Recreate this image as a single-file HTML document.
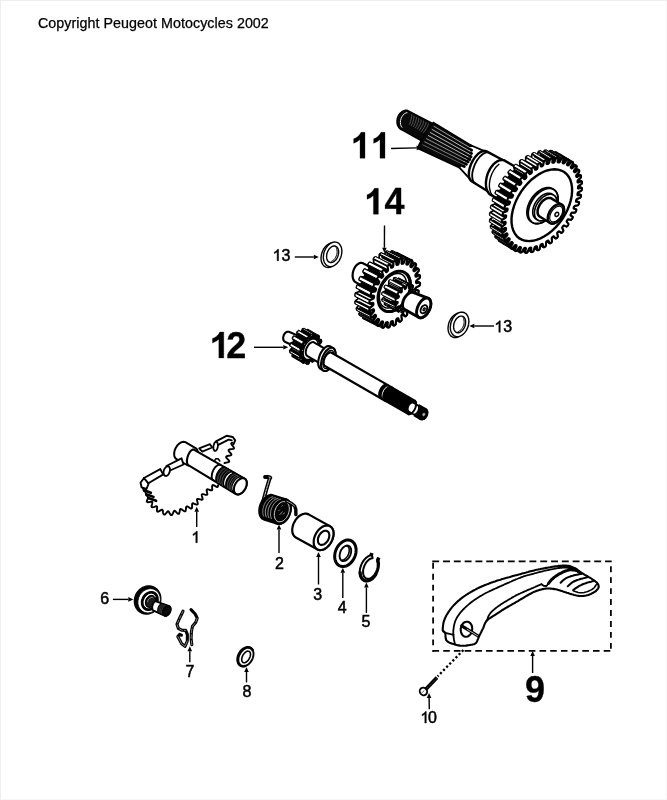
<!DOCTYPE html>
<html><head><meta charset="utf-8"><title>Parts diagram</title>
<style>
html,body{margin:0;padding:0;background:#fff;}
body{width:667px;height:800px;overflow:hidden;position:relative;font-family:"Liberation Sans",sans-serif;}
svg{position:absolute;left:0;top:0;display:block;filter:grayscale(1) blur(0.35px);}
svg text{font-family:"Liberation Sans",sans-serif;fill:#000;}
.frame{position:absolute;left:0;top:0;width:667px;height:800px;box-sizing:border-box;border-top:1px solid #eee;border-left:1px solid #eee;border-right:1px solid #f7f7f7;border-bottom:1px solid #f7f7f7;}
</style></head><body>
<svg width="667" height="800" viewBox="0 0 667 800">
<rect width="667" height="800" fill="#fff"/>
<path d="M402.4 130 L401.2 129.6 L400.2 128.9 L399.3 128 L398.5 126.9 L397.8 125.7 L397.4 124.3 L397.1 122.8 L397.1 121.3 L397.2 119.7 L397.5 118.2 L398 116.7 L398.7 115.3 L399.6 114 L400.6 112.9 L401.7 112 L402.8 111.2 L404.1 110.7 L405.3 110.4 L406.6 110.4 L407.8 110.6 L431.5 123 L432.4 123.9 L433.1 125 L433.6 126.2 L433.9 127.5 L434 128.9 L433.9 130.4 L433.5 131.9 L432.9 133.3 L432.2 134.8 L431.2 136.1 L430.1 137.3 L428.9 138.3 L427.6 139.1 L426.2 139.8 L424.8 140.2 L423.4 140.5 L422 140.4 L420.7 140.2 L419.6 139.7 L418.5 139Z" fill="#0a0a0a" stroke="#000" stroke-width="1.6" stroke-linejoin="round"/>
<path d="M402.2 127.6 L401.2 126.2 L400.6 124.5 L400.4 122.6 L400.5 120.6 L401 118.6 L401.9 116.7 L403 115.1 L404.4 113.8 L405.8 113 L407.4 112.6" fill="none" stroke="#e8e8e8" stroke-width="1" />
<path d="M411.4 114.3 L411.6 114.9 L411.7 115.7 L411.6 116.8 L411.4 118.2 L411 119.8 L410.6 121.4 L410 123.1 L409.3 124.7" fill="none" stroke="#9a9a9a" stroke-width="0.5" />
<path d="M413.8 115.6 L414 116.1 L414 117 L413.9 118.1 L413.6 119.5 L413.2 121 L412.7 122.6 L412 124.3 L411.3 125.9" fill="none" stroke="#9a9a9a" stroke-width="0.5" />
<path d="M416.2 116.9 L416.4 117.4 L416.4 118.3 L416.2 119.4 L415.9 120.8 L415.4 122.3 L414.8 123.9 L414.1 125.5 L413.3 127" fill="none" stroke="#9a9a9a" stroke-width="0.5" />
<path d="M418.7 118.2 L418.8 118.7 L418.8 119.6 L418.5 120.7 L418.1 122 L417.6 123.5 L416.9 125.1 L416.1 126.7 L415.3 128.2" fill="none" stroke="#9a9a9a" stroke-width="0.5" />
<path d="M421.1 119.5 L421.2 120 L421.1 120.9 L420.9 122 L420.4 123.3 L419.8 124.8 L419 126.3 L418.2 127.8 L417.2 129.3" fill="none" stroke="#9a9a9a" stroke-width="0.5" />
<path d="M423.5 120.7 L423.6 121.3 L423.5 122.2 L423.2 123.3 L422.7 124.6 L422 126 L421.1 127.5 L420.2 129 L419.2 130.5" fill="none" stroke="#9a9a9a" stroke-width="0.5" />
<path d="M425.9 122 L426 122.6 L425.9 123.5 L425.5 124.5 L424.9 125.8 L424.2 127.3 L423.3 128.7 L422.3 130.2 L421.2 131.7" fill="none" stroke="#9a9a9a" stroke-width="0.5" />
<path d="M428.4 123.3 L428.4 123.9 L428.2 124.7 L427.8 125.8 L427.2 127.1 L426.3 128.5 L425.4 130 L424.3 131.4 L423.2 132.8" fill="none" stroke="#9a9a9a" stroke-width="0.5" />
<path d="M418 148.6 L417.9 148.3 L418 147.7 L418.3 146.8 L418.7 145.7 L419.4 144.2 L420.2 142.6 L421.1 140.8 L422.2 138.9 L423.3 136.9 L424.5 134.8 L425.7 132.8 L427 130.8 L428.2 129 L429.3 127.3 L430.4 125.9 L431.3 124.6 L432.2 123.7 L432.8 123 L433.3 122.6 L433.6 122.6 L471.6 145.8 L472.1 146.2 L472.4 146.9 L472.5 147.8 L472.5 148.9 L472.4 150.2 L472.1 151.8 L471.6 153.4 L471 155.1 L470.3 156.9 L469.5 158.7 L468.6 160.4 L467.6 162 L466.6 163.6 L465.6 164.9 L464.6 166.1 L463.6 167 L462.7 167.7 L461.9 168.2 L461.2 168.3 L460.6 168.2Z" fill="#0a0a0a" stroke="#000" stroke-width="1.6" stroke-linejoin="round"/>
<path d="M459.4 167.6 L470.2 145 L485 151.4 L485.4 151.8 L485.5 152.5 L485.5 153.6 L485.4 155 L485 156.6 L484.4 158.5 L483.7 160.5 L482.9 162.7 L481.9 164.9 L480.9 167.2 L479.7 169.4 L478.6 171.6 L477.4 173.6 L476.2 175.4 L475.1 177 L474 178.3 L473.1 179.3 L472.2 179.9 L471.5 180.2 L471 180.2Z" fill="#fff" stroke="#000" stroke-width="1.9" stroke-linejoin="round"/>
<path d="M468 148.1 L471.6 150.3" fill="none" stroke="#000" stroke-width="2.9" stroke-linecap="round"/>
<path d="M466.6 150.8 L471.5 153.6" fill="none" stroke="#000" stroke-width="2.9" stroke-linecap="round"/>
<path d="M465.3 153.6 L471 156.7" fill="none" stroke="#000" stroke-width="2.9" stroke-linecap="round"/>
<path d="M463.9 156.3 L469.8 159.4" fill="none" stroke="#000" stroke-width="2.9" stroke-linecap="round"/>
<path d="M462.6 159 L468.1 161.8" fill="none" stroke="#000" stroke-width="2.9" stroke-linecap="round"/>
<path d="M461.2 161.7 L466.4 164.2" fill="none" stroke="#000" stroke-width="2.9" stroke-linecap="round"/>
<path d="M459.9 164.4 L464.3 166.5" fill="none" stroke="#000" stroke-width="2.9" stroke-linecap="round"/>
<path d="M433.6 126.1 L470.5 148" fill="none" stroke="#fff" stroke-width="0.6" />
<path d="M431.7 129.2 L470.4 151.4" fill="none" stroke="#fff" stroke-width="0.7" />
<path d="M429.9 132.3 L469.8 154.5" fill="none" stroke="#fff" stroke-width="0.7" />
<path d="M428 135.4 L468.5 157.2" fill="none" stroke="#fff" stroke-width="0.7" />
<path d="M426.2 138.5 L466.8 159.6" fill="none" stroke="#eee" stroke-width="0.6" />
<path d="M424.3 141.6 L465.1 162.1" fill="none" stroke="#ddd" stroke-width="0.6" />
<path d="M422.5 144.7 L463 164.4" fill="none" stroke="#bbb" stroke-width="0.5" />
<path d="M472.4 181.8 L471.3 181 L470.3 179.9 L469.6 178.5 L469.1 176.7 L468.9 174.7 L468.9 172.5 L469.2 170.2 L469.8 167.8 L470.6 165.3 L471.6 162.9 L472.8 160.6 L474.2 158.4 L475.7 156.4 L477.3 154.7 L478.9 153.2 L480.6 152.1 L482.2 151.4 L483.8 151 L485.3 151 L486.6 151.4 L503.2 160.2 L504.4 160.9 L505.5 162.1 L506.3 163.5 L506.9 165.3 L507.2 167.4 L507.3 169.7 L507 172.1 L506.6 174.7 L505.9 177.3 L504.9 179.9 L503.8 182.4 L502.4 184.7 L501 186.9 L499.4 188.7 L497.7 190.3 L496 191.6 L494.4 192.4 L492.7 192.9 L491.2 192.9 L489.8 192.6Z" fill="#fff" stroke="#000" stroke-width="2.4" stroke-linejoin="round"/>
<path d="M476.7 183.9 L475.5 183.5 L474.4 182.8 L473.5 181.7 L472.8 180.2 L472.4 178.5 L472.2 176.5 L472.2 174.3 L472.5 172 L473.1 169.5 L473.9 167.1 L474.8 164.6 L476 162.3 L477.3 160.1 L478.8 158 L480.4 156.2 L482 154.8 L483.6 153.6 L485.2 152.8 L486.7 152.3 L488.1 152.2" fill="none" stroke="#000" stroke-width="1.8" />
<path d="M492 195.6 L490.4 194.8 L489 193.6 L487.9 192 L487 190.1 L486.3 187.9 L486 185.4 L485.9 182.7 L486.2 180 L486.7 177.1 L487.5 174.3 L488.6 171.6 L489.9 169.1 L491.5 166.7 L493.1 164.7 L494.9 163 L496.8 161.6 L498.7 160.7 L500.6 160.1 L502.5 160 L504.2 160.4 L520 169.6 L521.6 170.4 L523 171.6 L524.2 173.2 L525.2 175.1 L525.9 177.4 L526.2 179.9 L526.3 182.6 L526.1 185.4 L525.6 188.3 L524.8 191.2 L523.7 193.9 L522.4 196.5 L520.9 198.9 L519.2 201 L517.4 202.8 L515.5 204.2 L513.5 205.2 L511.6 205.7 L509.8 205.8 L508 205.5Z" fill="#fff" stroke="#000" stroke-width="2.4" stroke-linejoin="round"/>
<path d="M495.9 197 L494.6 196.6 L493.4 196 L492.4 195 L491.4 193.9 L490.7 192.5 L490.1 190.8 L489.7 189 L489.4 187.1 L489.4 185 L489.5 182.9 L489.8 180.6 L490.3 178.4 L491 176.2 L491.8 174 L492.8 172 L493.9 170 L495.1 168.2 L496.5 166.6 L497.9 165.2 L499.3 164" fill="none" stroke="#000" stroke-width="1.4" />
<path d="M504.1 237.9 L504.5 238.2 L504.6 238.8 L502.8 242.7 L503 243.4 L503.5 243.6 L504 243.8 L504.7 243.6 L507.2 240 L507.9 239.7 L508.4 239.8 L508.8 239.9 L509.1 240.5 L507.7 244.5 L508 245.1 L508.6 245.2 L509.1 245.2 L509.9 244.8 L512 241 L512.7 240.6 L513.2 240.6 L513.7 240.7 L514 241.2 L513.2 245.1 L513.6 245.5 L514.2 245.5 L514.8 245.5 L515.5 245 L517.2 241 L517.9 240.5 L518.4 240.4 L519 240.3 L519.4 240.7 L519.1 244.5 L519.6 244.8 L520.2 244.7 L520.8 244.5 L521.5 243.9 L522.7 240 L523.4 239.3 L523.9 239.2 L524.5 239 L525 239.2 L525.2 242.7 L525.8 243 L526.4 242.7 L527 242.5 L527.7 241.7 L528.4 237.9 L529 237.2 L529.6 236.9 L530.2 236.6 L530.7 236.7 L531.4 239.9 L532.1 240 L532.7 239.6 L533.4 239.3 L533.9 238.5 L534.2 234.8 L534.7 234 L535.2 233.7 L535.8 233.3 L536.4 233.3 L537.7 236 L538.3 236 L539 235.5 L539.6 235.1 L540.1 234.2 L539.8 230.8 L540.2 230 L540.8 229.5 L541.3 229.1 L542 229 L543.7 231.2 L544.4 231 L545 230.5 L545.6 230 L546 229.1 L545.2 226 L545.5 225.2 L546 224.6 L546.5 224.1 L547.2 223.9 L549.3 225.6 L550.1 225.3 L550.6 224.7 L551.2 224.1 L551.5 223.2 L550.2 220.5 L550.4 219.7 L550.9 219.1 L551.3 218.5 L552 218.1 L554.5 219.3 L555.3 218.9 L555.8 218.2 L556.3 217.5 L556.5 216.6 L554.7 214.5 L554.8 213.6 L555.2 213 L555.6 212.4 L556.3 211.9 L559.1 212.5 L559.9 211.9 L560.3 211.2 L560.7 210.5 L560.8 209.6 L558.6 208 L558.6 207.2 L558.9 206.6 L559.3 205.9 L559.9 205.3 L563 205.3 L563.7 204.6 L564 203.9 L564.4 203.1 L564.3 202.3 L561.8 201.3 L561.7 200.6 L561.9 199.9 L562.2 199.2 L562.8 198.6 L566.1 197.9 L566.7 197.2 L566.9 196.4 L567.2 195.7 L567 194.9 L564.2 194.5 L564 193.9 L564.2 193.2 L564.3 192.5 L564.9 191.8 L568.2 190.5 L568.8 189.7 L568.9 189 L569.1 188.2 L568.8 187.6 L565.7 187.8 L565.4 187.3 L565.5 186.6 L565.6 186 L566.1 185.2 L569.4 183.3 L569.9 182.5 L570 181.8 L570 181.1 L569.6 180.5 L566.4 181.4 L566 180.9 L566 180.3 L566 179.7 L566.4 178.9 L569.7 176.5 L570 175.6 L570 175 L570 174.3 L569.5 173.9 L566.2 175.3 L565.7 175 L565.6 174.4 L565.5 173.9 L565.8 173 L568.9 170.2 L569.2 169.3 L569.1 168.7 L568.9 168.1 L568.4 167.8 L565 169.8 L564.5 169.6 L564.3 169.1 L564.1 168.6 L564.3 167.8 L567.2 164.6 L567.4 163.7 L567.2 163.2 L566.9 162.7 L566.3 162.5 L563 165 L562.4 164.9 L562.2 164.5 L561.9 164.1 L562 163.3 L564.6 159.8 L564.6 158.9 L564.3 158.5 L564 158.1 L563.3 158.1 L560.2 161 L559.6 161.1 L559.3 160.7 L558.9 160.4 L558.9 159.7 L561.1 155.9 L561.1 155.1 L560.6 154.8 L560.2 154.5 L559.5 154.6 L556.7 157.9 L556 158.1 L555.6 157.9 L555.2 157.7 L555.1 157 L556.9 153.1 L556.7 152.4 L556.2 152.2 L555.7 152 L555 152.2 L552.5 155.8 L551.8 156.2 L551.3 156 L550.9 155.9 L550.6 155.3 L552 151.3 L551.7 150.8 L551.1 150.7 L550.6 150.6 L549.8 151 L547.7 154.8 L547 155.2 L546.5 155.2 L546 155.2 L545.7 154.7 L546.5 150.8 L546.1 150.3 L545.5 150.3 L544.9 150.3 L544.2 150.8 L542.5 154.8 L541.8 155.3 L541.3 155.4 L540.7 155.5 L540.3 155.1 L540.6 151.3 L540.1 151 L539.5 151.1 L538.9 151.3 L538.2 151.9 L537 155.9 L536.3 156.5 L535.8 156.6 L535.2 156.8 L534.7 156.6 L534.5 153.1 L533.9 152.8 L533.3 153.1 L532.7 153.4 L532 154.1 L531.3 157.9 L530.7 158.7 L530.1 158.9 L529.5 159.2 L529 159.1 L528.3 155.9 L527.6 155.8 L527 156.2 L526.3 156.5 L525.8 157.3 L525.5 161 L525 161.8 L524.5 162.2 L523.9 162.5 L523.3 162.5 L522 159.8 L521.4 159.8 L520.7 160.3 L520.1 160.7 L519.6 161.6 L519.9 165 L519.5 165.8 L518.9 166.3 L518.4 166.7 L517.7 166.8 L516 164.6 L515.3 164.8 L514.7 165.3 L514.1 165.9 L513.7 166.7 L514.5 169.8 L514.2 170.6 L513.7 171.2 L513.2 171.7 L512.5 171.9 L510.4 170.2 L509.6 170.5 L509.1 171.1 L508.5 171.8 L508.2 172.6 L509.5 175.3 L509.3 176.1 L508.8 176.7 L508.4 177.3 L507.7 177.7 L505.2 176.5 L504.4 177 L503.9 177.6 L503.4 178.3 L503.2 179.2 L505 181.4 L504.9 182.2 L504.5 182.8 L504.1 183.4 L503.4 183.9 L500.6 183.3 L499.8 183.9 L499.4 184.6 L499 185.3 L498.9 186.2 L501.1 187.8 L501.1 188.6 L500.8 189.2 L500.4 189.9 L499.8 190.5 L496.7 190.5 L496 191.2 L495.7 191.9 L495.3 192.7 L495.4 193.5 L497.9 194.5 L498 195.2 L497.8 195.9 L497.5 196.6 L496.9 197.2 L493.6 197.9 L493 198.7 L492.8 199.4 L492.5 200.2 L492.7 200.9 L495.5 201.3 L495.7 201.9 L495.5 202.6 L495.4 203.3 L494.8 204 L491.5 205.3 L490.9 206.1 L490.8 206.8 L490.6 207.6 L490.9 208.2 L494 208 L494.3 208.5 L494.2 209.2 L494.1 209.8 L493.6 210.6 L490.3 212.5 L489.8 213.3 L489.7 214 L489.7 214.7 L490.1 215.3 L493.3 214.5 L493.7 214.9 L493.7 215.5 L493.7 216.1 L493.3 216.9 L490 219.3 L489.7 220.2 L489.7 220.9 L489.7 221.5 L490.2 221.9 L493.5 220.5 L494 220.8 L494.1 221.4 L494.2 222 L493.9 222.8 L490.8 225.6 L490.5 226.5 L490.6 227.1 L490.8 227.7 L491.3 228 L494.7 226 L495.2 226.2 L495.4 226.7 L495.6 227.2 L495.4 228 L492.5 231.2 L492.3 232.1 L492.5 232.6 L492.8 233.1 L493.4 233.3 L496.7 230.8 L497.3 230.9 L497.5 231.3 L497.8 231.7 L497.7 232.5 L495.1 236.1 L495.1 236.9 L495.4 237.3 L495.7 237.7 L496.4 237.7 L499.5 234.8 L500.1 234.7 L500.4 235.1 L500.8 235.4 L500.8 236.1 L498.6 239.9 L498.6 240.7 L499.1 241 L499.5 241.3 L500.2 241.2 L503 237.9 L503.7 237.7ZM516.1 245.2 L516.5 245.4 L504.5 238.2 L504.1 237.9ZM516.5 245.4 L516.6 246.1 L504.6 238.8 L504.5 238.2ZM516.6 246.1 L514.8 250 L502.8 242.7 L504.6 238.8ZM514.8 250 L515 250.7 L503 243.4 L502.8 242.7ZM515 250.7 L515.4 250.9 L503.5 243.6 L503 243.4ZM515.4 250.9 L515.9 251.1 L504 243.8 L503.5 243.6ZM515.9 251.1 L516.7 250.9 L504.7 243.6 L504 243.8ZM516.7 250.9 L519.2 247.3 L507.2 240 L504.7 243.6ZM519.2 247.3 L519.9 246.9 L507.9 239.7 L507.2 240ZM519.9 246.9 L520.3 247.1 L508.4 239.8 L507.9 239.7ZM520.3 247.1 L520.8 247.2 L508.8 239.9 L508.4 239.8ZM520.8 247.2 L521 247.8 L509.1 240.5 L508.8 239.9ZM521 247.8 L519.7 251.8 L507.7 244.5 L509.1 240.5ZM519.7 251.8 L520 252.4 L508 245.1 L507.7 244.5ZM520 252.4 L520.5 252.5 L508.6 245.2 L508 245.1ZM520.5 252.5 L521.1 252.5 L509.1 245.2 L508.6 245.2ZM521.1 252.5 L521.8 252.1 L509.9 244.8 L509.1 245.2ZM521.8 252.1 L524 248.3 L512 241 L509.9 244.8ZM524 248.3 L524.7 247.9 L512.7 240.6 L512 241ZM524.7 247.9 L525.2 247.9 L513.2 240.6 L512.7 240.6ZM525.2 247.9 L525.7 248 L513.7 240.7 L513.2 240.6ZM525.7 248 L526 248.4 L514 241.2 L513.7 240.7ZM526 248.4 L525.1 252.3 L513.2 245.1 L514 241.2ZM525.1 252.3 L525.5 252.8 L513.6 245.5 L513.2 245.1ZM525.5 252.8 L526.1 252.8 L514.2 245.5 L513.6 245.5ZM526.1 252.8 L526.7 252.8 L514.8 245.5 L514.2 245.5ZM526.7 252.8 L527.4 252.3 L515.5 245 L514.8 245.5ZM527.4 252.3 L529.2 248.3 L517.2 241 L515.5 245ZM529.2 248.3 L529.8 247.8 L517.9 240.5 L517.2 241ZM529.8 247.8 L530.4 247.7 L518.4 240.4 L517.9 240.5ZM530.4 247.7 L530.9 247.6 L519 240.3 L518.4 240.4ZM530.9 247.6 L531.3 248 L519.4 240.7 L519 240.3ZM531.3 248 L531 251.8 L519.1 244.5 L519.4 240.7ZM531 251.8 L531.5 252.1 L519.6 244.8 L519.1 244.5ZM531.5 252.1 L532.1 252 L520.2 244.7 L519.6 244.8ZM532.1 252 L532.7 251.8 L520.8 244.5 L520.2 244.7ZM532.7 251.8 L533.4 251.2 L521.5 243.9 L520.8 244.5ZM533.4 251.2 L534.7 247.3 L522.7 240 L521.5 243.9ZM534.7 247.3 L535.3 246.6 L523.4 239.3 L522.7 240ZM535.3 246.6 L535.9 246.5 L523.9 239.2 L523.4 239.3ZM535.9 246.5 L536.4 246.3 L524.5 239 L523.9 239.2ZM536.4 246.3 L537 246.5 L525 239.2 L524.5 239ZM537 246.5 L537.1 250 L525.2 242.7 L525 239.2ZM537.1 250 L537.7 250.3 L525.8 243 L525.2 242.7ZM537.7 250.3 L538.4 250 L526.4 242.7 L525.8 243ZM538.4 250 L539 249.8 L527 242.5 L526.4 242.7ZM539 249.8 L539.6 249 L527.7 241.7 L527 242.5ZM539.6 249 L540.4 245.2 L528.4 237.9 L527.7 241.7ZM540.4 245.2 L541 244.5 L529 237.2 L528.4 237.9ZM541 244.5 L541.5 244.2 L529.6 236.9 L529 237.2ZM541.5 244.2 L542.1 243.9 L530.2 236.6 L529.6 236.9ZM542.1 243.9 L542.7 244 L530.7 236.7 L530.2 236.6ZM542.7 244 L543.4 247.2 L531.4 239.9 L530.7 236.7ZM543.4 247.2 L544 247.3 L532.1 240 L531.4 239.9ZM544 247.3 L544.7 246.9 L532.7 239.6 L532.1 240ZM544.7 246.9 L545.3 246.6 L533.4 239.3 L532.7 239.6ZM545.3 246.6 L545.9 245.8 L533.9 238.5 L533.4 239.3ZM545.9 245.8 L546.1 242.1 L534.2 234.8 L533.9 238.5ZM546.1 242.1 L546.6 241.3 L534.7 234 L534.2 234.8ZM546.6 241.3 L547.2 240.9 L535.2 233.7 L534.7 234ZM547.2 240.9 L547.8 240.6 L535.8 233.3 L535.2 233.7ZM547.8 240.6 L548.4 240.6 L536.4 233.3 L535.8 233.3ZM548.4 240.6 L549.6 243.3 L537.7 236 L536.4 233.3ZM549.6 243.3 L550.3 243.3 L538.3 236 L537.7 236ZM550.3 243.3 L550.9 242.8 L539 235.5 L538.3 236ZM550.9 242.8 L551.5 242.4 L539.6 235.1 L539 235.5ZM551.5 242.4 L552 241.5 L540.1 234.2 L539.6 235.1ZM552 241.5 L551.7 238.1 L539.8 230.8 L540.1 234.2ZM551.7 238.1 L552.2 237.3 L540.2 230 L539.8 230.8ZM552.2 237.3 L552.7 236.8 L540.8 229.5 L540.2 230ZM552.7 236.8 L553.3 236.4 L541.3 229.1 L540.8 229.5ZM553.3 236.4 L553.9 236.3 L542 229 L541.3 229.1ZM553.9 236.3 L555.6 238.5 L543.7 231.2 L542 229ZM555.6 238.5 L556.4 238.3 L544.4 231 L543.7 231.2ZM556.4 238.3 L556.9 237.8 L545 230.5 L544.4 231ZM556.9 237.8 L557.5 237.2 L545.6 230 L545 230.5ZM557.5 237.2 L557.9 236.4 L546 229.1 L545.6 230ZM557.9 236.4 L557.1 233.3 L545.2 226 L546 229.1ZM557.1 233.3 L557.5 232.5 L545.5 225.2 L545.2 226ZM557.5 232.5 L558 231.9 L546 224.6 L545.5 225.2ZM558 231.9 L558.5 231.4 L546.5 224.1 L546 224.6ZM558.5 231.4 L559.2 231.2 L547.2 223.9 L546.5 224.1ZM559.2 231.2 L561.3 232.9 L549.3 225.6 L547.2 223.9ZM561.3 232.9 L562 232.6 L550.1 225.3 L549.3 225.6ZM562 232.6 L562.6 232 L550.6 224.7 L550.1 225.3ZM562.6 232 L563.1 231.3 L551.2 224.1 L550.6 224.7ZM563.1 231.3 L563.4 230.5 L551.5 223.2 L551.2 224.1ZM563.4 230.5 L562.1 227.8 L550.2 220.5 L551.5 223.2ZM562.1 227.8 L562.4 227 L550.4 219.7 L550.2 220.5ZM562.4 227 L562.8 226.4 L550.9 219.1 L550.4 219.7ZM562.8 226.4 L563.3 225.8 L551.3 218.5 L550.9 219.1ZM563.3 225.8 L564 225.4 L552 218.1 L551.3 218.5ZM564 225.4 L566.5 226.6 L554.5 219.3 L552 218.1ZM566.5 226.6 L567.2 226.1 L555.3 218.9 L554.5 219.3ZM567.2 226.1 L567.7 225.5 L555.8 218.2 L555.3 218.9ZM567.7 225.5 L568.2 224.8 L556.3 217.5 L555.8 218.2ZM568.2 224.8 L568.4 223.9 L556.5 216.6 L556.3 217.5ZM568.4 223.9 L566.6 221.7 L554.7 214.5 L556.5 216.6ZM566.6 221.7 L566.8 220.9 L554.8 213.6 L554.7 214.5ZM566.8 220.9 L567.2 220.3 L555.2 213 L554.8 213.6ZM567.2 220.3 L567.6 219.7 L555.6 212.4 L555.2 213ZM567.6 219.7 L568.3 219.2 L556.3 211.9 L555.6 212.4ZM568.3 219.2 L571.1 219.8 L559.1 212.5 L556.3 211.9ZM571.1 219.8 L571.8 219.2 L559.9 211.9 L559.1 212.5ZM571.8 219.2 L572.2 218.5 L560.3 211.2 L559.9 211.9ZM572.2 218.5 L572.6 217.8 L560.7 210.5 L560.3 211.2ZM572.6 217.8 L572.7 216.9 L560.8 209.6 L560.7 210.5ZM572.7 216.9 L570.5 215.3 L558.6 208 L560.8 209.6ZM570.5 215.3 L570.6 214.5 L558.6 207.2 L558.6 208ZM570.6 214.5 L570.9 213.9 L558.9 206.6 L558.6 207.2ZM570.9 213.9 L571.2 213.2 L559.3 205.9 L558.9 206.6ZM571.2 213.2 L571.9 212.6 L559.9 205.3 L559.3 205.9ZM571.9 212.6 L575 212.6 L563 205.3 L559.9 205.3ZM575 212.6 L575.6 211.9 L563.7 204.6 L563 205.3ZM575.6 211.9 L576 211.2 L564 203.9 L563.7 204.6ZM576 211.2 L576.3 210.4 L564.4 203.1 L564 203.9ZM576.3 210.4 L576.3 209.6 L564.3 202.3 L564.4 203.1ZM576.3 209.6 L573.7 208.6 L561.8 201.3 L564.3 202.3ZM573.7 208.6 L573.6 207.9 L561.7 200.6 L561.8 201.3ZM573.6 207.9 L573.9 207.2 L561.9 199.9 L561.7 200.6ZM573.9 207.2 L574.2 206.5 L562.2 199.2 L561.9 199.9ZM574.2 206.5 L574.8 205.9 L562.8 198.6 L562.2 199.2ZM574.8 205.9 L578 205.2 L566.1 197.9 L562.8 198.6ZM578 205.2 L578.6 204.4 L566.7 197.2 L566.1 197.9ZM578.6 204.4 L578.9 203.7 L566.9 196.4 L566.7 197.2ZM578.9 203.7 L579.1 203 L567.2 195.7 L566.9 196.4ZM579.1 203 L579 202.2 L567 194.9 L567.2 195.7ZM579 202.2 L576.1 201.8 L564.2 194.5 L567 194.9ZM576.1 201.8 L575.9 201.2 L564 193.9 L564.2 194.5ZM575.9 201.2 L576.1 200.5 L564.2 193.2 L564 193.9ZM576.1 200.5 L576.3 199.8 L564.3 192.5 L564.2 193.2ZM576.3 199.8 L576.8 199.1 L564.9 191.8 L564.3 192.5ZM576.8 199.1 L580.2 197.8 L568.2 190.5 L564.9 191.8ZM580.2 197.8 L580.7 197 L568.8 189.7 L568.2 190.5ZM580.7 197 L580.9 196.3 L568.9 189 L568.8 189.7ZM580.9 196.3 L581 195.5 L569.1 188.2 L568.9 189ZM581 195.5 L580.8 194.9 L568.8 187.6 L569.1 188.2ZM580.8 194.9 L577.7 195.1 L565.7 187.8 L568.8 187.6ZM577.7 195.1 L577.4 194.6 L565.4 187.3 L565.7 187.8ZM577.4 194.6 L577.5 193.9 L565.5 186.6 L565.4 187.3ZM577.5 193.9 L577.6 193.3 L565.6 186 L565.5 186.6ZM577.6 193.3 L578 192.5 L566.1 185.2 L565.6 186ZM578 192.5 L581.4 190.6 L569.4 183.3 L566.1 185.2ZM581.4 190.6 L581.8 189.8 L569.9 182.5 L569.4 183.3ZM581.8 189.8 L581.9 189.1 L570 181.8 L569.9 182.5ZM581.9 189.1 L582 188.4 L570 181.1 L570 181.8ZM582 188.4 L581.6 187.8 L569.6 180.5 L570 181.1ZM581.6 187.8 L578.3 188.6 L566.4 181.4 L569.6 180.5ZM578.3 188.6 L577.9 188.2 L566 180.9 L566.4 181.4ZM577.9 188.2 L578 187.6 L566 180.3 L566 180.9ZM578 187.6 L578 187 L566 179.7 L566 180.3ZM578 187 L578.3 186.2 L566.4 178.9 L566 179.7ZM578.3 186.2 L581.6 183.8 L569.7 176.5 L566.4 178.9ZM581.6 183.8 L582 182.9 L570 175.6 L569.7 176.5ZM582 182.9 L582 182.3 L570 175 L570 175.6ZM582 182.3 L581.9 181.6 L570 174.3 L570 175ZM581.9 181.6 L581.4 181.2 L569.5 173.9 L570 174.3ZM581.4 181.2 L578.1 182.6 L566.2 175.3 L569.5 173.9ZM578.1 182.6 L577.6 182.3 L565.7 175 L566.2 175.3ZM577.6 182.3 L577.5 181.7 L565.6 174.4 L565.7 175ZM577.5 181.7 L577.5 181.2 L565.5 173.9 L565.6 174.4ZM577.5 181.2 L577.8 180.3 L565.8 173 L565.5 173.9ZM577.8 180.3 L580.9 177.5 L568.9 170.2 L565.8 173ZM580.9 177.5 L581.1 176.6 L569.2 169.3 L568.9 170.2ZM581.1 176.6 L581 176 L569.1 168.7 L569.2 169.3ZM581 176 L580.9 175.4 L568.9 168.1 L569.1 168.7ZM580.9 175.4 L580.3 175.1 L568.4 167.8 L568.9 168.1ZM580.3 175.1 L577 177.1 L565 169.8 L568.4 167.8ZM577 177.1 L576.4 176.9 L564.5 169.6 L565 169.8ZM576.4 176.9 L576.3 176.4 L564.3 169.1 L564.5 169.6ZM576.3 176.4 L576.1 175.9 L564.1 168.6 L564.3 169.1ZM576.1 175.9 L576.3 175.1 L564.3 167.8 L564.1 168.6ZM576.3 175.1 L579.2 171.9 L567.2 164.6 L564.3 167.8ZM579.2 171.9 L579.3 171 L567.4 163.7 L567.2 164.6ZM579.3 171 L579.1 170.5 L567.2 163.2 L567.4 163.7ZM579.1 170.5 L578.9 170 L566.9 162.7 L567.2 163.2ZM578.9 170 L578.2 169.8 L566.3 162.5 L566.9 162.7ZM578.2 169.8 L575 172.3 L563 165 L566.3 162.5ZM575 172.3 L574.4 172.2 L562.4 164.9 L563 165ZM574.4 172.2 L574.1 171.8 L562.2 164.5 L562.4 164.9ZM574.1 171.8 L573.9 171.4 L561.9 164.1 L562.2 164.5ZM573.9 171.4 L574 170.6 L562 163.3 L561.9 164.1ZM574 170.6 L576.6 167.1 L564.6 159.8 L562 163.3ZM576.6 167.1 L576.6 166.2 L564.6 158.9 L564.6 159.8ZM576.6 166.2 L576.3 165.8 L564.3 158.5 L564.6 158.9ZM576.3 165.8 L575.9 165.4 L564 158.1 L564.3 158.5ZM575.9 165.4 L575.3 165.4 L563.3 158.1 L564 158.1ZM575.3 165.4 L572.2 168.3 L560.2 161 L563.3 158.1ZM572.2 168.3 L571.5 168.4 L559.6 161.1 L560.2 161ZM571.5 168.4 L571.2 168 L559.3 160.7 L559.6 161.1ZM571.2 168 L570.9 167.7 L558.9 160.4 L559.3 160.7ZM570.9 167.7 L570.8 167 L558.9 159.7 L558.9 160.4ZM570.8 167 L573.1 163.2 L561.1 155.9 L558.9 159.7ZM573.1 163.2 L573 162.4 L561.1 155.1 L561.1 155.9ZM573 162.4 L572.6 162.1 L560.6 154.8 L561.1 155.1ZM572.6 162.1 L572.2 161.8 L560.2 154.5 L560.6 154.8ZM572.2 161.8 L571.5 161.9 L559.5 154.6 L560.2 154.5ZM571.5 161.9 L568.6 165.2 L556.7 157.9 L559.5 154.6ZM568.6 165.2 L567.9 165.4 L556 158.1 L556.7 157.9ZM567.9 165.4 L567.5 165.2 L555.6 157.9 L556 158.1ZM567.5 165.2 L567.1 165 L555.2 157.7 L555.6 157.9ZM567.1 165 L567 164.3 L555.1 157 L555.2 157.7ZM567 164.3 L568.8 160.4 L556.9 153.1 L555.1 157ZM568.8 160.4 L568.6 159.7 L556.7 152.4 L556.9 153.1ZM568.6 159.7 L568.2 159.5 L556.2 152.2 L556.7 152.4ZM568.2 159.5 L567.7 159.3 L555.7 152 L556.2 152.2ZM567.7 159.3 L566.9 159.5 L555 152.2 L555.7 152ZM566.9 159.5 L564.4 163.1 L552.5 155.8 L555 152.2ZM564.4 163.1 L563.7 163.5 L551.8 156.2 L552.5 155.8ZM563.7 163.5 L563.3 163.3 L551.3 156 L551.8 156.2ZM563.3 163.3 L562.8 163.2 L550.9 155.9 L551.3 156ZM562.8 163.2 L562.6 162.6 L550.6 155.3 L550.9 155.9ZM562.6 162.6 L563.9 158.6 L552 151.3 L550.6 155.3ZM563.9 158.6 L563.6 158 L551.7 150.8 L552 151.3ZM563.6 158 L563.1 157.9 L551.1 150.7 L551.7 150.8ZM563.1 157.9 L562.5 157.9 L550.6 150.6 L551.1 150.7ZM562.5 157.9 L561.8 158.3 L549.8 151 L550.6 150.6ZM561.8 158.3 L559.6 162.1 L547.7 154.8 L549.8 151ZM559.6 162.1 L558.9 162.5 L547 155.2 L547.7 154.8ZM558.9 162.5 L558.4 162.5 L546.5 155.2 L547 155.2ZM558.4 162.5 L557.9 162.4 L546 155.2 L546.5 155.2ZM557.9 162.4 L557.6 162 L545.7 154.7 L546 155.2ZM557.6 162 L558.5 158.1 L546.5 150.8 L545.7 154.7ZM558.5 158.1 L558.1 157.6 L546.1 150.3 L546.5 150.8ZM558.1 157.6 L557.5 157.6 L545.5 150.3 L546.1 150.3ZM557.5 157.6 L556.9 157.6 L544.9 150.3 L545.5 150.3ZM556.9 157.6 L556.2 158.1 L544.2 150.8 L544.9 150.3ZM556.2 158.1 L554.4 162.1 L542.5 154.8 L544.2 150.8ZM554.4 162.1 L553.8 162.6 L541.8 155.3 L542.5 154.8ZM553.8 162.6 L553.2 162.7 L541.3 155.4 L541.8 155.3ZM553.2 162.7 L552.7 162.8 L540.7 155.5 L541.3 155.4ZM552.7 162.8 L552.3 162.4 L540.3 155.1 L540.7 155.5ZM552.3 162.4 L552.6 158.6 L540.6 151.3 L540.3 155.1ZM552.6 158.6 L552.1 158.3 L540.1 151 L540.6 151.3ZM552.1 158.3 L551.5 158.4 L539.5 151.1 L540.1 151ZM551.5 158.4 L550.9 158.6 L538.9 151.3 L539.5 151.1ZM550.9 158.6 L550.2 159.2 L538.2 151.9 L538.9 151.3ZM550.2 159.2 L548.9 163.1 L537 155.9 L538.2 151.9ZM548.9 163.1 L548.3 163.8 L536.3 156.5 L537 155.9ZM548.3 163.8 L547.7 163.9 L535.8 156.6 L536.3 156.5ZM547.7 163.9 L547.2 164.1 L535.2 156.8 L535.8 156.6ZM547.2 164.1 L546.6 163.9 L534.7 156.6 L535.2 156.8ZM546.6 163.9 L546.5 160.4 L534.5 153.1 L534.7 156.6ZM546.5 160.4 L545.9 160.1 L533.9 152.8 L534.5 153.1ZM545.9 160.1 L545.2 160.4 L533.3 153.1 L533.9 152.8ZM545.2 160.4 L544.6 160.6 L532.7 153.4 L533.3 153.1ZM544.6 160.6 L544 161.4 L532 154.1 L532.7 153.4ZM544 161.4 L543.2 165.2 L531.3 157.9 L532 154.1ZM543.2 165.2 L542.6 165.9 L530.7 158.7 L531.3 157.9ZM542.6 165.9 L542.1 166.2 L530.1 158.9 L530.7 158.7ZM542.1 166.2 L541.5 166.5 L529.5 159.2 L530.1 158.9ZM541.5 166.5 L540.9 166.4 L529 159.1 L529.5 159.2ZM540.9 166.4 L540.2 163.2 L528.3 155.9 L529 159.1ZM540.2 163.2 L539.6 163.1 L527.6 155.8 L528.3 155.9ZM539.6 163.1 L538.9 163.5 L527 156.2 L527.6 155.8ZM538.9 163.5 L538.3 163.8 L526.3 156.5 L527 156.2ZM538.3 163.8 L537.7 164.6 L525.8 157.3 L526.3 156.5ZM537.7 164.6 L537.5 168.3 L525.5 161 L525.8 157.3ZM537.5 168.3 L537 169.1 L525 161.8 L525.5 161ZM537 169.1 L536.4 169.5 L524.5 162.2 L525 161.8ZM536.4 169.5 L535.8 169.8 L523.9 162.5 L524.5 162.2ZM535.8 169.8 L535.2 169.8 L523.3 162.5 L523.9 162.5ZM535.2 169.8 L534 167.1 L522 159.8 L523.3 162.5ZM534 167.1 L533.3 167.1 L521.4 159.8 L522 159.8ZM533.3 167.1 L532.7 167.6 L520.7 160.3 L521.4 159.8ZM532.7 167.6 L532.1 168 L520.1 160.7 L520.7 160.3ZM532.1 168 L531.6 168.9 L519.6 161.6 L520.1 160.7ZM531.6 168.9 L531.9 172.3 L519.9 165 L519.6 161.6ZM531.9 172.3 L531.4 173.1 L519.5 165.8 L519.9 165ZM531.4 173.1 L530.9 173.6 L518.9 166.3 L519.5 165.8ZM530.9 173.6 L530.3 174 L518.4 166.7 L518.9 166.3ZM530.3 174 L529.7 174.1 L517.7 166.8 L518.4 166.7ZM529.7 174.1 L528 171.9 L516 164.6 L517.7 166.8ZM528 171.9 L527.2 172.1 L515.3 164.8 L516 164.6ZM527.2 172.1 L526.7 172.6 L514.7 165.3 L515.3 164.8ZM526.7 172.6 L526.1 173.2 L514.1 165.9 L514.7 165.3ZM526.1 173.2 L525.7 174 L513.7 166.7 L514.1 165.9ZM525.7 174 L526.5 177.1 L514.5 169.8 L513.7 166.7ZM526.5 177.1 L526.1 177.9 L514.2 170.6 L514.5 169.8ZM526.1 177.9 L525.6 178.5 L513.7 171.2 L514.2 170.6ZM525.6 178.5 L525.1 179 L513.2 171.7 L513.7 171.2ZM525.1 179 L524.4 179.2 L512.5 171.9 L513.2 171.7ZM524.4 179.2 L522.3 177.5 L510.4 170.2 L512.5 171.9ZM522.3 177.5 L521.6 177.8 L509.6 170.5 L510.4 170.2ZM521.6 177.8 L521 178.4 L509.1 171.1 L509.6 170.5ZM521 178.4 L520.5 179.1 L508.5 171.8 L509.1 171.1ZM520.5 179.1 L520.2 179.9 L508.2 172.6 L508.5 171.8ZM520.2 179.9 L521.5 182.6 L509.5 175.3 L508.2 172.6ZM521.5 182.6 L521.2 183.4 L509.3 176.1 L509.5 175.3ZM521.2 183.4 L520.8 184 L508.8 176.7 L509.3 176.1ZM520.8 184 L520.3 184.6 L508.4 177.3 L508.8 176.7ZM520.3 184.6 L519.6 185 L507.7 177.7 L508.4 177.3ZM519.6 185 L517.1 183.8 L505.2 176.5 L507.7 177.7ZM517.1 183.8 L516.4 184.3 L504.4 177 L505.2 176.5ZM516.4 184.3 L515.9 184.9 L503.9 177.6 L504.4 177ZM515.9 184.9 L515.4 185.6 L503.4 178.3 L503.9 177.6ZM515.4 185.6 L515.2 186.5 L503.2 179.2 L503.4 178.3ZM515.2 186.5 L517 188.7 L505 181.4 L503.2 179.2ZM517 188.7 L516.8 189.5 L504.9 182.2 L505 181.4ZM516.8 189.5 L516.4 190.1 L504.5 182.8 L504.9 182.2ZM516.4 190.1 L516 190.7 L504.1 183.4 L504.5 182.8ZM516 190.7 L515.3 191.2 L503.4 183.9 L504.1 183.4ZM515.3 191.2 L512.5 190.6 L500.6 183.3 L503.4 183.9ZM512.5 190.6 L511.8 191.2 L499.8 183.9 L500.6 183.3ZM511.8 191.2 L511.4 191.9 L499.4 184.6 L499.8 183.9ZM511.4 191.9 L511 192.6 L499 185.3 L499.4 184.6ZM511 192.6 L510.9 193.5 L498.9 186.2 L499 185.3ZM510.9 193.5 L513.1 195.1 L501.1 187.8 L498.9 186.2ZM513.1 195.1 L513 195.9 L501.1 188.6 L501.1 187.8ZM513 195.9 L512.7 196.5 L500.8 189.2 L501.1 188.6ZM512.7 196.5 L512.4 197.2 L500.4 189.9 L500.8 189.2ZM512.4 197.2 L511.7 197.8 L499.8 190.5 L500.4 189.9ZM511.7 197.8 L508.6 197.8 L496.7 190.5 L499.8 190.5ZM508.6 197.8 L508 198.5 L496 191.2 L496.7 190.5ZM508 198.5 L507.6 199.2 L495.7 191.9 L496 191.2ZM507.6 199.2 L507.3 200 L495.3 192.7 L495.7 191.9ZM507.3 200 L507.3 200.8 L495.4 193.5 L495.3 192.7ZM507.3 200.8 L509.9 201.8 L497.9 194.5 L495.4 193.5ZM509.9 201.8 L510 202.5 L498 195.2 L497.9 194.5ZM510 202.5 L509.7 203.2 L497.8 195.9 L498 195.2ZM509.7 203.2 L509.4 203.9 L497.5 196.6 L497.8 195.9ZM509.4 203.9 L508.8 204.5 L496.9 197.2 L497.5 196.6ZM508.8 204.5 L505.6 205.2 L493.6 197.9 L496.9 197.2ZM505.6 205.2 L505 206 L493 198.7 L493.6 197.9ZM505 206 L504.7 206.7 L492.8 199.4 L493 198.7ZM504.7 206.7 L504.5 207.4 L492.5 200.2 L492.8 199.4ZM504.5 207.4 L504.6 208.2 L492.7 200.9 L492.5 200.2ZM504.6 208.2 L507.5 208.6 L495.5 201.3 L492.7 200.9ZM507.5 208.6 L507.7 209.2 L495.7 201.9 L495.5 201.3ZM507.7 209.2 L507.5 209.9 L495.5 202.6 L495.7 201.9ZM507.5 209.9 L507.3 210.6 L495.4 203.3 L495.5 202.6ZM507.3 210.6 L506.8 211.3 L494.8 204 L495.4 203.3ZM506.8 211.3 L503.4 212.6 L491.5 205.3 L494.8 204ZM503.4 212.6 L502.9 213.4 L490.9 206.1 L491.5 205.3ZM502.9 213.4 L502.7 214.1 L490.8 206.8 L490.9 206.1ZM502.7 214.1 L502.6 214.9 L490.6 207.6 L490.8 206.8ZM502.6 214.9 L502.8 215.5 L490.9 208.2 L490.6 207.6ZM502.8 215.5 L505.9 215.3 L494 208 L490.9 208.2ZM505.9 215.3 L506.2 215.8 L494.3 208.5 L494 208ZM506.2 215.8 L506.1 216.5 L494.2 209.2 L494.3 208.5ZM506.1 216.5 L506 217.1 L494.1 209.8 L494.2 209.2ZM506 217.1 L505.6 217.9 L493.6 210.6 L494.1 209.8ZM505.6 217.9 L502.2 219.8 L490.3 212.5 L493.6 210.6ZM502.2 219.8 L501.8 220.6 L489.8 213.3 L490.3 212.5ZM501.8 220.6 L501.7 221.3 L489.7 214 L489.8 213.3ZM501.7 221.3 L501.6 222 L489.7 214.7 L489.7 214ZM501.6 222 L502 222.6 L490.1 215.3 L489.7 214.7ZM502 222.6 L505.3 221.8 L493.3 214.5 L490.1 215.3ZM505.3 221.8 L505.7 222.2 L493.7 214.9 L493.3 214.5ZM505.7 222.2 L505.6 222.8 L493.7 215.5 L493.7 214.9ZM505.6 222.8 L505.6 223.4 L493.7 216.1 L493.7 215.5ZM505.6 223.4 L505.3 224.2 L493.3 216.9 L493.7 216.1ZM505.3 224.2 L502 226.6 L490 219.3 L493.3 216.9ZM502 226.6 L501.6 227.5 L489.7 220.2 L490 219.3ZM501.6 227.5 L501.6 228.1 L489.7 220.9 L489.7 220.2ZM501.6 228.1 L501.7 228.8 L489.7 221.5 L489.7 220.9ZM501.7 228.8 L502.2 229.2 L490.2 221.9 L489.7 221.5ZM502.2 229.2 L505.5 227.8 L493.5 220.5 L490.2 221.9ZM505.5 227.8 L506 228.1 L494 220.8 L493.5 220.5ZM506 228.1 L506.1 228.7 L494.1 221.4 L494 220.8ZM506.1 228.7 L506.1 229.2 L494.2 222 L494.1 221.4ZM506.1 229.2 L505.8 230.1 L493.9 222.8 L494.2 222ZM505.8 230.1 L502.7 232.9 L490.8 225.6 L493.9 222.8ZM502.7 232.9 L502.5 233.8 L490.5 226.5 L490.8 225.6ZM502.5 233.8 L502.6 234.4 L490.6 227.1 L490.5 226.5ZM502.6 234.4 L502.7 235 L490.8 227.7 L490.6 227.1ZM502.7 235 L503.3 235.3 L491.3 228 L490.8 227.7ZM503.3 235.3 L506.6 233.3 L494.7 226 L491.3 228ZM506.6 233.3 L507.2 233.5 L495.2 226.2 L494.7 226ZM507.2 233.5 L507.3 234 L495.4 226.7 L495.2 226.2ZM507.3 234 L507.5 234.5 L495.6 227.2 L495.4 226.7ZM507.5 234.5 L507.3 235.3 L495.4 228 L495.6 227.2ZM507.3 235.3 L504.4 238.5 L492.5 231.2 L495.4 228ZM504.4 238.5 L504.3 239.4 L492.3 232.1 L492.5 231.2ZM504.3 239.4 L504.5 239.9 L492.5 232.6 L492.3 232.1ZM504.5 239.9 L504.7 240.4 L492.8 233.1 L492.5 232.6ZM504.7 240.4 L505.4 240.6 L493.4 233.3 L492.8 233.1ZM505.4 240.6 L508.6 238.1 L496.7 230.8 L493.4 233.3ZM508.6 238.1 L509.2 238.2 L497.3 230.9 L496.7 230.8ZM509.2 238.2 L509.5 238.6 L497.5 231.3 L497.3 230.9ZM509.5 238.6 L509.7 239 L497.8 231.7 L497.5 231.3ZM509.7 239 L509.6 239.8 L497.7 232.5 L497.8 231.7ZM509.6 239.8 L507 243.3 L495.1 236.1 L497.7 232.5ZM507 243.3 L507 244.2 L495.1 236.9 L495.1 236.1ZM507 244.2 L507.3 244.6 L495.4 237.3 L495.1 236.9ZM507.3 244.6 L507.7 245 L495.7 237.7 L495.4 237.3ZM507.7 245 L508.3 245 L496.4 237.7 L495.7 237.7ZM508.3 245 L511.4 242.1 L499.5 234.8 L496.4 237.7ZM511.4 242.1 L512.1 242 L500.1 234.7 L499.5 234.8ZM512.1 242 L512.4 242.4 L500.4 235.1 L500.1 234.7ZM512.4 242.4 L512.7 242.7 L500.8 235.4 L500.4 235.1ZM512.7 242.7 L512.8 243.4 L500.8 236.1 L500.8 235.4ZM512.8 243.4 L510.5 247.2 L498.6 239.9 L500.8 236.1ZM510.5 247.2 L510.6 248 L498.6 240.7 L498.6 239.9ZM510.6 248 L511 248.3 L499.1 241 L498.6 240.7ZM511 248.3 L511.4 248.6 L499.5 241.3 L499.1 241ZM511.4 248.6 L512.1 248.5 L500.2 241.2 L499.5 241.3ZM512.1 248.5 L515 245.2 L503 237.9 L500.2 241.2ZM515 245.2 L515.7 245 L503.7 237.7 L503 237.9ZM515.7 245 L516.1 245.2 L504.1 237.9 L503.7 237.7Z" fill="#000" stroke="#000" stroke-width="1.7" stroke-linejoin="round"/>
<path d="M514.6 250.5 L516.3 251.3 L504.4 244 L502.6 243.2ZM576.9 166.6 L575.6 165 L563.7 157.7 L564.9 159.3ZM573.3 162.7 L571.8 161.5 L559.9 154.2 L561.4 155.4ZM569 159.9 L567.3 159.1 L555.3 151.8 L557.1 152.6ZM564.1 158.1 L562.1 157.8 L550.1 150.5 L552.1 150.9ZM558.6 157.6 L556.4 157.7 L544.4 150.4 L546.6 150.3ZM552.6 158.2 L550.3 158.7 L538.4 151.4 L540.7 150.9ZM546.4 159.9 L544.1 160.9 L532.1 153.6 L534.5 152.6ZM540.1 162.8 L537.8 164.2 L525.8 156.9 L528.2 155.5ZM533.8 166.7 L531.5 168.4 L519.6 161.2 L521.9 159.4ZM527.8 171.6 L525.6 173.6 L513.6 166.3 L515.8 164.3ZM522 177.3 L520 179.6 L508.1 172.3 L510.1 170ZM516.8 183.7 L515 186.2 L503 178.9 L504.8 176.4ZM512.2 190.6 L510.6 193.3 L498.7 186 L500.2 183.3ZM508.3 197.8 L507 200.6 L495.1 193.3 L496.3 190.6ZM505.2 205.3 L504.3 208.1 L492.3 200.8 L493.2 198ZM503 212.7 L502.5 215.5 L490.5 208.2 L491.1 205.5ZM501.8 220 L501.6 222.6 L489.7 215.4 L489.9 212.7ZM501.6 226.9 L501.7 229.4 L489.8 222.1 L489.6 219.6ZM502.3 233.3 L502.9 235.5 L490.9 228.2 L490.4 226ZM504.1 238.9 L505 240.9 L493 233.6 L492.1 231.7ZM506.7 243.8 L508 245.4 L496 238.1 L494.8 236.5ZM510.3 247.7 L511.8 248.9 L499.8 241.6 L498.3 240.4Z" fill="#fff" stroke="#000" stroke-width="0.9" stroke-linejoin="round"/>
<path d="M516.1 245.2 L516.5 245.4 L516.6 246.1 L514.8 250 L515 250.7 L515.4 250.9 L515.9 251.1 L516.7 250.9 L519.2 247.3 L519.9 246.9 L520.3 247.1 L520.8 247.2 L521 247.8 L519.7 251.8 L520 252.4 L520.5 252.5 L521.1 252.5 L521.8 252.1 L524 248.3 L524.7 247.9 L525.2 247.9 L525.7 248 L526 248.4 L525.1 252.3 L525.5 252.8 L526.1 252.8 L526.7 252.8 L527.4 252.3 L529.2 248.3 L529.8 247.8 L530.4 247.7 L530.9 247.6 L531.3 248 L531 251.8 L531.5 252.1 L532.1 252 L532.7 251.8 L533.4 251.2 L534.7 247.3 L535.3 246.6 L535.9 246.5 L536.4 246.3 L537 246.5 L537.1 250 L537.7 250.3 L538.4 250 L539 249.8 L539.6 249 L540.4 245.2 L541 244.5 L541.5 244.2 L542.1 243.9 L542.7 244 L543.4 247.2 L544 247.3 L544.7 246.9 L545.3 246.6 L545.9 245.8 L546.1 242.1 L546.6 241.3 L547.2 240.9 L547.8 240.6 L548.4 240.6 L549.6 243.3 L550.3 243.3 L550.9 242.8 L551.5 242.4 L552 241.5 L551.7 238.1 L552.2 237.3 L552.7 236.8 L553.3 236.4 L553.9 236.3 L555.6 238.5 L556.4 238.3 L556.9 237.8 L557.5 237.2 L557.9 236.4 L557.1 233.3 L557.5 232.5 L558 231.9 L558.5 231.4 L559.2 231.2 L561.3 232.9 L562 232.6 L562.6 232 L563.1 231.3 L563.4 230.5 L562.1 227.8 L562.4 227 L562.8 226.4 L563.3 225.8 L564 225.4 L566.5 226.6 L567.2 226.1 L567.7 225.5 L568.2 224.8 L568.4 223.9 L566.6 221.7 L566.8 220.9 L567.2 220.3 L567.6 219.7 L568.3 219.2 L571.1 219.8 L571.8 219.2 L572.2 218.5 L572.6 217.8 L572.7 216.9 L570.5 215.3 L570.6 214.5 L570.9 213.9 L571.2 213.2 L571.9 212.6 L575 212.6 L575.6 211.9 L576 211.2 L576.3 210.4 L576.3 209.6 L573.7 208.6 L573.6 207.9 L573.9 207.2 L574.2 206.5 L574.8 205.9 L578 205.2 L578.6 204.4 L578.9 203.7 L579.1 203 L579 202.2 L576.1 201.8 L575.9 201.2 L576.1 200.5 L576.3 199.8 L576.8 199.1 L580.2 197.8 L580.7 197 L580.9 196.3 L581 195.5 L580.8 194.9 L577.7 195.1 L577.4 194.6 L577.5 193.9 L577.6 193.3 L578 192.5 L581.4 190.6 L581.8 189.8 L581.9 189.1 L582 188.4 L581.6 187.8 L578.3 188.6 L577.9 188.2 L578 187.6 L578 187 L578.3 186.2 L581.6 183.8 L582 182.9 L582 182.3 L581.9 181.6 L581.4 181.2 L578.1 182.6 L577.6 182.3 L577.5 181.7 L577.5 181.2 L577.8 180.3 L580.9 177.5 L581.1 176.6 L581 176 L580.9 175.4 L580.3 175.1 L577 177.1 L576.4 176.9 L576.3 176.4 L576.1 175.9 L576.3 175.1 L579.2 171.9 L579.3 171 L579.1 170.5 L578.9 170 L578.2 169.8 L575 172.3 L574.4 172.2 L574.1 171.8 L573.9 171.4 L574 170.6 L576.6 167.1 L576.6 166.2 L576.3 165.8 L575.9 165.4 L575.3 165.4 L572.2 168.3 L571.5 168.4 L571.2 168 L570.9 167.7 L570.8 167 L573.1 163.2 L573 162.4 L572.6 162.1 L572.2 161.8 L571.5 161.9 L568.6 165.2 L567.9 165.4 L567.5 165.2 L567.1 165 L567 164.3 L568.8 160.4 L568.6 159.7 L568.2 159.5 L567.7 159.3 L566.9 159.5 L564.4 163.1 L563.7 163.5 L563.3 163.3 L562.8 163.2 L562.6 162.6 L563.9 158.6 L563.6 158 L563.1 157.9 L562.5 157.9 L561.8 158.3 L559.6 162.1 L558.9 162.5 L558.4 162.5 L557.9 162.4 L557.6 162 L558.5 158.1 L558.1 157.6 L557.5 157.6 L556.9 157.6 L556.2 158.1 L554.4 162.1 L553.8 162.6 L553.2 162.7 L552.7 162.8 L552.3 162.4 L552.6 158.6 L552.1 158.3 L551.5 158.4 L550.9 158.6 L550.2 159.2 L548.9 163.1 L548.3 163.8 L547.7 163.9 L547.2 164.1 L546.6 163.9 L546.5 160.4 L545.9 160.1 L545.2 160.4 L544.6 160.6 L544 161.4 L543.2 165.2 L542.6 165.9 L542.1 166.2 L541.5 166.5 L540.9 166.4 L540.2 163.2 L539.6 163.1 L538.9 163.5 L538.3 163.8 L537.7 164.6 L537.5 168.3 L537 169.1 L536.4 169.5 L535.8 169.8 L535.2 169.8 L534 167.1 L533.3 167.1 L532.7 167.6 L532.1 168 L531.6 168.9 L531.9 172.3 L531.4 173.1 L530.9 173.6 L530.3 174 L529.7 174.1 L528 171.9 L527.2 172.1 L526.7 172.6 L526.1 173.2 L525.7 174 L526.5 177.1 L526.1 177.9 L525.6 178.5 L525.1 179 L524.4 179.2 L522.3 177.5 L521.6 177.8 L521 178.4 L520.5 179.1 L520.2 179.9 L521.5 182.6 L521.2 183.4 L520.8 184 L520.3 184.6 L519.6 185 L517.1 183.8 L516.4 184.3 L515.9 184.9 L515.4 185.6 L515.2 186.5 L517 188.7 L516.8 189.5 L516.4 190.1 L516 190.7 L515.3 191.2 L512.5 190.6 L511.8 191.2 L511.4 191.9 L511 192.6 L510.9 193.5 L513.1 195.1 L513 195.9 L512.7 196.5 L512.4 197.2 L511.7 197.8 L508.6 197.8 L508 198.5 L507.6 199.2 L507.3 200 L507.3 200.8 L509.9 201.8 L510 202.5 L509.7 203.2 L509.4 203.9 L508.8 204.5 L505.6 205.2 L505 206 L504.7 206.7 L504.5 207.4 L504.6 208.2 L507.5 208.6 L507.7 209.2 L507.5 209.9 L507.3 210.6 L506.8 211.3 L503.4 212.6 L502.9 213.4 L502.7 214.1 L502.6 214.9 L502.8 215.5 L505.9 215.3 L506.2 215.8 L506.1 216.5 L506 217.1 L505.6 217.9 L502.2 219.8 L501.8 220.6 L501.7 221.3 L501.6 222 L502 222.6 L505.3 221.8 L505.7 222.2 L505.6 222.8 L505.6 223.4 L505.3 224.2 L502 226.6 L501.6 227.5 L501.6 228.1 L501.7 228.8 L502.2 229.2 L505.5 227.8 L506 228.1 L506.1 228.7 L506.1 229.2 L505.8 230.1 L502.7 232.9 L502.5 233.8 L502.6 234.4 L502.7 235 L503.3 235.3 L506.6 233.3 L507.2 233.5 L507.3 234 L507.5 234.5 L507.3 235.3 L504.4 238.5 L504.3 239.4 L504.5 239.9 L504.7 240.4 L505.4 240.6 L508.6 238.1 L509.2 238.2 L509.5 238.6 L509.7 239 L509.6 239.8 L507 243.3 L507 244.2 L507.3 244.6 L507.7 245 L508.3 245 L511.4 242.1 L512.1 242 L512.4 242.4 L512.7 242.7 L512.8 243.4 L510.5 247.2 L510.6 248 L511 248.3 L511.4 248.6 L512.1 248.5 L515 245.2 L515.7 245Z" fill="#fff" stroke="#000" stroke-width="2.1" stroke-linejoin="round"/>
<path d="M519.4 238.4 L522.3 239.9 L525.5 240.8 L529 241.1 L532.7 240.8 L536.5 239.9 L540.5 238.4 L544.4 236.3 L548.3 233.7 L552.2 230.7 L555.8 227.1 L559.2 223.2 L562.3 219 L565 214.6 L567.4 210 L569.3 205.3 L570.7 200.6 L571.7 196 L572.1 191.5 L572 187.3 L571.4 183.4 L570.3 179.8 L568.7 176.7 L566.6 174.1 L564.2 172 L561.3 170.5 L558.1 169.6 L554.6 169.3 L550.9 169.6 L547.1 170.5 L543.1 172 L539.2 174.1 L535.3 176.7 L531.4 179.7 L527.8 183.3 L524.4 187.2 L521.3 191.4 L518.6 195.8 L516.2 200.4 L514.3 205.1 L512.9 209.8 L511.9 214.4 L511.5 218.9 L511.6 223.1 L512.2 227 L513.3 230.6 L514.9 233.7 L517 236.3 L519.4 238.4Z" fill="none" stroke="#000" stroke-width="2.4" />
<path d="M530.8 221.4 L529.4 220.2 L528.3 218.6 L527.5 216.6 L527 214.4 L526.9 211.9 L527.2 209.3 L527.8 206.5 L528.8 203.8 L530.1 201 L531.7 198.4 L533.6 195.9 L535.6 193.7 L537.8 191.8 L540.1 190.2 L542.4 188.9 L544.7 188.1 L547 187.6 L549.1 187.6 L551 188.1 L552.8 189 L554 189.7 L555.5 191 L556.6 192.6 L557.4 194.6 L557.9 196.8 L558 199.3 L557.7 201.9 L557 204.7 L556 207.4 L554.7 210.2 L553.2 212.8 L551.3 215.2 L549.3 217.5 L547.1 219.4 L544.8 221 L542.5 222.3 L540.1 223.1 L537.9 223.5 L535.8 223.5 L533.8 223.1 L532.1 222.2Z" fill="#fff" stroke="#000" stroke-width="1.8" stroke-linejoin="round"/>
<path d="M532.1 222.2 L533.8 223.1 L535.8 223.5 L537.9 223.5 L540.1 223.1 L542.5 222.3 L544.8 221 L547.1 219.4 L549.3 217.5 L551.3 215.2 L553.2 212.8 L554.7 210.2 L556 207.4 L557 204.7 L557.7 201.9 L558 199.3 L557.9 196.8 L557.4 194.6 L556.6 192.6 L555.5 191 L554 189.7 L552.3 188.9 L550.4 188.4 L548.3 188.4 L546 188.8 L543.7 189.7 L541.4 190.9 L539.1 192.5 L536.9 194.5 L534.8 196.7 L533 199.2 L531.4 201.8 L530.1 204.5 L529.1 207.3 L528.5 210 L528.2 212.7 L528.3 215.1 L528.7 217.4 L529.5 219.3 L530.7 221 L532.1 222.2Z" fill="#fff" stroke="#000" stroke-width="1.8" />
<path d="M535.7 218.8 L534.6 217.8 L533.7 216.6 L533.1 215.1 L532.8 213.4 L532.7 211.6 L532.9 209.6 L533.4 207.5 L534.1 205.4 L535.1 203.4 L536.3 201.4 L537.7 199.5 L539.3 197.8 L540.9 196.4 L542.6 195.1 L544.4 194.2 L546.2 193.6 L547.9 193.2 L549.5 193.2 L550.9 193.6 L552.2 194.2 L553.9 195.3 L555 196.2 L555.9 197.5 L556.5 198.9 L556.8 200.6 L556.9 202.5 L556.7 204.5 L556.2 206.5 L555.4 208.6 L554.4 210.7 L553.2 212.7 L551.9 214.5 L550.3 216.2 L548.7 217.7 L546.9 218.9 L545.2 219.8 L543.4 220.5 L541.7 220.8 L540.1 220.8 L538.7 220.5 L537.4 219.8Z" fill="#fff" stroke="#000" stroke-width="1.6" stroke-linejoin="round"/>
<path d="M537.4 219.8 L538.7 220.5 L540.1 220.8 L541.7 220.8 L543.4 220.5 L545.2 219.8 L546.9 218.9 L548.7 217.7 L550.3 216.2 L551.9 214.5 L553.2 212.7 L554.4 210.7 L555.4 208.6 L556.2 206.5 L556.7 204.5 L556.9 202.5 L556.8 200.6 L556.5 198.9 L555.9 197.5 L555 196.2 L553.9 195.3 L552.6 194.6 L551.2 194.3 L549.6 194.3 L547.9 194.6 L546.1 195.2 L544.4 196.2 L542.6 197.4 L541 198.9 L539.4 200.6 L538 202.4 L536.8 204.4 L535.8 206.5 L535.1 208.5 L534.6 210.6 L534.4 212.6 L534.5 214.5 L534.8 216.1 L535.4 217.6 L536.3 218.9 L537.4 219.8Z" fill="#fff" stroke="#000" stroke-width="1.6" />
<path d="M539.6 216.5 L538.8 215.8 L538.2 214.9 L537.8 213.9 L537.6 212.7 L537.6 211.3 L537.7 209.9 L538.1 208.4 L538.7 206.9 L539.4 205.4 L540.3 203.9 L541.3 202.6 L542.4 201.3 L543.6 200.3 L544.8 199.4 L546.1 198.7 L547.4 198.2 L548.6 197.9 L549.7 197.9 L550.8 198.1 L551.7 198.6 L561.9 204.8 L562.7 205.5 L563.3 206.4 L563.7 207.5 L563.9 208.7 L564 210 L563.8 211.5 L563.4 213 L562.9 214.5 L562.1 216 L561.3 217.4 L560.2 218.8 L559.1 220 L557.9 221.1 L556.7 222 L555.4 222.7 L554.2 223.2 L552.9 223.4 L551.8 223.4 L550.8 223.2 L549.8 222.8Z" fill="#fff" stroke="#000" stroke-width="2.5" stroke-linejoin="round"/>
<path d="M549.8 222.8 L550.8 223.2 L551.8 223.4 L552.9 223.4 L554.2 223.2 L555.4 222.7 L556.7 222 L557.9 221.1 L559.1 220 L560.2 218.8 L561.3 217.4 L562.1 216 L562.9 214.5 L563.4 213 L563.8 211.5 L564 210 L563.9 208.7 L563.7 207.5 L563.3 206.4 L562.7 205.5 L561.9 204.8 L561 204.4 L560 204.2 L558.8 204.2 L557.6 204.4 L556.4 204.9 L555.1 205.6 L553.8 206.5 L552.6 207.6 L551.5 208.8 L550.5 210.2 L549.6 211.6 L548.9 213.1 L548.4 214.6 L548 216.1 L547.8 217.6 L547.8 218.9 L548.1 220.1 L548.5 221.2 L549.1 222.1 L549.8 222.8Z" fill="#fff" stroke="#000" stroke-width="2.5" />
<path d="M551.3 221.3 L551.9 221.6 L552.6 221.8 L553.3 221.8 L554.1 221.8 L554.9 221.5 L555.7 221.2 L556.6 220.7 L557.4 220.1 L558.3 219.4 L559 218.7 L559.8 217.8 L560.5 216.9 L561.1 215.9 L561.6 214.9 L562 213.9 L562.3 212.8 L562.6 211.8 L562.7 210.9 L562.7 210 L562.6 209.1 L562.4 208.4 L562.1 207.7 L561.7 207.1 L561.1 206.7 L560.6 206.4 L559.9 206.2 L559.2 206.2 L558.4 206.3 L557.6 206.5 L556.7 206.8 L555.9 207.3 L555 207.9 L554.2 208.6 L553.4 209.4 L552.7 210.2 L552 211.2 L551.4 212.1 L550.9 213.1 L550.4 214.2 L550.1 215.2 L549.9 216.2 L549.8 217.1 L549.7 218.1 L549.8 218.9 L550.1 219.7 L550.4 220.3 L550.8 220.9 L551.3 221.3Z" fill="none" stroke="#000" stroke-width="1.2" />
<path d="M555.6 216.2 L555.8 216.3 L556 216.4 L556.2 216.4 L556.5 216.4 L556.7 216.4 L556.9 216.3 L557.2 216.2 L557.4 216.1 L557.7 215.9 L557.9 215.8 L558.1 215.6 L558.2 215.3 L558.4 215.1 L558.5 214.8 L558.6 214.6 L558.7 214.3 L558.7 214 L558.7 213.8 L558.7 213.5 L558.6 213.3 L558.5 213 L558.4 212.9 L558.2 212.7 L558.1 212.5 L557.9 212.4 L557.6 212.4 L557.4 212.3 L557.2 212.3 L556.9 212.3 L556.7 212.4 L556.5 212.5 L556.2 212.6 L556 212.8 L555.8 213 L555.6 213.2 L555.4 213.4 L555.3 213.7 L555.1 213.9 L555 214.2 L555 214.5 L555 214.7 L555 215 L555 215.2 L555.1 215.5 L555.1 215.7 L555.3 215.9 L555.4 216.1 L555.6 216.2Z" fill="none" stroke="#000" stroke-width="1.5" />
<path d="M356.4 282.6 L355.5 282.2 L354.7 281.5 L354 280.7 L353.4 279.6 L353 278.4 L352.7 277.1 L352.6 275.6 L352.7 274.1 L352.9 272.5 L353.3 270.9 L353.9 269.4 L354.5 268 L355.3 266.7 L356.2 265.5 L357.2 264.6 L358.3 263.8 L359.3 263.2 L360.4 262.9 L361.4 262.8 L362.4 263 L376 270 L376.9 270.4 L377.8 271.1 L378.5 271.9 L379.1 273 L379.5 274.2 L379.8 275.6 L379.9 277.1 L379.8 278.7 L379.6 280.3 L379.2 281.9 L378.7 283.4 L378 284.9 L377.2 286.2 L376.3 287.4 L375.3 288.4 L374.2 289.2 L373.1 289.8 L372.1 290.1 L371 290.2 L370 290Z" fill="#fff" stroke="#000" stroke-width="2.2" stroke-linejoin="round"/>
<path d="M368.2 314.2 L368.7 314.4 L368.9 315 L367.6 319.6 L368 320.3 L368.5 320.4 L369.1 320.5 L369.8 320 L371.7 315.5 L372.3 314.9 L372.8 314.9 L373.3 314.9 L373.6 315.4 L373.2 319.9 L373.6 320.3 L374.2 320.2 L374.8 320.1 L375.5 319.4 L376.7 314.8 L377.3 314.1 L377.8 313.9 L378.3 313.7 L378.8 314 L379.1 318.1 L379.7 318.3 L380.3 318 L381 317.7 L381.6 316.9 L381.9 312.4 L382.4 311.6 L382.9 311.3 L383.4 310.9 L384 311 L385.2 314.5 L385.8 314.5 L386.4 314 L387 313.5 L387.5 312.5 L387.1 308.5 L387.4 307.6 L387.9 307.2 L388.4 306.7 L389 306.6 L390.9 309.1 L391.6 308.9 L392.2 308.3 L392.7 307.6 L393.1 306.6 L391.8 303.3 L392.1 302.4 L392.5 301.8 L392.9 301.2 L393.6 300.9 L396.1 302.5 L396.8 302 L397.3 301.3 L397.7 300.5 L397.9 299.5 L395.9 297 L396 296.2 L396.4 295.5 L396.7 294.8 L397.3 294.3 L400.3 294.8 L401 294.2 L401.4 293.4 L401.7 292.5 L401.7 291.6 L399.2 290.1 L399.1 289.3 L399.3 288.6 L399.5 287.9 L400.1 287.3 L403.4 286.7 L404 285.8 L404.2 285 L404.4 284.2 L404.3 283.4 L401.3 283 L401 282.3 L401.2 281.6 L401.3 280.9 L401.8 280.1 L405.1 278.4 L405.6 277.5 L405.7 276.7 L405.8 275.9 L405.4 275.2 L402.2 276 L401.8 275.5 L401.8 274.8 L401.8 274.2 L402.2 273.3 L405.5 270.6 L405.8 269.6 L405.8 268.9 L405.7 268.2 L405.2 267.7 L401.8 269.5 L401.3 269.2 L401.2 268.7 L401.1 268.1 L401.3 267.2 L404.3 263.7 L404.5 262.7 L404.3 262.1 L404.1 261.5 L403.5 261.3 L400.2 264 L399.6 264 L399.4 263.5 L399.1 263 L399.2 262.2 L401.8 258.1 L401.8 257.1 L401.5 256.7 L401.1 256.2 L400.4 256.3 L397.5 259.8 L396.8 259.9 L396.5 259.6 L396.1 259.3 L396.1 258.5 L398 254 L397.9 253.2 L397.4 252.9 L397 252.7 L396.2 252.9 L393.7 257.1 L393.1 257.4 L392.6 257.3 L392.2 257.1 L392 256.4 L393.2 251.8 L392.9 251.2 L392.4 251.1 L391.8 251 L391.1 251.5 L389.2 256 L388.6 256.6 L388.1 256.6 L387.6 256.6 L387.3 256.1 L387.7 251.6 L387.2 251.2 L386.6 251.3 L386 251.4 L385.4 252.1 L384.2 256.7 L383.6 257.4 L383.1 257.6 L382.6 257.8 L382.1 257.4 L381.8 253.4 L381.2 253.1 L380.5 253.4 L379.9 253.8 L379.3 254.6 L379 259 L378.5 259.9 L378 260.2 L377.4 260.5 L376.9 260.4 L375.7 257 L375 257 L374.4 257.5 L373.9 258 L373.4 259 L373.8 263 L373.4 263.8 L373 264.3 L372.5 264.8 L371.8 264.9 L370 262.3 L369.2 262.6 L368.7 263.2 L368.2 263.9 L367.8 264.9 L369 268.2 L368.8 269.1 L368.4 269.7 L368 270.3 L367.3 270.6 L364.8 269 L364.1 269.5 L363.6 270.2 L363.2 271 L363 272 L364.9 274.4 L364.9 275.3 L364.5 276 L364.2 276.6 L363.5 277.2 L360.6 276.6 L359.9 277.3 L359.5 278.1 L359.2 278.9 L359.2 279.9 L361.7 281.4 L361.8 282.1 L361.6 282.8 L361.3 283.5 L360.8 284.2 L357.5 284.8 L356.9 285.6 L356.7 286.5 L356.4 287.3 L356.6 288.1 L359.6 288.5 L359.9 289.2 L359.7 289.9 L359.6 290.6 L359.1 291.4 L355.7 293 L355.2 294 L355.2 294.8 L355.1 295.6 L355.4 296.2 L358.7 295.5 L359.1 296 L359.1 296.7 L359.1 297.3 L358.7 298.2 L355.4 300.8 L355.1 301.8 L355.1 302.6 L355.2 303.3 L355.7 303.7 L359.1 302 L359.6 302.2 L359.7 302.8 L359.8 303.4 L359.6 304.3 L356.6 307.8 L356.4 308.7 L356.6 309.4 L356.8 310 L357.4 310.2 L360.7 307.4 L361.3 307.5 L361.5 308 L361.7 308.4 L361.6 309.3 L359.1 313.4 L359.1 314.3 L359.4 314.8 L359.8 315.3 L360.5 315.2 L363.4 311.7 L364.1 311.5 L364.4 311.9 L364.7 312.2 L364.8 313 L362.9 317.4 L363 318.3 L363.5 318.5 L363.9 318.8 L364.7 318.5 L367.2 314.4 L367.8 314ZM382.5 321.5 L382.9 321.6 L368.7 314.4 L368.2 314.2ZM382.9 321.6 L383.1 322.3 L368.9 315 L368.7 314.4ZM383.1 322.3 L381.9 326.9 L367.6 319.6 L368.9 315ZM381.9 326.9 L382.2 327.6 L368 320.3 L367.6 319.6ZM382.2 327.6 L382.8 327.6 L368.5 320.4 L368 320.3ZM382.8 327.6 L383.3 327.7 L369.1 320.5 L368.5 320.4ZM383.3 327.7 L384 327.2 L369.8 320 L369.1 320.5ZM384 327.2 L385.9 322.7 L371.7 315.5 L369.8 320ZM385.9 322.7 L386.6 322.2 L372.3 314.9 L371.7 315.5ZM386.6 322.2 L387 322.2 L372.8 314.9 L372.3 314.9ZM387 322.2 L387.5 322.1 L373.3 314.9 L372.8 314.9ZM387.5 322.1 L387.9 322.7 L373.6 315.4 L373.3 314.9ZM387.9 322.7 L387.4 327.1 L373.2 319.9 L373.6 315.4ZM387.4 327.1 L387.9 327.6 L373.6 320.3 L373.2 319.9ZM387.9 327.6 L388.5 327.5 L374.2 320.2 L373.6 320.3ZM388.5 327.5 L389.1 327.3 L374.8 320.1 L374.2 320.2ZM389.1 327.3 L389.8 326.6 L375.5 319.4 L374.8 320.1ZM389.8 326.6 L390.9 322 L376.7 314.8 L375.5 319.4ZM390.9 322 L391.5 321.3 L377.3 314.1 L376.7 314.8ZM391.5 321.3 L392 321.2 L377.8 313.9 L377.3 314.1ZM392 321.2 L392.6 321 L378.3 313.7 L377.8 313.9ZM392.6 321 L393 321.3 L378.8 314 L378.3 313.7ZM393 321.3 L393.4 325.4 L379.1 318.1 L378.8 314ZM393.4 325.4 L394 325.6 L379.7 318.3 L379.1 318.1ZM394 325.6 L394.6 325.3 L380.3 318 L379.7 318.3ZM394.6 325.3 L395.2 325 L381 317.7 L380.3 318ZM395.2 325 L395.8 324.1 L381.6 316.9 L381 317.7ZM395.8 324.1 L396.2 319.7 L381.9 312.4 L381.6 316.9ZM396.2 319.7 L396.7 318.9 L382.4 311.6 L381.9 312.4ZM396.7 318.9 L397.2 318.5 L382.9 311.3 L382.4 311.6ZM397.2 318.5 L397.7 318.2 L383.4 310.9 L382.9 311.3ZM397.7 318.2 L398.3 318.3 L384 311 L383.4 310.9ZM398.3 318.3 L399.4 321.7 L385.2 314.5 L384 311ZM399.4 321.7 L400.1 321.7 L385.8 314.5 L385.2 314.5ZM400.1 321.7 L400.7 321.2 L386.4 314 L385.8 314.5ZM400.7 321.2 L401.3 320.7 L387 313.5 L386.4 314ZM401.3 320.7 L401.8 319.8 L387.5 312.5 L387 313.5ZM401.8 319.8 L401.3 315.8 L387.1 308.5 L387.5 312.5ZM401.3 315.8 L401.7 314.9 L387.4 307.6 L387.1 308.5ZM401.7 314.9 L402.2 314.4 L387.9 307.2 L387.4 307.6ZM402.2 314.4 L402.7 313.9 L388.4 306.7 L387.9 307.2ZM402.7 313.9 L403.3 313.8 L389 306.6 L388.4 306.7ZM403.3 313.8 L405.2 316.4 L390.9 309.1 L389 306.6ZM405.2 316.4 L405.9 316.2 L391.6 308.9 L390.9 309.1ZM405.9 316.2 L406.4 315.5 L392.2 308.3 L391.6 308.9ZM406.4 315.5 L407 314.9 L392.7 307.6 L392.2 308.3ZM407 314.9 L407.3 313.9 L393.1 306.6 L392.7 307.6ZM407.3 313.9 L406.1 310.5 L391.8 303.3 L393.1 306.6ZM406.1 310.5 L406.3 309.6 L392.1 302.4 L391.8 303.3ZM406.3 309.6 L406.8 309.1 L392.5 301.8 L392.1 302.4ZM406.8 309.1 L407.2 308.5 L392.9 301.2 L392.5 301.8ZM407.2 308.5 L407.8 308.1 L393.6 300.9 L392.9 301.2ZM407.8 308.1 L410.3 309.7 L396.1 302.5 L393.6 300.9ZM410.3 309.7 L411.1 309.3 L396.8 302 L396.1 302.5ZM411.1 309.3 L411.5 308.5 L397.3 301.3 L396.8 302ZM411.5 308.5 L412 307.8 L397.7 300.5 L397.3 301.3ZM412 307.8 L412.1 306.8 L397.9 299.5 L397.7 300.5ZM412.1 306.8 L410.2 304.3 L395.9 297 L397.9 299.5ZM410.2 304.3 L410.3 303.4 L396 296.2 L395.9 297ZM410.3 303.4 L410.6 302.8 L396.4 295.5 L396 296.2ZM410.6 302.8 L411 302.1 L396.7 294.8 L396.4 295.5ZM411 302.1 L411.6 301.6 L397.3 294.3 L396.7 294.8ZM411.6 301.6 L414.6 302.1 L400.3 294.8 L397.3 294.3ZM414.6 302.1 L415.3 301.4 L401 294.2 L400.3 294.8ZM415.3 301.4 L415.6 300.6 L401.4 293.4 L401 294.2ZM415.6 300.6 L416 299.8 L401.7 292.5 L401.4 293.4ZM416 299.8 L415.9 298.9 L401.7 291.6 L401.7 292.5ZM415.9 298.9 L413.4 297.4 L399.2 290.1 L401.7 291.6ZM413.4 297.4 L413.3 296.6 L399.1 289.3 L399.2 290.1ZM413.3 296.6 L413.6 295.9 L399.3 288.6 L399.1 289.3ZM413.6 295.9 L413.8 295.2 L399.5 287.9 L399.3 288.6ZM413.8 295.2 L414.4 294.5 L400.1 287.3 L399.5 287.9ZM414.4 294.5 L417.6 293.9 L403.4 286.7 L400.1 287.3ZM417.6 293.9 L418.3 293.1 L404 285.8 L403.4 286.7ZM418.3 293.1 L418.5 292.3 L404.2 285 L404 285.8ZM418.5 292.3 L418.7 291.4 L404.4 284.2 L404.2 285ZM418.7 291.4 L418.5 290.6 L404.3 283.4 L404.4 284.2ZM418.5 290.6 L415.5 290.2 L401.3 283 L404.3 283.4ZM415.5 290.2 L415.3 289.6 L401 282.3 L401.3 283ZM415.3 289.6 L415.4 288.9 L401.2 281.6 L401 282.3ZM415.4 288.9 L415.5 288.2 L401.3 280.9 L401.2 281.6ZM415.5 288.2 L416 287.4 L401.8 280.1 L401.3 280.9ZM416 287.4 L419.4 285.7 L405.1 278.4 L401.8 280.1ZM419.4 285.7 L419.9 284.8 L405.6 277.5 L405.1 278.4ZM419.9 284.8 L420 284 L405.7 276.7 L405.6 277.5ZM420 284 L420.1 283.1 L405.8 275.9 L405.7 276.7ZM420.1 283.1 L419.7 282.5 L405.4 275.2 L405.8 275.9ZM419.7 282.5 L416.4 283.2 L402.2 276 L405.4 275.2ZM416.4 283.2 L416 282.7 L401.8 275.5 L402.2 276ZM416 282.7 L416 282.1 L401.8 274.8 L401.8 275.5ZM416 282.1 L416 281.4 L401.8 274.2 L401.8 274.8ZM416 281.4 L416.4 280.6 L402.2 273.3 L401.8 274.2ZM416.4 280.6 L419.7 277.9 L405.5 270.6 L402.2 273.3ZM419.7 277.9 L420.1 276.9 L405.8 269.6 L405.5 270.6ZM420.1 276.9 L420 276.2 L405.8 268.9 L405.8 269.6ZM420 276.2 L419.9 275.4 L405.7 268.2 L405.8 268.9ZM419.9 275.4 L419.4 275 L405.2 267.7 L405.7 268.2ZM419.4 275 L416.1 276.8 L401.8 269.5 L405.2 267.7ZM416.1 276.8 L415.6 276.5 L401.3 269.2 L401.8 269.5ZM415.6 276.5 L415.5 275.9 L401.2 268.7 L401.3 269.2ZM415.5 275.9 L415.3 275.4 L401.1 268.1 L401.2 268.7ZM415.3 275.4 L415.6 274.5 L401.3 267.2 L401.1 268.1ZM415.6 274.5 L418.6 271 L404.3 263.7 L401.3 267.2ZM418.6 271 L418.8 270 L404.5 262.7 L404.3 263.7ZM418.8 270 L418.6 269.4 L404.3 262.1 L404.5 262.7ZM418.6 269.4 L418.3 268.8 L404.1 261.5 L404.3 262.1ZM418.3 268.8 L417.7 268.5 L403.5 261.3 L404.1 261.5ZM417.7 268.5 L414.5 271.3 L400.2 264 L403.5 261.3ZM414.5 271.3 L413.9 271.2 L399.6 264 L400.2 264ZM413.9 271.2 L413.6 270.8 L399.4 263.5 L399.6 264ZM413.6 270.8 L413.4 270.3 L399.1 263 L399.4 263.5ZM413.4 270.3 L413.5 269.4 L399.2 262.2 L399.1 263ZM413.5 269.4 L416.1 265.3 L401.8 258.1 L399.2 262.2ZM416.1 265.3 L416.1 264.4 L401.8 257.1 L401.8 258.1ZM416.1 264.4 L415.7 263.9 L401.5 256.7 L401.8 257.1ZM415.7 263.9 L415.4 263.5 L401.1 256.2 L401.5 256.7ZM415.4 263.5 L414.7 263.5 L400.4 256.3 L401.1 256.2ZM414.7 263.5 L411.7 267.1 L397.5 259.8 L400.4 256.3ZM411.7 267.1 L411.1 267.2 L396.8 259.9 L397.5 259.8ZM411.1 267.2 L410.7 266.9 L396.5 259.6 L396.8 259.9ZM410.7 266.9 L410.4 266.6 L396.1 259.3 L396.5 259.6ZM410.4 266.6 L410.3 265.8 L396.1 258.5 L396.1 259.3ZM410.3 265.8 L412.3 261.3 L398 254 L396.1 258.5ZM412.3 261.3 L412.1 260.5 L397.9 253.2 L398 254ZM412.1 260.5 L411.7 260.2 L397.4 252.9 L397.9 253.2ZM411.7 260.2 L411.2 259.9 L397 252.7 L397.4 252.9ZM411.2 259.9 L410.5 260.2 L396.2 252.9 L397 252.7ZM410.5 260.2 L408 264.3 L393.7 257.1 L396.2 252.9ZM408 264.3 L407.3 264.7 L393.1 257.4 L393.7 257.1ZM407.3 264.7 L406.9 264.5 L392.6 257.3 L393.1 257.4ZM406.9 264.5 L406.5 264.4 L392.2 257.1 L392.6 257.3ZM406.5 264.4 L406.3 263.7 L392 256.4 L392.2 257.1ZM406.3 263.7 L407.5 259.1 L393.2 251.8 L392 256.4ZM407.5 259.1 L407.2 258.4 L392.9 251.2 L393.2 251.8ZM407.2 258.4 L406.6 258.4 L392.4 251.1 L392.9 251.2ZM406.6 258.4 L406.1 258.3 L391.8 251 L392.4 251.1ZM406.1 258.3 L405.4 258.8 L391.1 251.5 L391.8 251ZM405.4 258.8 L403.5 263.3 L389.2 256 L391.1 251.5ZM403.5 263.3 L402.8 263.8 L388.6 256.6 L389.2 256ZM402.8 263.8 L402.4 263.8 L388.1 256.6 L388.6 256.6ZM402.4 263.8 L401.9 263.9 L387.6 256.6 L388.1 256.6ZM401.9 263.9 L401.5 263.3 L387.3 256.1 L387.6 256.6ZM401.5 263.3 L402 258.9 L387.7 251.6 L387.3 256.1ZM402 258.9 L401.5 258.4 L387.2 251.2 L387.7 251.6ZM401.5 258.4 L400.9 258.5 L386.6 251.3 L387.2 251.2ZM400.9 258.5 L400.3 258.7 L386 251.4 L386.6 251.3ZM400.3 258.7 L399.6 259.4 L385.4 252.1 L386 251.4ZM399.6 259.4 L398.5 264 L384.2 256.7 L385.4 252.1ZM398.5 264 L397.9 264.7 L383.6 257.4 L384.2 256.7ZM397.9 264.7 L397.4 264.8 L383.1 257.6 L383.6 257.4ZM397.4 264.8 L396.8 265 L382.6 257.8 L383.1 257.6ZM396.8 265 L396.4 264.7 L382.1 257.4 L382.6 257.8ZM396.4 264.7 L396 260.6 L381.8 253.4 L382.1 257.4ZM396 260.6 L395.4 260.4 L381.2 253.1 L381.8 253.4ZM395.4 260.4 L394.8 260.7 L380.5 253.4 L381.2 253.1ZM394.8 260.7 L394.2 261 L379.9 253.8 L380.5 253.4ZM394.2 261 L393.6 261.9 L379.3 254.6 L379.9 253.8ZM393.6 261.9 L393.2 266.3 L379 259 L379.3 254.6ZM393.2 266.3 L392.7 267.1 L378.5 259.9 L379 259ZM392.7 267.1 L392.2 267.5 L378 260.2 L378.5 259.9ZM392.2 267.5 L391.7 267.8 L377.4 260.5 L378 260.2ZM391.7 267.8 L391.1 267.7 L376.9 260.4 L377.4 260.5ZM391.1 267.7 L390 264.3 L375.7 257 L376.9 260.4ZM390 264.3 L389.3 264.3 L375 257 L375.7 257ZM389.3 264.3 L388.7 264.8 L374.4 257.5 L375 257ZM388.7 264.8 L388.1 265.3 L373.9 258 L374.4 257.5ZM388.1 265.3 L387.6 266.2 L373.4 259 L373.9 258ZM387.6 266.2 L388.1 270.2 L373.8 263 L373.4 259ZM388.1 270.2 L387.7 271.1 L373.4 263.8 L373.8 263ZM387.7 271.1 L387.2 271.6 L373 264.3 L373.4 263.8ZM387.2 271.6 L386.7 272.1 L372.5 264.8 L373 264.3ZM386.7 272.1 L386.1 272.2 L371.8 264.9 L372.5 264.8ZM386.1 272.2 L384.2 269.6 L370 262.3 L371.8 264.9ZM384.2 269.6 L383.5 269.8 L369.2 262.6 L370 262.3ZM383.5 269.8 L383 270.5 L368.7 263.2 L369.2 262.6ZM383 270.5 L382.4 271.1 L368.2 263.9 L368.7 263.2ZM382.4 271.1 L382.1 272.1 L367.8 264.9 L368.2 263.9ZM382.1 272.1 L383.3 275.5 L369 268.2 L367.8 264.9ZM383.3 275.5 L383.1 276.4 L368.8 269.1 L369 268.2ZM383.1 276.4 L382.6 276.9 L368.4 269.7 L368.8 269.1ZM382.6 276.9 L382.2 277.5 L368 270.3 L368.4 269.7ZM382.2 277.5 L381.6 277.9 L367.3 270.6 L368 270.3ZM381.6 277.9 L379.1 276.3 L364.8 269 L367.3 270.6ZM379.1 276.3 L378.3 276.7 L364.1 269.5 L364.8 269ZM378.3 276.7 L377.9 277.5 L363.6 270.2 L364.1 269.5ZM377.9 277.5 L377.4 278.2 L363.2 271 L363.6 270.2ZM377.4 278.2 L377.3 279.2 L363 272 L363.2 271ZM377.3 279.2 L379.2 281.7 L364.9 274.4 L363 272ZM379.2 281.7 L379.1 282.6 L364.9 275.3 L364.9 274.4ZM379.1 282.6 L378.8 283.2 L364.5 276 L364.9 275.3ZM378.8 283.2 L378.4 283.9 L364.2 276.6 L364.5 276ZM378.4 283.9 L377.8 284.4 L363.5 277.2 L364.2 276.6ZM377.8 284.4 L374.8 283.9 L360.6 276.6 L363.5 277.2ZM374.8 283.9 L374.1 284.6 L359.9 277.3 L360.6 276.6ZM374.1 284.6 L373.8 285.4 L359.5 278.1 L359.9 277.3ZM373.8 285.4 L373.4 286.2 L359.2 278.9 L359.5 278.1ZM373.4 286.2 L373.5 287.1 L359.2 279.9 L359.2 278.9ZM373.5 287.1 L376 288.6 L361.7 281.4 L359.2 279.9ZM376 288.6 L376.1 289.4 L361.8 282.1 L361.7 281.4ZM376.1 289.4 L375.8 290.1 L361.6 282.8 L361.8 282.1ZM375.8 290.1 L375.6 290.8 L361.3 283.5 L361.6 282.8ZM375.6 290.8 L375 291.5 L360.8 284.2 L361.3 283.5ZM375 291.5 L371.8 292.1 L357.5 284.8 L360.8 284.2ZM371.8 292.1 L371.1 292.9 L356.9 285.6 L357.5 284.8ZM371.1 292.9 L370.9 293.7 L356.7 286.5 L356.9 285.6ZM370.9 293.7 L370.7 294.6 L356.4 287.3 L356.7 286.5ZM370.7 294.6 L370.9 295.4 L356.6 288.1 L356.4 287.3ZM370.9 295.4 L373.9 295.8 L359.6 288.5 L356.6 288.1ZM373.9 295.8 L374.1 296.4 L359.9 289.2 L359.6 288.5ZM374.1 296.4 L374 297.1 L359.7 289.9 L359.9 289.2ZM374 297.1 L373.9 297.8 L359.6 290.6 L359.7 289.9ZM373.9 297.8 L373.4 298.6 L359.1 291.4 L359.6 290.6ZM373.4 298.6 L370 300.3 L355.7 293 L359.1 291.4ZM370 300.3 L369.5 301.2 L355.2 294 L355.7 293ZM369.5 301.2 L369.4 302 L355.2 294.8 L355.2 294ZM369.4 302 L369.3 302.9 L355.1 295.6 L355.2 294.8ZM369.3 302.9 L369.7 303.5 L355.4 296.2 L355.1 295.6ZM369.7 303.5 L373 302.8 L358.7 295.5 L355.4 296.2ZM373 302.8 L373.4 303.3 L359.1 296 L358.7 295.5ZM373.4 303.3 L373.4 303.9 L359.1 296.7 L359.1 296ZM373.4 303.9 L373.4 304.6 L359.1 297.3 L359.1 296.7ZM373.4 304.6 L373 305.4 L358.7 298.2 L359.1 297.3ZM373 305.4 L369.7 308.1 L355.4 300.8 L358.7 298.2ZM369.7 308.1 L369.3 309.1 L355.1 301.8 L355.4 300.8ZM369.3 309.1 L369.4 309.8 L355.1 302.6 L355.1 301.8ZM369.4 309.8 L369.5 310.6 L355.2 303.3 L355.1 302.6ZM369.5 310.6 L370 311 L355.7 303.7 L355.2 303.3ZM370 311 L373.3 309.2 L359.1 302 L355.7 303.7ZM373.3 309.2 L373.8 309.5 L359.6 302.2 L359.1 302ZM373.8 309.5 L373.9 310.1 L359.7 302.8 L359.6 302.2ZM373.9 310.1 L374.1 310.6 L359.8 303.4 L359.7 302.8ZM374.1 310.6 L373.8 311.5 L359.6 304.3 L359.8 303.4ZM373.8 311.5 L370.8 315 L356.6 307.8 L359.6 304.3ZM370.8 315 L370.6 316 L356.4 308.7 L356.6 307.8ZM370.6 316 L370.8 316.6 L356.6 309.4 L356.4 308.7ZM370.8 316.6 L371.1 317.2 L356.8 310 L356.6 309.4ZM371.1 317.2 L371.7 317.5 L357.4 310.2 L356.8 310ZM371.7 317.5 L374.9 314.7 L360.7 307.4 L357.4 310.2ZM374.9 314.7 L375.5 314.8 L361.3 307.5 L360.7 307.4ZM375.5 314.8 L375.8 315.2 L361.5 308 L361.3 307.5ZM375.8 315.2 L376 315.7 L361.7 308.4 L361.5 308ZM376 315.7 L375.9 316.6 L361.6 309.3 L361.7 308.4ZM375.9 316.6 L373.3 320.7 L359.1 313.4 L361.6 309.3ZM373.3 320.7 L373.3 321.6 L359.1 314.3 L359.1 313.4ZM373.3 321.6 L373.7 322.1 L359.4 314.8 L359.1 314.3ZM373.7 322.1 L374 322.5 L359.8 315.3 L359.4 314.8ZM374 322.5 L374.7 322.5 L360.5 315.2 L359.8 315.3ZM374.7 322.5 L377.7 318.9 L363.4 311.7 L360.5 315.2ZM377.7 318.9 L378.3 318.8 L364.1 311.5 L363.4 311.7ZM378.3 318.8 L378.7 319.1 L364.4 311.9 L364.1 311.5ZM378.7 319.1 L379 319.4 L364.7 312.2 L364.4 311.9ZM379 319.4 L379.1 320.2 L364.8 313 L364.7 312.2ZM379.1 320.2 L377.1 324.7 L362.9 317.4 L364.8 313ZM377.1 324.7 L377.3 325.5 L363 318.3 L362.9 317.4ZM377.3 325.5 L377.7 325.8 L363.5 318.5 L363 318.3ZM377.7 325.8 L378.2 326.1 L363.9 318.8 L363.5 318.5ZM378.2 326.1 L378.9 325.8 L364.7 318.5 L363.9 318.8ZM378.9 325.8 L381.4 321.7 L367.2 314.4 L364.7 318.5ZM381.4 321.7 L382.1 321.3 L367.8 314 L367.2 314.4ZM382.1 321.3 L382.5 321.5 L368.2 314.2 L367.8 314Z" fill="#000" stroke="#000" stroke-width="1.7" stroke-linejoin="round"/>
<path d="M381.8 327.5 L383.8 327.8 L369.5 320.5 L367.5 320.2ZM416.4 264.8 L415.1 263.1 L400.8 255.8 L402.1 257.6ZM412.5 260.7 L410.8 259.7 L396.5 252.4 L398.3 253.5ZM407.6 258.5 L405.6 258.2 L391.3 251 L393.4 251.3ZM402 258.3 L399.8 258.8 L385.5 251.5 L387.8 251.1ZM396 260.2 L393.7 261.3 L379.4 254.1 L381.7 252.9ZM389.8 263.9 L387.6 265.7 L373.3 258.5 L375.6 256.6ZM384 269.3 L381.9 271.7 L367.7 264.4 L369.7 262ZM378.8 276.1 L377 278.9 L362.8 271.6 L364.5 268.8ZM374.5 283.9 L373.2 286.9 L358.9 279.7 L360.2 276.6ZM371.3 292.2 L370.5 295.3 L356.3 288 L357.1 284.9ZM369.6 300.5 L369.3 303.6 L355 296.3 L355.3 293.3ZM369.3 308.4 L369.6 311.2 L355.3 303.9 L355 301.2ZM370.5 315.5 L371.3 317.8 L357 310.5 L356.2 308.2ZM373 321.2 L374.3 322.9 L360.1 315.6 L358.8 313.9ZM376.9 325.3 L378.6 326.3 L364.3 319 L362.6 318Z" fill="#fff" stroke="#000" stroke-width="1" stroke-linejoin="round"/>
<path d="M382.5 321.5 L382.9 321.6 L383.1 322.3 L381.9 326.9 L382.2 327.6 L382.8 327.6 L383.3 327.7 L384 327.2 L385.9 322.7 L386.6 322.2 L387 322.2 L387.5 322.1 L387.9 322.7 L387.4 327.1 L387.9 327.6 L388.5 327.5 L389.1 327.3 L389.8 326.6 L390.9 322 L391.5 321.3 L392 321.2 L392.6 321 L393 321.3 L393.4 325.4 L394 325.6 L394.6 325.3 L395.2 325 L395.8 324.1 L396.2 319.7 L396.7 318.9 L397.2 318.5 L397.7 318.2 L398.3 318.3 L399.4 321.7 L400.1 321.7 L400.7 321.2 L401.3 320.7 L401.8 319.8 L401.3 315.8 L401.7 314.9 L402.2 314.4 L402.7 313.9 L403.3 313.8 L405.2 316.4 L405.9 316.2 L406.4 315.5 L407 314.9 L407.3 313.9 L406.1 310.5 L406.3 309.6 L406.8 309.1 L407.2 308.5 L407.8 308.1 L410.3 309.7 L411.1 309.3 L411.5 308.5 L412 307.8 L412.1 306.8 L410.2 304.3 L410.3 303.4 L410.6 302.8 L411 302.1 L411.6 301.6 L414.6 302.1 L415.3 301.4 L415.6 300.6 L416 299.8 L415.9 298.9 L413.4 297.4 L413.3 296.6 L413.6 295.9 L413.8 295.2 L414.4 294.5 L417.6 293.9 L418.3 293.1 L418.5 292.3 L418.7 291.4 L418.5 290.6 L415.5 290.2 L415.3 289.6 L415.4 288.9 L415.5 288.2 L416 287.4 L419.4 285.7 L419.9 284.8 L420 284 L420.1 283.1 L419.7 282.5 L416.4 283.2 L416 282.7 L416 282.1 L416 281.4 L416.4 280.6 L419.7 277.9 L420.1 276.9 L420 276.2 L419.9 275.4 L419.4 275 L416.1 276.8 L415.6 276.5 L415.5 275.9 L415.3 275.4 L415.6 274.5 L418.6 271 L418.8 270 L418.6 269.4 L418.3 268.8 L417.7 268.5 L414.5 271.3 L413.9 271.2 L413.6 270.8 L413.4 270.3 L413.5 269.4 L416.1 265.3 L416.1 264.4 L415.7 263.9 L415.4 263.5 L414.7 263.5 L411.7 267.1 L411.1 267.2 L410.7 266.9 L410.4 266.6 L410.3 265.8 L412.3 261.3 L412.1 260.5 L411.7 260.2 L411.2 259.9 L410.5 260.2 L408 264.3 L407.3 264.7 L406.9 264.5 L406.5 264.4 L406.3 263.7 L407.5 259.1 L407.2 258.4 L406.6 258.4 L406.1 258.3 L405.4 258.8 L403.5 263.3 L402.8 263.8 L402.4 263.8 L401.9 263.9 L401.5 263.3 L402 258.9 L401.5 258.4 L400.9 258.5 L400.3 258.7 L399.6 259.4 L398.5 264 L397.9 264.7 L397.4 264.8 L396.8 265 L396.4 264.7 L396 260.6 L395.4 260.4 L394.8 260.7 L394.2 261 L393.6 261.9 L393.2 266.3 L392.7 267.1 L392.2 267.5 L391.7 267.8 L391.1 267.7 L390 264.3 L389.3 264.3 L388.7 264.8 L388.1 265.3 L387.6 266.2 L388.1 270.2 L387.7 271.1 L387.2 271.6 L386.7 272.1 L386.1 272.2 L384.2 269.6 L383.5 269.8 L383 270.5 L382.4 271.1 L382.1 272.1 L383.3 275.5 L383.1 276.4 L382.6 276.9 L382.2 277.5 L381.6 277.9 L379.1 276.3 L378.3 276.7 L377.9 277.5 L377.4 278.2 L377.3 279.2 L379.2 281.7 L379.1 282.6 L378.8 283.2 L378.4 283.9 L377.8 284.4 L374.8 283.9 L374.1 284.6 L373.8 285.4 L373.4 286.2 L373.5 287.1 L376 288.6 L376.1 289.4 L375.8 290.1 L375.6 290.8 L375 291.5 L371.8 292.1 L371.1 292.9 L370.9 293.7 L370.7 294.6 L370.9 295.4 L373.9 295.8 L374.1 296.4 L374 297.1 L373.9 297.8 L373.4 298.6 L370 300.3 L369.5 301.2 L369.4 302 L369.3 302.9 L369.7 303.5 L373 302.8 L373.4 303.3 L373.4 303.9 L373.4 304.6 L373 305.4 L369.7 308.1 L369.3 309.1 L369.4 309.8 L369.5 310.6 L370 311 L373.3 309.2 L373.8 309.5 L373.9 310.1 L374.1 310.6 L373.8 311.5 L370.8 315 L370.6 316 L370.8 316.6 L371.1 317.2 L371.7 317.5 L374.9 314.7 L375.5 314.8 L375.8 315.2 L376 315.7 L375.9 316.6 L373.3 320.7 L373.3 321.6 L373.7 322.1 L374 322.5 L374.7 322.5 L377.7 318.9 L378.3 318.8 L378.7 319.1 L379 319.4 L379.1 320.2 L377.1 324.7 L377.3 325.5 L377.7 325.8 L378.2 326.1 L378.9 325.8 L381.4 321.7 L382.1 321.3Z" fill="#fff" stroke="#000" stroke-width="2.1" stroke-linejoin="round"/>
<path d="M384.1 310.5 L385.8 311.2 L387.7 311.6 L389.6 311.6 L391.7 311.3 L393.8 310.6 L395.9 309.6 L398 308.3 L400 306.7 L401.9 304.9 L403.7 302.8 L405.4 300.5 L406.8 298.1 L408 295.5 L409 292.9 L409.7 290.3 L410.2 287.7 L410.4 285.1 L410.3 282.6 L409.9 280.3 L409.3 278.2 L408.4 276.3 L407.3 274.7 L405.9 273.4 L404.3 272.3 L402.6 271.6 L400.7 271.2 L398.8 271.2 L396.7 271.5 L394.6 272.2 L392.5 273.2 L390.4 274.5 L388.4 276.1 L386.5 277.9 L384.7 280 L383 282.3 L381.6 284.7 L380.4 287.3 L379.4 289.9 L378.7 292.5 L378.2 295.1 L378 297.7 L378.1 300.2 L378.5 302.5 L379.1 304.6 L380 306.5 L381.1 308.1 L382.5 309.4 L384.1 310.5Z" fill="#fff" stroke="#000" stroke-width="3" />
<path d="M384.3 307.2 L385.7 307.8 L387.3 308.1 L389 308.1 L390.7 307.8 L392.5 307.2 L394.3 306.4 L396 305.2 L397.7 303.9 L399.4 302.2 L400.9 300.4 L402.3 298.5 L403.5 296.4 L404.6 294.2 L405.4 291.9 L406.1 289.7 L406.5 287.4 L406.7 285.2 L406.6 283.1 L406.3 281.2 L405.8 279.4 L405.1 277.8 L404.2 276.4 L403 275.2 L401.7 274.4 L400.3 273.8 L398.7 273.5 L397 273.5 L395.3 273.8 L393.5 274.4 L391.7 275.2 L390 276.4 L388.3 277.7 L386.6 279.4 L385.1 281.2 L383.7 283.1 L382.5 285.2 L381.4 287.4 L380.6 289.7 L379.9 291.9 L379.5 294.2 L379.3 296.4 L379.4 298.5 L379.7 300.4 L380.2 302.2 L380.9 303.8 L381.8 305.2 L383 306.4 L384.3 307.2Z" fill="#fff" stroke="#000" stroke-width="1.5" />
<path d="M388.3 301.9 L388.7 302 L388.6 303.9 L388.7 305.7 L389.4 305.6 L390 305.5 L390.9 303.5 L391.6 301.4 L392 301.2 L392.5 300.9 L393.2 302.2 L394.1 303.4 L394.7 302.9 L395.4 302.3 L395.5 300.3 L395.4 298.5 L395.8 298 L396.3 297.4 L397.5 297.8 L398.9 297.9 L399.4 297.1 L399.8 296.2 L399.1 294.8 L398.3 293.7 L398.6 293 L398.8 292.3 L400.3 291.7 L401.8 290.7 L402 289.8 L402.2 288.9 L400.9 288.5 L399.6 288.3 L399.6 287.7 L399.6 287.1 L400.9 285.5 L402.2 283.8 L402 283.1 L401.8 282.4 L400.3 283 L398.8 283.9 L398.6 283.4 L398.3 283 L399.1 281.1 L399.8 279 L399.3 278.6 L398.8 278.3 L397.5 279.8 L396.2 281.5 L395.8 281.4 L395.4 281.3 L395.4 279.4 L395.3 277.5 L394.7 277.6 L394 277.8 L393.2 279.8 L392.5 281.8 L392 282.1 L391.5 282.3 L390.8 281 L390 279.9 L389.3 280.4 L388.7 281 L388.6 283 L388.7 284.8 L388.2 285.3 L387.8 285.9 L386.6 285.5 L385.2 285.4 L384.7 286.2 L384.2 287.1 L384.9 288.4 L385.7 289.6 L385.5 290.3 L385.2 290.9 L383.7 291.6 L382.2 292.5 L382 293.4 L381.9 294.4 L383.1 294.8 L384.5 294.9 L384.5 295.6 L384.5 296.2 L383.2 297.7 L381.9 299.5 L382.1 300.2 L382.3 300.9 L383.8 300.3 L385.2 299.4 L385.5 299.8 L385.7 300.2 L384.9 302.2 L384.3 304.3 L384.7 304.7 L385.2 305 L386.6 303.4 L387.8 301.8ZM401.6 308.7 L402.1 308.8 L388.7 302 L388.3 301.9ZM402.1 308.8 L402 310.7 L388.6 303.9 L388.7 302ZM402 310.7 L402.1 312.5 L388.7 305.7 L388.6 303.9ZM402.1 312.5 L402.7 312.4 L389.4 305.6 L388.7 305.7ZM402.7 312.4 L403.4 312.3 L390 305.5 L389.4 305.6ZM403.4 312.3 L404.2 310.3 L390.9 303.5 L390 305.5ZM404.2 310.3 L404.9 308.3 L391.6 301.4 L390.9 303.5ZM404.9 308.3 L405.4 308 L392 301.2 L391.6 301.4ZM405.4 308 L405.9 307.7 L392.5 300.9 L392 301.2ZM405.9 307.7 L406.6 309.1 L393.2 302.2 L392.5 300.9ZM406.6 309.1 L407.4 310.2 L394.1 303.4 L393.2 302.2ZM407.4 310.2 L408.1 309.7 L394.7 302.9 L394.1 303.4ZM408.1 309.7 L408.7 309.1 L395.4 302.3 L394.7 302.9ZM408.7 309.1 L408.8 307.1 L395.5 300.3 L395.4 302.3ZM408.8 307.1 L408.8 305.3 L395.4 298.5 L395.5 300.3ZM408.8 305.3 L409.2 304.8 L395.8 298 L395.4 298.5ZM409.2 304.8 L409.6 304.2 L396.3 297.4 L395.8 298ZM409.6 304.2 L410.9 304.6 L397.5 297.8 L396.3 297.4ZM410.9 304.6 L412.2 304.7 L398.9 297.9 L397.5 297.8ZM412.2 304.7 L412.7 303.9 L399.4 297.1 L398.9 297.9ZM412.7 303.9 L413.2 303 L399.8 296.2 L399.4 297.1ZM413.2 303 L412.5 301.6 L399.1 294.8 L399.8 296.2ZM412.5 301.6 L411.7 300.5 L398.3 293.7 L399.1 294.8ZM411.7 300.5 L412 299.8 L398.6 293 L398.3 293.7ZM412 299.8 L412.2 299.1 L398.8 292.3 L398.6 293ZM412.2 299.1 L413.7 298.5 L400.3 291.7 L398.8 292.3ZM413.7 298.5 L415.2 297.6 L401.8 290.7 L400.3 291.7ZM415.2 297.6 L415.4 296.6 L402 289.8 L401.8 290.7ZM415.4 296.6 L415.5 295.7 L402.2 288.9 L402 289.8ZM415.5 295.7 L414.3 295.3 L400.9 288.5 L402.2 288.9ZM414.3 295.3 L413 295.1 L399.6 288.3 L400.9 288.5ZM413 295.1 L413 294.5 L399.6 287.7 L399.6 288.3ZM413 294.5 L413 293.9 L399.6 287.1 L399.6 287.7ZM413 293.9 L414.3 292.4 L400.9 285.5 L399.6 287.1ZM414.3 292.4 L415.5 290.6 L402.2 283.8 L400.9 285.5ZM415.5 290.6 L415.4 289.9 L402 283.1 L402.2 283.8ZM415.4 289.9 L415.2 289.2 L401.8 282.4 L402 283.1ZM415.2 289.2 L413.7 289.8 L400.3 283 L401.8 282.4ZM413.7 289.8 L412.2 290.7 L398.8 283.9 L400.3 283ZM412.2 290.7 L411.9 290.2 L398.6 283.4 L398.8 283.9ZM411.9 290.2 L411.7 289.9 L398.3 283 L398.6 283.4ZM411.7 289.9 L412.5 287.9 L399.1 281.1 L398.3 283ZM412.5 287.9 L413.1 285.8 L399.8 279 L399.1 281.1ZM413.1 285.8 L412.7 285.4 L399.3 278.6 L399.8 279ZM412.7 285.4 L412.2 285.1 L398.8 278.3 L399.3 278.6ZM412.2 285.1 L410.8 286.6 L397.5 279.8 L398.8 278.3ZM410.8 286.6 L409.6 288.3 L396.2 281.5 L397.5 279.8ZM409.6 288.3 L409.2 288.2 L395.8 281.4 L396.2 281.5ZM409.2 288.2 L408.7 288.1 L395.4 281.3 L395.8 281.4ZM408.7 288.1 L408.8 286.2 L395.4 279.4 L395.4 281.3ZM408.8 286.2 L408.7 284.4 L395.3 277.5 L395.4 279.4ZM408.7 284.4 L408 284.4 L394.7 277.6 L395.3 277.5ZM408 284.4 L407.4 284.6 L394 277.8 L394.7 277.6ZM407.4 284.6 L406.5 286.6 L393.2 279.8 L394 277.8ZM406.5 286.6 L405.9 288.6 L392.5 281.8 L393.2 279.8ZM405.9 288.6 L405.4 288.9 L392 282.1 L392.5 281.8ZM405.4 288.9 L404.9 289.2 L391.5 282.3 L392 282.1ZM404.9 289.2 L404.2 287.8 L390.8 281 L391.5 282.3ZM404.2 287.8 L403.4 286.7 L390 279.9 L390.8 281ZM403.4 286.7 L402.7 287.2 L389.3 280.4 L390 279.9ZM402.7 287.2 L402 287.8 L388.7 281 L389.3 280.4ZM402 287.8 L401.9 289.8 L388.6 283 L388.7 281ZM401.9 289.8 L402 291.6 L388.7 284.8 L388.6 283ZM402 291.6 L401.6 292.1 L388.2 285.3 L388.7 284.8ZM401.6 292.1 L401.2 292.7 L387.8 285.9 L388.2 285.3ZM401.2 292.7 L399.9 292.3 L386.6 285.5 L387.8 285.9ZM399.9 292.3 L398.6 292.2 L385.2 285.4 L386.6 285.5ZM398.6 292.2 L398.1 293 L384.7 286.2 L385.2 285.4ZM398.1 293 L397.6 293.9 L384.2 287.1 L384.7 286.2ZM397.6 293.9 L398.3 295.3 L384.9 288.4 L384.2 287.1ZM398.3 295.3 L399.1 296.4 L385.7 289.6 L384.9 288.4ZM399.1 296.4 L398.8 297.1 L385.5 290.3 L385.7 289.6ZM398.8 297.1 L398.6 297.7 L385.2 290.9 L385.5 290.3ZM398.6 297.7 L397.1 298.4 L383.7 291.6 L385.2 290.9ZM397.1 298.4 L395.6 299.3 L382.2 292.5 L383.7 291.6ZM395.6 299.3 L395.4 300.3 L382 293.4 L382.2 292.5ZM395.4 300.3 L395.3 301.2 L381.9 294.4 L382 293.4ZM395.3 301.2 L396.5 301.6 L383.1 294.8 L381.9 294.4ZM396.5 301.6 L397.8 301.8 L384.5 294.9 L383.1 294.8ZM397.8 301.8 L397.8 302.4 L384.5 295.6 L384.5 294.9ZM397.8 302.4 L397.8 303 L384.5 296.2 L384.5 295.6ZM397.8 303 L396.5 304.5 L383.2 297.7 L384.5 296.2ZM396.5 304.5 L395.3 306.3 L381.9 299.5 L383.2 297.7ZM395.3 306.3 L395.4 307 L382.1 300.2 L381.9 299.5ZM395.4 307 L395.6 307.7 L382.3 300.9 L382.1 300.2ZM395.6 307.7 L397.1 307.1 L383.8 300.3 L382.3 300.9ZM397.1 307.1 L398.6 306.2 L385.2 299.4 L383.8 300.3ZM398.6 306.2 L398.8 306.6 L385.5 299.8 L385.2 299.4ZM398.8 306.6 L399.1 307 L385.7 300.2 L385.5 299.8ZM399.1 307 L398.3 309 L384.9 302.2 L385.7 300.2ZM398.3 309 L397.6 311.1 L384.3 304.3 L384.9 302.2ZM397.6 311.1 L398.1 311.5 L384.7 304.7 L384.3 304.3ZM398.1 311.5 L398.6 311.8 L385.2 305 L384.7 304.7ZM398.6 311.8 L400 310.3 L386.6 303.4 L385.2 305ZM400 310.3 L401.2 308.6 L387.8 301.8 L386.6 303.4ZM401.2 308.6 L401.6 308.7 L388.3 301.9 L387.8 301.8Z" fill="#000" stroke="#000" stroke-width="1.4" stroke-linejoin="round"/>
<path d="M401.8 312.6 L403.7 312.2 L390.4 305.4 L388.4 305.7ZM415.6 291 L415.1 288.8 L401.7 282 L402.2 284.2ZM413.4 286 L411.9 284.9 L398.6 278.1 L400 279.2ZM409 284.3 L407.1 284.7 L393.7 277.9 L395.6 277.5ZM403.7 286.4 L401.7 288.1 L388.4 281.3 L390.3 279.6ZM398.8 291.8 L397.4 294.3 L384 287.5 L385.5 285ZM395.7 298.9 L395.2 301.6 L381.8 294.8 L382.3 292.1ZM395.2 305.9 L395.7 308.1 L382.4 301.3 L381.8 299.1ZM397.4 310.9 L398.9 311.9 L385.5 305.1 L384.1 304.1Z" fill="#fff" stroke="#000" stroke-width="0.9" stroke-linejoin="round"/>
<path d="M401.6 308.7 L402.1 308.8 L402 310.7 L402.1 312.5 L402.7 312.4 L403.4 312.3 L404.2 310.3 L404.9 308.3 L405.4 308 L405.9 307.7 L406.6 309.1 L407.4 310.2 L408.1 309.7 L408.7 309.1 L408.8 307.1 L408.8 305.3 L409.2 304.8 L409.6 304.2 L410.9 304.6 L412.2 304.7 L412.7 303.9 L413.2 303 L412.5 301.6 L411.7 300.5 L412 299.8 L412.2 299.1 L413.7 298.5 L415.2 297.6 L415.4 296.6 L415.5 295.7 L414.3 295.3 L413 295.1 L413 294.5 L413 293.9 L414.3 292.4 L415.5 290.6 L415.4 289.9 L415.2 289.2 L413.7 289.8 L412.2 290.7 L411.9 290.2 L411.7 289.9 L412.5 287.9 L413.1 285.8 L412.7 285.4 L412.2 285.1 L410.8 286.6 L409.6 288.3 L409.2 288.2 L408.7 288.1 L408.8 286.2 L408.7 284.4 L408 284.4 L407.4 284.6 L406.5 286.6 L405.9 288.6 L405.4 288.9 L404.9 289.2 L404.2 287.8 L403.4 286.7 L402.7 287.2 L402 287.8 L401.9 289.8 L402 291.6 L401.6 292.1 L401.2 292.7 L399.9 292.3 L398.6 292.2 L398.1 293 L397.6 293.9 L398.3 295.3 L399.1 296.4 L398.8 297.1 L398.6 297.7 L397.1 298.4 L395.6 299.3 L395.4 300.3 L395.3 301.2 L396.5 301.6 L397.8 301.8 L397.8 302.4 L397.8 303 L396.5 304.5 L395.3 306.3 L395.4 307 L395.6 307.7 L397.1 307.1 L398.6 306.2 L398.8 306.6 L399.1 307 L398.3 309 L397.6 311.1 L398.1 311.5 L398.6 311.8 L400 310.3 L401.2 308.6Z" fill="#fff" stroke="#000" stroke-width="1.8" stroke-linejoin="round"/>
<path d="M389 311.6 L390.7 311.5 L392.4 311.1 L394.2 310.5 L395.9 309.6 L397.7 308.6 L399.4 307.3 L401 305.8 L402.6 304.2 L404 302.4 L405.4 300.5 L406.6 298.5 L407.6 296.4 L408.5 294.2 L409.3 292 L409.8 289.8 L410.2 287.7 L410.3 285.5 L410.3 283.4 L410.1 281.5 L409.7 279.6 L409.1 277.9 L408.4 276.3 L407.5 275 L406.4 273.8" fill="none" stroke="#000" stroke-width="3" />
<path d="M404.4 309.2 L403.7 308.7 L403.2 308 L402.8 307.1 L402.6 306.1 L402.5 304.9 L402.6 303.7 L402.8 302.3 L403.2 301 L403.7 299.6 L404.4 298.3 L405.2 297 L406.1 295.9 L407 294.8 L408 293.9 L409.1 293.2 L410.1 292.7 L411.1 292.3 L412 292.2 L412.9 292.3 L413.7 292.6 L428.4 298.4 L429.2 298.9 L429.8 299.7 L430.3 300.6 L430.6 301.8 L430.8 303 L430.8 304.4 L430.6 305.9 L430.2 307.5 L429.7 309 L429 310.5 L428.2 312 L427.3 313.3 L426.3 314.6 L425.2 315.6 L424.1 316.5 L423 317.1 L421.9 317.6 L420.9 317.7 L419.9 317.7 L419 317.4Z" fill="#fff" stroke="#000" stroke-width="2.9" stroke-linejoin="round"/>
<path d="M419 317.4 L419.9 317.7 L420.9 317.7 L421.9 317.6 L423 317.1 L424.1 316.5 L425.2 315.6 L426.3 314.6 L427.3 313.3 L428.2 312 L429 310.5 L429.7 309 L430.2 307.5 L430.6 305.9 L430.8 304.4 L430.8 303 L430.6 301.8 L430.3 300.6 L429.8 299.7 L429.2 298.9 L428.4 298.4 L427.5 298.1 L426.5 298.1 L425.5 298.2 L424.4 298.7 L423.3 299.3 L422.2 300.2 L421.1 301.2 L420.1 302.5 L419.2 303.8 L418.4 305.3 L417.7 306.8 L417.2 308.3 L416.8 309.9 L416.6 311.4 L416.6 312.8 L416.8 314 L417.1 315.2 L417.6 316.1 L418.2 316.9 L419 317.4Z" fill="#fff" stroke="#000" stroke-width="2.9" />
<path d="M421.7 313 L422 313.2 L422.4 313.3 L422.8 313.3 L423.3 313.2 L423.7 313.1 L424.1 312.9 L424.6 312.7 L425 312.4 L425.4 312 L425.8 311.6 L426.1 311.1 L426.4 310.6 L426.7 310.1 L426.9 309.6 L427.1 309.1 L427.2 308.6 L427.2 308 L427.2 307.5 L427.2 307.1 L427.1 306.6 L426.9 306.2 L426.7 305.9 L426.4 305.6 L426.1 305.4 L425.8 305.2 L425.4 305.1 L425 305.1 L424.5 305.2 L424.1 305.3 L423.7 305.5 L423.2 305.7 L422.8 306 L422.4 306.4 L422 306.8 L421.7 307.3 L421.4 307.8 L421.1 308.3 L420.9 308.8 L420.7 309.3 L420.6 309.8 L420.6 310.4 L420.6 310.9 L420.6 311.3 L420.7 311.8 L420.9 312.2 L421.1 312.5 L421.4 312.8 L421.7 313Z" fill="none" stroke="#000" stroke-width="1.8" />
<path d="M423.3 310.7 L423.4 310.7 L423.5 310.8 L423.7 310.8 L423.8 310.7 L423.9 310.7 L424.1 310.6 L424.2 310.5 L424.4 310.4 L424.5 310.2 L424.6 310.1 L424.8 309.9 L424.9 309.8 L425 309.6 L425.1 309.4 L425.1 309.2 L425.2 309 L425.2 308.8 L425.2 308.6 L425.2 308.5 L425.2 308.3 L425.1 308.2 L425.1 308.1 L425 308 L424.9 307.9 L424.8 307.9 L424.7 307.8 L424.5 307.8 L424.4 307.9 L424.3 307.9 L424.1 308 L424 308.1 L423.8 308.2 L423.7 308.4 L423.6 308.5 L423.4 308.7 L423.3 308.9 L423.2 309 L423.1 309.2 L423.1 309.4 L423 309.6 L423 309.8 L423 310 L423 310.1 L423 310.3 L423.1 310.4 L423.1 310.5 L423.2 310.6 L423.3 310.7Z" fill="#555" stroke="#000" stroke-width="1.1" />
<path d="M326 267.1 L327.1 267.4 L328.2 267.5 L329.4 267.4 L330.6 267 L331.8 266.5 L333 265.7 L334.1 264.8 L335.2 263.7 L336.2 262.5 L337.1 261.2 L337.8 259.7 L338.5 258.2 L339 256.6 L339.3 255 L339.5 253.4 L339.6 251.8 L339.4 250.3 L339.2 248.9 L338.7 247.5 L338.1 246.4 L337.4 245.3 L336.6 244.4 L335.7 243.8 L334.6 243.3 L333.5 243 L332.4 242.9 L331.2 243 L330 243.4 L328.8 243.9 L327.6 244.7 L326.5 245.6 L325.4 246.7 L324.4 247.9 L323.5 249.2 L322.8 250.7 L322.1 252.2 L321.6 253.8 L321.3 255.4 L321.1 257 L321 258.6 L321.2 260.1 L321.4 261.5 L321.9 262.9 L322.5 264 L323.2 265.1 L324 266 L324.9 266.6 L326 267.1Z" fill="#fff" stroke="#000" stroke-width="1.4" />
<path d="M328.3 266.2 L329.4 266.5 L330.5 266.6 L331.7 266.5 L332.9 266.1 L334.1 265.6 L335.3 264.8 L336.4 263.9 L337.5 262.8 L338.5 261.6 L339.4 260.3 L340.1 258.8 L340.8 257.3 L341.3 255.7 L341.6 254.1 L341.8 252.5 L341.9 250.9 L341.7 249.4 L341.5 248 L341 246.6 L340.4 245.5 L339.7 244.4 L338.9 243.5 L338 242.9 L336.9 242.4 L335.8 242.1 L334.7 242 L333.5 242.1 L332.3 242.5 L331.1 243 L329.9 243.8 L328.8 244.7 L327.7 245.8 L326.7 247 L325.8 248.3 L325.1 249.8 L324.4 251.3 L323.9 252.9 L323.6 254.5 L323.4 256.1 L323.3 257.7 L323.5 259.2 L323.7 260.6 L324.2 262 L324.8 263.1 L325.5 264.2 L326.3 265.1 L327.2 265.7 L328.3 266.2Z" fill="#fff" stroke="#000" stroke-width="1.4" />
<path d="M329.7 262.4 L330.5 262.6 L331.4 262.6 L332.4 262.4 L333.3 262 L334.2 261.4 L335.1 260.6 L336 259.7 L336.7 258.6 L337.3 257.5 L337.9 256.2 L338.3 254.9 L338.5 253.6 L338.6 252.3 L338.6 251.1 L338.4 249.9 L338.1 248.9 L337.6 248 L337 247.2 L336.3 246.6 L335.5 246.2 L334.7 246 L333.8 246 L332.8 246.2 L331.9 246.6 L331 247.2 L330.1 248 L329.2 248.9 L328.5 250 L327.9 251.1 L327.3 252.4 L326.9 253.7 L326.7 255 L326.6 256.3 L326.6 257.5 L326.8 258.7 L327.1 259.7 L327.6 260.6 L328.2 261.4 L328.9 262 L329.7 262.4Z" fill="#fff" stroke="#000" stroke-width="1.4" />
<path d="M330.7 261.6 L331.8 261.3 L332.9 260.6 L334 259.7 L334.9 258.5 L335.7 257.2 L336.4 255.7 L336.9 254.2 L337.1 252.6 L337.1 251.1 L336.9 249.7 L336.5 248.5 L335.9 247.5" fill="none" stroke="#000" stroke-width="1" />
<path d="M453 337.2 L454.1 337.5 L455.2 337.6 L456.4 337.5 L457.6 337.1 L458.8 336.6 L460 335.8 L461.1 334.9 L462.2 333.8 L463.2 332.6 L464.1 331.3 L464.8 329.8 L465.5 328.3 L466 326.7 L466.3 325.1 L466.5 323.5 L466.6 321.9 L466.4 320.4 L466.2 319 L465.7 317.6 L465.1 316.5 L464.4 315.4 L463.6 314.5 L462.7 313.9 L461.6 313.4 L460.5 313.1 L459.4 313 L458.2 313.1 L457 313.5 L455.8 314 L454.6 314.8 L453.5 315.7 L452.4 316.8 L451.4 318 L450.5 319.3 L449.8 320.8 L449.1 322.3 L448.6 323.9 L448.3 325.5 L448.1 327.1 L448 328.7 L448.2 330.2 L448.4 331.6 L448.9 333 L449.5 334.1 L450.2 335.2 L451 336.1 L451.9 336.7 L453 337.2Z" fill="#fff" stroke="#000" stroke-width="1.4" />
<path d="M455.3 336.3 L456.4 336.6 L457.5 336.7 L458.7 336.6 L459.9 336.2 L461.1 335.7 L462.3 334.9 L463.4 334 L464.5 332.9 L465.5 331.7 L466.4 330.4 L467.1 328.9 L467.8 327.4 L468.3 325.8 L468.6 324.2 L468.8 322.6 L468.9 321 L468.7 319.5 L468.5 318.1 L468 316.7 L467.4 315.6 L466.7 314.5 L465.9 313.6 L465 313 L463.9 312.5 L462.8 312.2 L461.7 312.1 L460.5 312.2 L459.3 312.6 L458.1 313.1 L456.9 313.9 L455.8 314.8 L454.7 315.9 L453.7 317.1 L452.8 318.4 L452.1 319.9 L451.4 321.4 L450.9 323 L450.6 324.6 L450.4 326.2 L450.3 327.8 L450.5 329.3 L450.7 330.7 L451.2 332.1 L451.8 333.2 L452.5 334.3 L453.3 335.2 L454.2 335.8 L455.3 336.3Z" fill="#fff" stroke="#000" stroke-width="1.4" />
<path d="M456.7 332.5 L457.5 332.7 L458.4 332.7 L459.4 332.5 L460.3 332.1 L461.2 331.5 L462.1 330.7 L463 329.8 L463.7 328.7 L464.3 327.6 L464.9 326.3 L465.3 325 L465.5 323.7 L465.6 322.4 L465.6 321.2 L465.4 320 L465.1 319 L464.6 318.1 L464 317.3 L463.3 316.7 L462.5 316.3 L461.7 316.1 L460.8 316.1 L459.8 316.3 L458.9 316.7 L458 317.3 L457.1 318.1 L456.2 319 L455.5 320.1 L454.9 321.2 L454.3 322.5 L453.9 323.8 L453.7 325.1 L453.6 326.4 L453.6 327.6 L453.8 328.8 L454.1 329.8 L454.6 330.7 L455.2 331.5 L455.9 332.1 L456.7 332.5Z" fill="#fff" stroke="#000" stroke-width="1.4" />
<path d="M457.7 331.7 L458.8 331.4 L459.9 330.7 L461 329.8 L461.9 328.6 L462.7 327.3 L463.4 325.8 L463.9 324.3 L464.1 322.7 L464.1 321.2 L463.9 319.8 L463.5 318.6 L462.9 317.6" fill="none" stroke="#000" stroke-width="1" />
<path d="M285.4 342 L284.9 341.7 L284.4 341.4 L284 340.9 L283.6 340.3 L283.4 339.6 L283.2 338.9 L283.2 338.1 L283.2 337.3 L283.4 336.5 L283.6 335.7 L283.9 334.9 L284.3 334.2 L284.8 333.5 L285.3 332.9 L285.9 332.4 L286.5 332.1 L287.1 331.8 L287.7 331.7 L288.3 331.7 L288.9 331.8 L298 335.6 L298.6 335.9 L299.1 336.2 L299.5 336.7 L299.8 337.4 L300.1 338 L300.3 338.8 L300.3 339.6 L300.3 340.5 L300.1 341.3 L299.9 342.2 L299.6 343 L299.2 343.7 L298.7 344.4 L298.1 345 L297.6 345.5 L296.9 345.9 L296.3 346.2 L295.6 346.3 L295 346.3 L294.4 346.2Z" fill="#fff" stroke="#000" stroke-width="2.1" stroke-linejoin="round"/>
<path d="M296.2 353.6 L296.7 353.7 L296.5 355.7 L296.6 357.6 L297.3 357.5 L297.9 357.4 L298.8 355.4 L299.6 353.3 L300.1 353.1 L300.6 352.8 L301.2 354.2 L302 355.5 L302.7 354.9 L303.4 354.4 L303.5 352.3 L303.5 350.4 L303.9 349.9 L304.4 349.4 L305.6 349.8 L307 350 L307.5 349.2 L308 348.3 L307.4 346.9 L306.6 345.6 L306.9 345 L307.1 344.3 L308.6 343.7 L310.2 342.8 L310.4 341.9 L310.6 340.9 L309.3 340.4 L308 340.2 L308 339.5 L308 338.9 L309.4 337.4 L310.7 335.7 L310.6 334.9 L310.4 334.1 L308.8 334.7 L307.3 335.5 L307.1 335.1 L306.9 334.7 L307.7 332.6 L308.5 330.5 L308 330.1 L307.5 329.7 L306.1 331.3 L304.8 332.9 L304.4 332.8 L303.9 332.7 L304.1 330.7 L304 328.8 L303.4 328.9 L302.7 329 L301.8 331 L301.1 333.1 L300.6 333.3 L300.1 333.6 L299.4 332.2 L298.6 330.9 L297.9 331.5 L297.2 332 L297.1 334.1 L297.1 336 L296.7 336.5 L296.2 337 L295 336.6 L293.6 336.4 L293.1 337.2 L292.6 338.1 L293.3 339.5 L294 340.8 L293.8 341.4 L293.5 342.1 L292 342.7 L290.4 343.6 L290.2 344.5 L290 345.5 L291.3 346 L292.6 346.2 L292.6 346.9 L292.6 347.5 L291.2 349 L289.9 350.7 L290 351.5 L290.2 352.3 L291.8 351.7 L293.3 350.9 L293.5 351.3 L293.8 351.7 L292.9 353.8 L292.2 355.9 L292.6 356.3 L293.1 356.7 L294.5 355.1 L295.8 353.5ZM306.6 359.6 L307.1 359.7 L296.7 353.7 L296.2 353.6ZM307.1 359.7 L306.9 361.7 L296.5 355.7 L296.7 353.7ZM306.9 361.7 L307 363.6 L296.6 357.6 L296.5 355.7ZM307 363.6 L307.6 363.5 L297.3 357.5 L296.6 357.6ZM307.6 363.5 L308.3 363.4 L297.9 357.4 L297.3 357.5ZM308.3 363.4 L309.2 361.4 L298.8 355.4 L297.9 357.4ZM309.2 361.4 L309.9 359.3 L299.6 353.3 L298.8 355.4ZM309.9 359.3 L310.5 359.1 L300.1 353.1 L299.6 353.3ZM310.5 359.1 L311 358.8 L300.6 352.8 L300.1 353.1ZM311 358.8 L311.6 360.2 L301.2 354.2 L300.6 352.8ZM311.6 360.2 L312.4 361.5 L302 355.5 L301.2 354.2ZM312.4 361.5 L313.1 360.9 L302.7 354.9 L302 355.5ZM313.1 360.9 L313.8 360.4 L303.4 354.4 L302.7 354.9ZM313.8 360.4 L313.9 358.3 L303.5 352.3 L303.4 354.4ZM313.9 358.3 L313.9 356.4 L303.5 350.4 L303.5 352.3ZM313.9 356.4 L314.3 355.9 L303.9 349.9 L303.5 350.4ZM314.3 355.9 L314.8 355.4 L304.4 349.4 L303.9 349.9ZM314.8 355.4 L316 355.8 L305.6 349.8 L304.4 349.4ZM316 355.8 L317.4 356 L307 350 L305.6 349.8ZM317.4 356 L317.9 355.2 L307.5 349.2 L307 350ZM317.9 355.2 L318.4 354.3 L308 348.3 L307.5 349.2ZM318.4 354.3 L317.8 352.9 L307.4 346.9 L308 348.3ZM317.8 352.9 L317 351.6 L306.6 345.6 L307.4 346.9ZM317 351.6 L317.3 351 L306.9 345 L306.6 345.6ZM317.3 351 L317.5 350.3 L307.1 344.3 L306.9 345ZM317.5 350.3 L319 349.7 L308.6 343.7 L307.1 344.3ZM319 349.7 L320.6 348.8 L310.2 342.8 L308.6 343.7ZM320.6 348.8 L320.8 347.9 L310.4 341.9 L310.2 342.8ZM320.8 347.9 L321 346.9 L310.6 340.9 L310.4 341.9ZM321 346.9 L319.7 346.4 L309.3 340.4 L310.6 340.9ZM319.7 346.4 L318.4 346.2 L308 340.2 L309.3 340.4ZM318.4 346.2 L318.4 345.5 L308 339.5 L308 340.2ZM318.4 345.5 L318.4 344.9 L308 338.9 L308 339.5ZM318.4 344.9 L319.8 343.4 L309.4 337.4 L308 338.9ZM319.8 343.4 L321.1 341.7 L310.7 335.7 L309.4 337.4ZM321.1 341.7 L321 340.9 L310.6 334.9 L310.7 335.7ZM321 340.9 L320.8 340.1 L310.4 334.1 L310.6 334.9ZM320.8 340.1 L319.2 340.7 L308.8 334.7 L310.4 334.1ZM319.2 340.7 L317.7 341.5 L307.3 335.5 L308.8 334.7ZM317.7 341.5 L317.5 341.1 L307.1 335.1 L307.3 335.5ZM317.5 341.1 L317.2 340.7 L306.9 334.7 L307.1 335.1ZM317.2 340.7 L318.1 338.6 L307.7 332.6 L306.9 334.7ZM318.1 338.6 L318.8 336.5 L308.5 330.5 L307.7 332.6ZM318.8 336.5 L318.4 336.1 L308 330.1 L308.5 330.5ZM318.4 336.1 L317.9 335.7 L307.5 329.7 L308 330.1ZM317.9 335.7 L316.5 337.3 L306.1 331.3 L307.5 329.7ZM316.5 337.3 L315.2 338.9 L304.8 332.9 L306.1 331.3ZM315.2 338.9 L314.8 338.8 L304.4 332.8 L304.8 332.9ZM314.8 338.8 L314.3 338.7 L303.9 332.7 L304.4 332.8ZM314.3 338.7 L314.5 336.7 L304.1 330.7 L303.9 332.7ZM314.5 336.7 L314.4 334.8 L304 328.8 L304.1 330.7ZM314.4 334.8 L313.8 334.9 L303.4 328.9 L304 328.8ZM313.8 334.9 L313.1 335 L302.7 329 L303.4 328.9ZM313.1 335 L312.2 337 L301.8 331 L302.7 329ZM312.2 337 L311.5 339.1 L301.1 333.1 L301.8 331ZM311.5 339.1 L310.9 339.3 L300.6 333.3 L301.1 333.1ZM310.9 339.3 L310.4 339.6 L300.1 333.6 L300.6 333.3ZM310.4 339.6 L309.8 338.2 L299.4 332.2 L300.1 333.6ZM309.8 338.2 L309 336.9 L298.6 330.9 L299.4 332.2ZM309 336.9 L308.3 337.5 L297.9 331.5 L298.6 330.9ZM308.3 337.5 L307.6 338 L297.2 332 L297.9 331.5ZM307.6 338 L307.5 340.1 L297.1 334.1 L297.2 332ZM307.5 340.1 L307.5 342 L297.1 336 L297.1 334.1ZM307.5 342 L307.1 342.5 L296.7 336.5 L297.1 336ZM307.1 342.5 L306.6 343 L296.2 337 L296.7 336.5ZM306.6 343 L305.4 342.6 L295 336.6 L296.2 337ZM305.4 342.6 L304 342.4 L293.6 336.4 L295 336.6ZM304 342.4 L303.5 343.2 L293.1 337.2 L293.6 336.4ZM303.5 343.2 L303 344.1 L292.6 338.1 L293.1 337.2ZM303 344.1 L303.6 345.5 L293.3 339.5 L292.6 338.1ZM303.6 345.5 L304.4 346.8 L294 340.8 L293.3 339.5ZM304.4 346.8 L304.1 347.4 L293.8 341.4 L294 340.8ZM304.1 347.4 L303.9 348.1 L293.5 342.1 L293.8 341.4ZM303.9 348.1 L302.4 348.7 L292 342.7 L293.5 342.1ZM302.4 348.7 L300.8 349.6 L290.4 343.6 L292 342.7ZM300.8 349.6 L300.6 350.5 L290.2 344.5 L290.4 343.6ZM300.6 350.5 L300.4 351.5 L290 345.5 L290.2 344.5ZM300.4 351.5 L301.7 352 L291.3 346 L290 345.5ZM301.7 352 L303 352.2 L292.6 346.2 L291.3 346ZM303 352.2 L303 352.9 L292.6 346.9 L292.6 346.2ZM303 352.9 L303 353.5 L292.6 347.5 L292.6 346.9ZM303 353.5 L301.6 355 L291.2 349 L292.6 347.5ZM301.6 355 L300.3 356.7 L289.9 350.7 L291.2 349ZM300.3 356.7 L300.4 357.5 L290 351.5 L289.9 350.7ZM300.4 357.5 L300.6 358.3 L290.2 352.3 L290 351.5ZM300.6 358.3 L302.2 357.7 L291.8 351.7 L290.2 352.3ZM302.2 357.7 L303.7 356.9 L293.3 350.9 L291.8 351.7ZM303.7 356.9 L303.9 357.3 L293.5 351.3 L293.3 350.9ZM303.9 357.3 L304.2 357.7 L293.8 351.7 L293.5 351.3ZM304.2 357.7 L303.3 359.8 L292.9 353.8 L293.8 351.7ZM303.3 359.8 L302.6 361.9 L292.2 355.9 L292.9 353.8ZM302.6 361.9 L303 362.3 L292.6 356.3 L292.2 355.9ZM303 362.3 L303.5 362.7 L293.1 356.7 L292.6 356.3ZM303.5 362.7 L304.9 361.1 L294.5 355.1 L293.1 356.7ZM304.9 361.1 L306.2 359.5 L295.8 353.5 L294.5 355.1ZM306.2 359.5 L306.6 359.6 L296.2 353.6 L295.8 353.5Z" fill="#000" stroke="#000" stroke-width="2" stroke-linejoin="round"/>
<path d="M306.7 363.6 L308.6 363.3 L298.2 357.3 L296.3 357.6ZM321.1 342 L320.7 339.8 L310.3 333.8 L310.8 336ZM319 336.8 L317.7 335.6 L307.3 329.6 L308.7 330.8ZM314.7 334.8 L312.8 335.1 L302.4 329.1 L304.3 328.8ZM309.3 336.7 L307.3 338.3 L296.9 332.3 L298.9 330.7ZM304.3 342 L302.8 344.5 L292.4 338.5 L293.9 336ZM301 349.2 L300.4 351.9 L290 345.9 L290.6 343.2ZM300.3 356.4 L300.7 358.6 L290.3 352.6 L289.9 350.4ZM302.4 361.6 L303.7 362.8 L293.4 356.8 L292 355.6Z" fill="#fff" stroke="#000" stroke-width="0.9" stroke-linejoin="round"/>
<path d="M306.6 359.6 L307.1 359.7 L306.9 361.7 L307 363.6 L307.6 363.5 L308.3 363.4 L309.2 361.4 L309.9 359.3 L310.5 359.1 L311 358.8 L311.6 360.2 L312.4 361.5 L313.1 360.9 L313.8 360.4 L313.9 358.3 L313.9 356.4 L314.3 355.9 L314.8 355.4 L316 355.8 L317.4 356 L317.9 355.2 L318.4 354.3 L317.8 352.9 L317 351.6 L317.3 351 L317.5 350.3 L319 349.7 L320.6 348.8 L320.8 347.9 L321 346.9 L319.7 346.4 L318.4 346.2 L318.4 345.5 L318.4 344.9 L319.8 343.4 L321.1 341.7 L321 340.9 L320.8 340.1 L319.2 340.7 L317.7 341.5 L317.5 341.1 L317.2 340.7 L318.1 338.6 L318.8 336.5 L318.4 336.1 L317.9 335.7 L316.5 337.3 L315.2 338.9 L314.8 338.8 L314.3 338.7 L314.5 336.7 L314.4 334.8 L313.8 334.9 L313.1 335 L312.2 337 L311.5 339.1 L310.9 339.3 L310.4 339.6 L309.8 338.2 L309 336.9 L308.3 337.5 L307.6 338 L307.5 340.1 L307.5 342 L307.1 342.5 L306.6 343 L305.4 342.6 L304 342.4 L303.5 343.2 L303 344.1 L303.6 345.5 L304.4 346.8 L304.1 347.4 L303.9 348.1 L302.4 348.7 L300.8 349.6 L300.6 350.5 L300.4 351.5 L301.7 352 L303 352.2 L303 352.9 L303 353.5 L301.6 355 L300.3 356.7 L300.4 357.5 L300.6 358.3 L302.2 357.7 L303.7 356.9 L303.9 357.3 L304.2 357.7 L303.3 359.8 L302.6 361.9 L303 362.3 L303.5 362.7 L304.9 361.1 L306.2 359.5Z" fill="#fff" stroke="#000" stroke-width="2.5" stroke-linejoin="round"/>
<path d="M306.1 359.2 L307 359.5 L308.1 359.5 L309.3 359.3 L310.5 358.9 L311.6 358.2 L312.8 357.3 L313.9 356.2 L315 354.9 L315.9 353.5 L316.7 352 L317.3 350.4 L317.8 348.8 L318.1 347.2 L318.3 345.6 L318.2 344.1 L318 342.8 L317.6 341.6 L317 340.6 L316.2 339.8 L315.3 339.2 L314.4 338.9 L313.3 338.9 L312.1 339.1 L310.9 339.5 L309.8 340.2 L308.6 341.1 L307.5 342.2 L306.4 343.5 L305.5 344.9 L304.7 346.4 L304.1 348 L303.6 349.6 L303.3 351.2 L303.1 352.8 L303.2 354.3 L303.4 355.6 L303.8 356.8 L304.4 357.8 L305.2 358.6 L306.1 359.2Z" fill="#fff" stroke="#000" stroke-width="1.5" />
<path d="M307.5 356.1 L306.9 355.7 L306.5 355.2 L306.1 354.5 L305.9 353.7 L305.8 352.8 L305.7 351.8 L305.9 350.8 L306.1 349.6 L306.5 348.5 L306.9 347.4 L307.5 346.4 L308.1 345.4 L308.8 344.5 L309.5 343.7 L310.3 343.1 L311.1 342.6 L311.8 342.3 L312.6 342.1 L313.3 342.1 L313.9 342.3 L328.6 350.8 L329.2 351.2 L329.6 351.7 L330 352.4 L330.2 353.2 L330.4 354.1 L330.4 355.1 L330.3 356.1 L330 357.3 L329.7 358.4 L329.2 359.5 L328.7 360.5 L328 361.5 L327.3 362.4 L326.6 363.2 L325.8 363.8 L325.1 364.3 L324.3 364.6 L323.5 364.8 L322.8 364.8 L322.2 364.6Z" fill="#fff" stroke="#000" stroke-width="2" stroke-linejoin="round"/>
<path d="M321 369.2 L320.2 368.7 L319.5 367.9 L318.9 366.9 L318.5 365.7 L318.2 364.3 L318.2 362.7 L318.3 360.9 L318.6 359.2 L319.1 357.3 L319.7 355.5 L320.4 353.7 L321.3 352.1 L322.3 350.5 L323.4 349.2 L324.5 348 L325.6 347.1 L326.7 346.5 L327.8 346.1 L328.9 346 L329.8 346.2 L332.7 347.9 L333.5 348.4 L334.2 349.1 L334.8 350.1 L335.2 351.4 L335.5 352.8 L335.5 354.4 L335.4 356.1 L335.1 357.9 L334.6 359.7 L334 361.6 L333.3 363.3 L332.4 365 L331.4 366.5 L330.3 367.9 L329.2 369 L328.1 369.9 L327 370.6 L325.9 371 L324.8 371 L323.9 370.8Z" fill="#fff" stroke="#000" stroke-width="2.1" stroke-linejoin="round"/>
<path d="M323.9 370.8 L324.8 371 L325.9 371 L327 370.6 L328.1 369.9 L329.2 369 L330.3 367.9 L331.4 366.5 L332.4 365 L333.3 363.3 L334 361.6 L334.6 359.7 L335.1 357.9 L335.4 356.1 L335.5 354.4 L335.5 352.8 L335.2 351.4 L334.8 350.1 L334.2 349.1 L333.5 348.4 L332.7 347.9 L331.7 347.7 L330.7 347.7 L329.6 348.1 L328.5 348.8 L327.3 349.7 L326.2 350.8 L325.2 352.2 L324.2 353.7 L323.3 355.4 L322.5 357.1 L321.9 359 L321.5 360.8 L321.2 362.6 L321 364.3 L321.1 365.9 L321.3 367.3 L321.7 368.6 L322.3 369.6 L323 370.3 L323.9 370.8Z" fill="#fff" stroke="#000" stroke-width="2.1" />
<path d="M325.1 368.5 L325.7 368.6 L326.4 368.6 L327.1 368.4 L327.8 368.1 L328.5 367.7 L329.3 367.1 L330 366.3 L330.7 365.5 L331.4 364.5 L332 363.5 L332.5 362.4 L333 361.2 L333.4 360 L333.8 358.8 L334 357.7 L334.1 356.5 L334.2 355.4 L334.1 354.4 L334 353.4 L333.8 352.6 L333.4 351.9 L333 351.3 L332.5 350.8 L332 350.5 L331.4 350.4 L330.7 350.4 L330 350.6 L329.3 350.9 L328.5 351.3 L327.8 351.9 L327.1 352.7 L326.4 353.5 L325.7 354.5 L325.1 355.5 L324.5 356.6 L324.1 357.8 L323.6 359 L323.3 360.2 L323.1 361.3 L322.9 362.5 L322.9 363.6 L322.9 364.6 L323.1 365.6 L323.3 366.4 L323.6 367.1 L324.1 367.7 L324.5 368.2 L325.1 368.5Z" fill="none" stroke="#000" stroke-width="1.2" />
<path d="M325.3 366.2 L324.7 365.9 L324.3 365.4 L323.9 364.7 L323.7 363.9 L323.6 363 L323.6 362 L323.7 361 L323.9 359.9 L324.3 358.8 L324.7 357.7 L325.3 356.7 L325.9 355.7 L326.6 354.8 L327.3 354 L328.1 353.4 L328.8 352.9 L329.6 352.6 L330.3 352.4 L331 352.5 L331.6 352.7 L391.8 387.4 L392.4 387.8 L392.8 388.3 L393.2 388.9 L393.4 389.7 L393.5 390.6 L393.5 391.6 L393.4 392.7 L393.2 393.8 L392.8 394.9 L392.4 395.9 L391.8 397 L391.2 398 L390.5 398.8 L389.8 399.6 L389 400.2 L388.3 400.7 L387.5 401 L386.8 401.2 L386.1 401.2 L385.5 401Z" fill="#fff" stroke="#000" stroke-width="2.2" stroke-linejoin="round"/>
<path d="M387 384.6 L386.2 384.4 L385.3 384.5 L384.4 384.8 L383.4 385.4 L382.4 386.2 L381.6 387.2 L380.7 388.4 L380.1 389.7 L379.5 391 L379.1 392.4 L378.9 393.7 L378.9 395 L379.1 396.1 L379.4 397 L380 397.7 L380.6 398.2 L382.7 399.4 L382 398.9 L381.5 398.2 L381.2 397.3 L381 396.2 L381 394.9 L381.2 393.6 L381.6 392.2 L382.1 390.9 L382.8 389.6 L383.6 388.4 L384.5 387.4 L385.5 386.6 L386.4 386 L387.4 385.7 L388.3 385.6 L389 385.8Z" fill="#000" stroke="#000" stroke-width="1.5" />
<path d="M385 400.7 L384.4 400.3 L384 399.8 L383.6 399.2 L383.4 398.4 L383.2 397.5 L383.2 396.5 L383.4 395.4 L383.6 394.3 L383.9 393.2 L384.4 392.2 L384.9 391.1 L385.5 390.1 L386.2 389.3 L387 388.5 L387.7 387.9 L388.5 387.4 L389.2 387.1 L390 386.9 L390.7 386.9 L391.3 387.1 L414.3 400.4 L414.9 400.8 L415.3 401.3 L415.7 401.9 L415.9 402.7 L416 403.6 L416 404.6 L415.9 405.7 L415.7 406.8 L415.3 407.9 L414.9 408.9 L414.4 410 L413.7 411 L413.1 411.8 L412.3 412.6 L411.6 413.2 L410.8 413.7 L410 414 L409.3 414.2 L408.6 414.2 L408 414Z" fill="#000" stroke="#000" stroke-width="2" stroke-linejoin="round"/>
<path d="M409 411.7 L408.6 411.5 L408.3 411.1 L408 410.7 L407.9 410.1 L407.7 409.5 L407.7 408.8 L407.8 408.1 L407.9 407.4 L408.1 406.7 L408.4 405.9 L408.8 405.2 L409.2 404.6 L409.7 404 L410.2 403.5 L410.7 403.1 L411.3 402.8 L411.8 402.6 L412.3 402.5 L412.8 402.5 L413.3 402.7 L417.6 405.2 L418 405.4 L418.3 405.8 L418.6 406.2 L418.8 406.8 L418.9 407.4 L418.9 408.1 L418.9 408.8 L418.7 409.5 L418.5 410.2 L418.2 411 L417.8 411.7 L417.4 412.3 L417 412.9 L416.4 413.4 L415.9 413.8 L415.4 414.1 L414.8 414.3 L414.3 414.4 L413.8 414.4 L413.4 414.2Z" fill="#fff" stroke="#000" stroke-width="1.8" stroke-linejoin="round"/>
<path d="M408 414 L408.8 414.2 L409.7 414.1 L410.6 413.8 L411.6 413.2 L412.5 412.4 L413.4 411.4 L414.2 410.2 L414.9 408.9 L415.4 407.6 L415.8 406.2 L416 404.9 L416 403.6 L415.9 402.5 L415.5 401.6 L415 400.9 L414.3 400.4" fill="none" stroke="#000" stroke-width="2" />
<path d="M414.5 415.7 L414.9 415.8 L415.3 415.7 L415.8 415.6 L416.3 415.3 L416.8 414.9 L417.3 414.4 L417.9 413.8 L418.3 413.1 L418.8 412.4 L419.2 411.6 L419.5 410.8 L419.8 409.9 L420 409.1 L420.2 408.3 L420.2 407.6 L420.2 407 L420.1 406.4 L419.9 405.9 L419.6 405.6 L419.3 405.3 L425.3 408.8 L425.9 409.2 L426.4 409.6 L426.8 410.2 L427.1 410.8 L427.3 411.6 L427.4 412.4 L427.3 413.2 L427.2 414.1 L427 414.9 L426.7 415.7 L426.2 416.5 L425.7 417.2 L425.2 417.9 L424.5 418.4 L423.9 418.9 L423.2 419.2 L422.5 419.4 L421.8 419.4 L421.1 419.4 L420.5 419.2Z" fill="#000" stroke="#000" stroke-width="1.9" stroke-linejoin="round"/>
<path d="M420.5 419.2 L421.1 419.4 L421.8 419.4 L422.5 419.4 L423.2 419.2 L423.9 418.9 L424.5 418.4 L425.2 417.9 L425.7 417.2 L426.2 416.5 L426.7 415.7 L427 414.9 L427.2 414.1 L427.3 413.2 L427.4 412.4 L427.3 411.6 L427.1 410.8 L426.8 410.2 L426.4 409.6 L425.9 409.2 L425.3 408.8 L424.7 408.6 L424.1 408.6 L423.4 408.6 L422.7 408.8 L422 409.1 L421.3 409.6 L420.7 410.1 L420.1 410.8 L419.6 411.5 L419.2 412.3 L418.9 413.1 L418.7 413.9 L418.5 414.8 L418.5 415.6 L418.6 416.4 L418.8 417.2 L419.1 417.8 L419.5 418.4 L420 418.8 L420.5 419.2Z" fill="#000" stroke="#000" stroke-width="1.9" />
<path d="M423.2 415.9 L423.3 415.9 L423.4 415.9 L423.6 415.9 L423.8 415.9 L423.9 415.9 L424.1 415.8 L424.2 415.7 L424.3 415.6 L424.5 415.4 L424.6 415.3 L424.7 415.1 L424.8 415 L424.9 414.8 L424.9 414.6 L425 414.4 L425 414.2 L425 414 L425 413.9 L424.9 413.7 L424.9 413.6 L424.8 413.4 L424.7 413.3 L424.6 413.2 L424.4 413.1 L424.3 413.1 L424.2 413.1 L424 413.1 L423.9 413.1 L423.7 413.1 L423.5 413.2 L423.4 413.3 L423.3 413.4 L423.1 413.6 L423 413.7 L422.9 413.9 L422.8 414 L422.7 414.2 L422.7 414.4 L422.6 414.6 L422.6 414.8 L422.6 415 L422.6 415.1 L422.7 415.3 L422.8 415.4 L422.8 415.6 L422.9 415.7 L423 415.8 L423.2 415.9Z" fill="#bbb" stroke="#888" stroke-width="0.8" />
<path d="M144 478 L140.5 482.8 L141.6 487.3 L146.5 489 L148.7 483.5 L144 478Z" fill="#fff" stroke="#000" stroke-width="1.9" stroke-linejoin="round" stroke-linecap="round"/>
<path d="M144 478 L160.2 469.1 L163.3 474.4 L148.4 483.3Z" fill="#fff" stroke="#000" stroke-width="1.9" stroke-linejoin="round" stroke-linecap="round"/>
<path d="M147.5 499.3 L147.2 499.9 L147 500.5 L146.8 501.2 L146.9 501.8 L147.3 502.1 L148.1 502.2 L149.2 502.1 L150.5 501.8 L151.5 501.7 L152.2 501.9 L152.3 502.6 L152.2 503.4 L152 504.2 L151.7 505.2 L151.5 506.1 L151.5 506.8 L151.9 507.2 L152.5 507.3 L153.4 507.1 L154.5 506.8 L155.5 506.4 L156.3 506.3 L156.9 506.4 L157.1 506.9 L157.1 507.8 L157 508.8 L156.9 509.9 L157 510.8 L157.2 511.4 L157.7 511.7 L158.3 511.6 L159.1 511.2 L160 510.6 L160.9 510.1 L161.6 509.7 L162.2 509.6 L162.5 509.9 L162.8 510.6 L162.9 511.6 L163.1 512.7 L163.3 513.6 L163.7 514.3 L164.2 514.6 L164.8 514.5 L165.5 513.9 L166.2 513.2 L166.8 512.4 L167.3 511.7 L167.8 511.3 L168.2 511.2 L168.7 511.6 L169.1 512.3 L169.6 513.2 L170.2 514.1 L170.7 514.8 L171.3 515.1 L171.8 515 L172.3 514.5 L172.8 513.6 L173.2 512.6 L173.6 511.7 L174 511 L174.4 510.7 L175 510.9 L175.6 511.4 L176.2 512.2 L176.9 512.9 L177.6 513.6 L178.2 513.9 L178.8 513.8 L179.2 513.3 L179.5 512.4 L179.7 511.4 L179.8 510.3 L180.1 509.5 L180.4 509 L180.9 509 L181.6 509.3 L182.4 509.9 L183.2 510.5 L184 511.1 L184.7 511.4 L185.2 511.4 L185.6 510.9 L185.8 510.2 L185.9 509.1 L186.1 508 L186.2 507 L186.6 506.5 L187.2 506.4 L187.9 506.7 L188.9 507.3 L189.8 508 L190.7 508.5 L191.3 508.6 L191.8 508.2 L192 507.5 L192.1 506.6 L192.1 505.5 L192.1 504.6 L192.2 503.9 L192.4 503.5 L192.7 503.3 L193.7 503.5 L194.7 504 L195.8 504.4 L196.7 504.6 L197.3 504.5 L197.7 504.2 L197.8 503.7 L197.7 502.9 L197.4 501.7 L197.1 500.8 L197 500 L197 499.3 L197.4 499 L198.1 498.9 L199 499.1 L200.1 499.4 L201.1 499.7 L201.9 499.7 L202.5 499.5 L202.6 498.9 L202.5 498 L202.2 496.9 L201.9 495.9 L201.7 495 L201.9 494.4 L202.3 494.1 L203.1 494.1 L204.1 494.4 L205.1 494.7 L206.1 494.9 L206.8 494.9 L207.2 494.6 L207.4 494 L207.2 493.2 L207 492.2 L206.7 491.1 L206.6 490.2 L206.8 489.6 L207.3 489.3 L208 489.4 L209 489.6 L210 490 L211 490.3 L211.7 490.4 L212.1 490.1 L212.3 489.5 L212.2 488.6 L212.1 487.5 L212.1 486.4 L212.3 485.5 L212.7 485 L213.5 485.1 L214.5 485.6 L215.6 486.3 L216.5 486.9 L217.2 487 L217.7 486.8 L217.9 486.4 L218 485.7 L218.1 485.1" fill="none" stroke="#000" stroke-width="1.9" stroke-linejoin="round" stroke-linecap="round"/>
<path d="M142.9 488.3 L143.9 490.9 L145.6 492.4 L146 495.2 L147.7 496.7 L148 498.8" fill="none" stroke="#000" stroke-width="1.8" stroke-linejoin="round" stroke-linecap="round"/>
<path d="M144.1 490.2 L150.8 492.8" fill="none" stroke="#000" stroke-width="2.6" stroke-linejoin="round" stroke-linecap="round"/>
<path d="M146.3 494.3 L153.5 496.9" fill="none" stroke="#000" stroke-width="2.6" stroke-linejoin="round" stroke-linecap="round"/>
<path d="M148.4 498.1 L156.1 500.8" fill="none" stroke="#000" stroke-width="2.6" stroke-linejoin="round" stroke-linecap="round"/>
<path d="M199.2 448.4 L210 444.2 L212.1 447.5 L202.3 451.6Z" fill="#fff" stroke="#000" stroke-width="1.8" stroke-linejoin="round" stroke-linecap="round"/>
<path d="M216 441.3 L226.5 435.8 L232.8 437 L235.2 440.4 L233.5 444.2" fill="none" stroke="#000" stroke-width="1.9" stroke-linejoin="round" stroke-linecap="round"/>
<path d="M217.8 445.1 L228.6 439.6 L231.8 440.4" fill="none" stroke="#000" stroke-width="1.8" stroke-linejoin="round" stroke-linecap="round"/>
<path d="M215 450.9 L215.6 450.8 L216.2 450.4 L216.7 449.8 L217.2 448.9 L217.6 447.8 L217.8 446.7 L217.9 445.5 L217.8 444.3 L217.6 443.3 L217.3 442.6 L216.8 442 L216.3 441.8 L215.7 441.9 L215.1 442.3 L214.5 442.9 L214.1 443.8 L213.7 444.9 L213.4 446 L213.4 447.2 L213.4 448.4 L213.6 449.4 L214 450.1 L214.4 450.7 L215 450.9Z" fill="#fff" stroke="#000" stroke-width="1.8" />
<path d="M232.5 442.7 L232 442.8 L231.6 443 L231.3 443.4 L231.3 443.9 L231.7 444.6 L232.4 445.5 L233.2 446.5 L233.8 447.4 L234 448.2 L233.7 448.7 L232.8 448.9 L231.6 449.1 L230.5 449.2 L229.6 449.4 L228.9 449.6 L228.6 450.1 L228.6 450.7 L229.1 451.4 L229.8 452.3 L230.6 453.1 L231.2 454 L231.5 454.6 L231.2 455.1 L230.6 455.4 L229.5 455.7 L228.4 455.8 L227.3 456 L226.5 456.3 L226.1 456.8 L226.2 457.4 L226.7 458.2 L227.6 459.1 L228.5 460 L229.1 460.8 L229.3 461.4 L228.9 461.9 L228.2 462.2 L227.3 462.4 L226.4 462.6 L225.6 462.7 L224.9 462.9 L224.5 463.1" fill="none" stroke="#000" stroke-width="1.9" stroke-linejoin="round" stroke-linecap="round"/>
<path d="M176.6 459.2 L175.8 458.7 L175.2 457.9 L174.7 457 L174.3 456 L174.2 454.8 L174.2 453.5 L174.3 452.1 L174.6 450.7 L175.1 449.3 L175.7 448 L176.5 446.7 L177.3 445.5 L178.3 444.4 L179.3 443.5 L180.4 442.8 L181.5 442.2 L182.5 441.9 L183.6 441.8 L184.5 441.9 L185.4 442.2 L195.5 448.2 L196.3 448.7 L196.9 449.4 L197.4 450.3 L197.7 451.4 L197.9 452.5 L198 453.8 L197.8 455.1 L197.5 456.5 L197.1 457.9 L196.5 459.2 L195.7 460.5 L194.9 461.7 L194 462.8 L193 463.7 L191.9 464.4 L190.9 464.9 L189.8 465.3 L188.8 465.4 L187.9 465.3 L187 465Z" fill="#fff" stroke="#000" stroke-width="2" stroke-linejoin="round"/>
<path d="M166.4 466 L181.5 458.3 L183.5 464.5 L170 470.5Z" fill="#fff" stroke="#000" stroke-width="1.9" stroke-linejoin="round" stroke-linecap="round"/>
<path d="M165.2 475.9 L166 476 L166.9 475.7 L167.7 475.2 L168.5 474.3 L169.1 473.3 L169.6 472.1 L169.9 470.8 L170 469.6 L169.9 468.4 L169.5 467.5 L169 466.8 L168.3 466.4 L167.5 466.3 L166.7 466.6 L165.9 467.1 L165.1 468 L164.4 469 L163.9 470.2 L163.6 471.5 L163.5 472.7 L163.7 473.8 L164 474.8 L164.6 475.5 L165.2 475.9Z" fill="#fff" stroke="#000" stroke-width="1.8" />
<path d="M188.7 465.4 L188.2 465.1 L187.8 464.7 L187.4 464 L187.1 463.2 L187 462.3 L186.9 461.2 L187 460.1 L187.2 458.9 L187.4 457.6 L187.8 456.4 L188.2 455.2 L188.7 454 L189.3 452.9 L189.9 451.9 L190.6 451.1 L191.3 450.4 L191.9 450 L192.6 449.6 L193.2 449.5 L193.8 449.6 L244.6 478.6 L245.3 479.1 L245.9 479.8 L246.3 480.6 L246.6 481.6 L246.7 482.7 L246.7 483.9 L246.5 485.2 L246.2 486.5 L245.7 487.7 L245.1 489 L244.3 490.1 L243.5 491.2 L242.6 492.2 L241.6 493 L240.6 493.6 L239.6 494.1 L238.6 494.4 L237.7 494.4 L236.8 494.3 L236 494Z" fill="#fff" stroke="#000" stroke-width="2.1" stroke-linejoin="round"/>
<path d="M214.8 460.3 L216 458.8 L218.1 458.8 L219.8 461" fill="none" stroke="#000" stroke-width="1.6" stroke-linejoin="round" stroke-linecap="round"/>
<path d="M220.6 464.9 L219.7 464.7 L218.8 464.8 L217.7 465.2 L216.7 465.9 L215.6 466.8 L214.6 468 L213.7 469.4 L213 470.8 L212.4 472.4 L212 474 L211.8 475.5 L211.7 476.9 L211.9 478.2 L212.3 479.2 L212.9 480 L213.7 480.5" fill="none" stroke="#000" stroke-width="1.9" />
<path d="M225 467.4 L224.1 467.2 L223.1 467.3 L222.1 467.6 L221 468.3 L219.9 469.2 L218.8 470.4 L217.9 471.7 L217.1 473.2 L216.5 474.8 L216.1 476.3 L215.8 477.9 L215.8 479.3 L216 480.6 L216.4 481.6 L217 482.4 L217.8 483 L225.6 487.7 L224.8 487.1 L224.2 486.2 L223.8 485.1 L223.6 483.8 L223.6 482.4 L223.9 480.8 L224.3 479.2 L225 477.7 L225.9 476.2 L226.9 474.9 L227.9 473.8 L229.1 472.9 L230.3 472.3 L231.4 471.9 L232.5 471.9 L233.4 472.2Z" fill="#0c0c0c" stroke="#000" stroke-width="1.2" />
<path d="M235.8 473.6 L234.8 473.2 L233.7 473.2 L232.6 473.6 L231.4 474.2 L230.2 475 L229.1 476.2 L228.1 477.5 L227.2 478.9 L226.5 480.5 L226 482.1 L225.8 483.6 L225.7 485.1 L225.9 486.4 L226.3 487.5 L227 488.4 L227.8 489 L233.9 492.7 L233 492.1 L232.4 491.1 L232 490 L231.8 488.6 L231.8 487.1 L232.1 485.6 L232.6 484 L233.4 482.4 L234.3 481 L235.4 479.7 L236.5 478.6 L237.7 477.7 L239 477.2 L240.2 476.9 L241.3 476.9 L242.3 477.3Z" fill="#0c0c0c" stroke="#000" stroke-width="1.2" />
<path d="M225.4 468.4 L224.5 468.6 L223.7 468.9 L222.8 469.5 L221.9 470.2 L221.1 471.1 L220.4 472.1 L219.7 473.1 L219 474.3 L218.5 475.5 L218.1 476.7 L217.9 478 L217.7 479.1 L217.7 480.2 L217.8 481.3 L218.1 482.2 L218.4 483" fill="none" stroke="#8a8a8a" stroke-width="0.5" />
<path d="M227.6 469.6 L226.8 469.8 L225.9 470.2 L225 470.8 L224.2 471.5 L223.3 472.3 L222.5 473.3 L221.8 474.4 L221.2 475.5 L220.7 476.7 L220.3 478 L220 479.2 L219.8 480.4 L219.8 481.5 L219.9 482.5 L220.2 483.4 L220.5 484.2" fill="none" stroke="#8a8a8a" stroke-width="0.5" />
<path d="M229.9 470.9 L229 471.1 L228.1 471.5 L227.2 472 L226.4 472.7 L225.5 473.5 L224.7 474.5 L224 475.6 L223.3 476.7 L222.8 477.9 L222.4 479.2 L222.1 480.4 L221.9 481.6 L221.9 482.7 L222 483.8 L222.3 484.7 L222.6 485.5" fill="none" stroke="#8a8a8a" stroke-width="0.5" />
<path d="M235.7 474.2 L234.8 474.3 L233.9 474.7 L232.9 475.2 L232 475.9 L231.1 476.7 L230.3 477.6 L229.5 478.7 L228.8 479.9 L228.3 481.1 L227.8 482.3 L227.5 483.5 L227.3 484.7 L227.3 485.9 L227.4 486.9 L227.7 487.9 L228.1 488.7" fill="none" stroke="#8a8a8a" stroke-width="0.5" />
<path d="M237.7 475.3 L236.8 475.5 L235.8 475.8 L234.9 476.3 L234 477 L233.1 477.8 L232.2 478.7 L231.4 479.8 L230.7 480.9 L230.2 482.1 L229.7 483.4 L229.4 484.6 L229.2 485.8 L229.2 487 L229.3 488 L229.5 489 L229.9 489.8" fill="none" stroke="#8a8a8a" stroke-width="0.5" />
<path d="M239.4 476.3 L238.5 476.4 L237.6 476.8 L236.6 477.3 L235.7 477.9 L234.8 478.7 L233.9 479.7 L233.1 480.7 L232.4 481.9 L231.8 483.1 L231.4 484.3 L231.1 485.6 L230.9 486.8 L230.8 487.9 L230.9 489 L231.2 490 L231.6 490.8" fill="none" stroke="#8a8a8a" stroke-width="0.5" />
<path d="M236 494 L236.8 494.3 L237.7 494.4 L238.6 494.4 L239.6 494.1 L240.6 493.6 L241.6 493 L242.6 492.2 L243.5 491.2 L244.3 490.1 L245.1 489 L245.7 487.7 L246.2 486.5 L246.5 485.2 L246.7 483.9 L246.7 482.7 L246.6 481.6 L246.3 480.6 L245.9 479.8 L245.3 479.1 L244.6 478.6 L243.8 478.3 L242.9 478.2 L242 478.2 L241 478.5 L240 479 L239 479.6 L238 480.4 L237.1 481.4 L236.3 482.5 L235.5 483.6 L234.9 484.9 L234.4 486.1 L234.1 487.4 L233.9 488.7 L233.9 489.9 L234 491 L234.3 492 L234.7 492.8 L235.3 493.5 L236 494Z" fill="#fff" stroke="#000" stroke-width="2.1" />
<path d="M260.8 511 L263.5 500 L266.5 489 L269.3 479.6 L270.3 477.6 L268.5 476.9 L265 477" fill="none" stroke="#000" stroke-width="3.8" stroke-linecap="round" stroke-linejoin="round"/>
<path d="M260.8 511 L263.5 500 L266.5 489 L269.3 479.6 L270.3 477.6 L268.5 476.9" fill="none" stroke="#fff" stroke-width="0.8" stroke-linecap="round" stroke-linejoin="round" stroke-dasharray="2.2 1.2"/>
<path d="M263.6 519.7 L262.4 519.1 L261.3 518.1 L260.4 516.9 L259.7 515.4 L259.2 513.8 L259 512 L259 510 L259.2 508 L259.7 506 L260.3 504.1 L261.2 502.2 L262.3 500.4 L263.5 498.8 L264.9 497.5 L266.3 496.3 L267.8 495.5 L269.3 494.9 L270.8 494.6 L272.2 494.7 L273.6 495.1 L286.5 499.2 L287.7 499.8 L288.8 500.8 L289.7 502 L290.4 503.5 L290.9 505.1 L291.1 506.9 L291.1 508.9 L290.9 510.9 L290.4 512.9 L289.8 514.8 L288.9 516.7 L287.8 518.5 L286.6 520.1 L285.2 521.4 L283.8 522.6 L282.3 523.4 L280.8 524 L279.3 524.3 L277.9 524.2 L276.5 523.8Z" fill="#000" stroke="#000" stroke-width="1.5" stroke-linecap="round" stroke-linejoin="round"/>
<path d="M276.5 523.8 L277.9 524.2 L279.3 524.3 L280.8 524 L282.3 523.4 L283.8 522.6 L285.2 521.4 L286.6 520.1 L287.8 518.5 L288.9 516.7 L289.8 514.8 L290.4 512.9 L290.9 510.9 L291.1 508.9 L291.1 506.9 L290.9 505.1 L290.4 503.5 L289.7 502 L288.8 500.8 L287.7 499.8 L286.5 499.2 L285.1 498.8 L283.7 498.7 L282.2 499 L280.7 499.6 L279.2 500.4 L277.8 501.6 L276.4 502.9 L275.2 504.5 L274.1 506.3 L273.2 508.2 L272.6 510.1 L272.1 512.1 L271.9 514.1 L271.9 516.1 L272.1 517.9 L272.6 519.5 L273.3 521 L274.2 522.2 L275.3 523.2 L276.5 523.8Z" fill="#000" stroke="#000" stroke-width="1.5" />
<path d="M273.2 496.7 L271.9 497 L270.7 497.5 L269.5 498.2 L268.3 499.1 L267.2 500.2 L266.2 501.4 L265.2 502.8 L264.4 504.3 L263.8 505.9 L263.3 507.6 L262.9 509.2 L262.8 510.8 L262.8 512.4 L262.9 513.9 L263.3 515.3 L263.8 516.5" fill="none" stroke="#ddd" stroke-width="0.6" />
<path d="M275.7 497.6 L274.5 497.8 L273.3 498.3 L272.1 499 L270.9 499.9 L269.8 501 L268.7 502.3 L267.8 503.7 L267 505.2 L266.4 506.7 L265.9 508.4 L265.5 510 L265.3 511.6 L265.3 513.2 L265.5 514.7 L265.9 516.1 L266.4 517.3" fill="none" stroke="#fff" stroke-width="0.6" />
<path d="M278.3 498.4 L277.1 498.6 L275.9 499.1 L274.7 499.8 L273.5 500.7 L272.4 501.8 L271.3 503.1 L270.4 504.5 L269.6 506 L268.9 507.6 L268.4 509.2 L268.1 510.8 L267.9 512.5 L267.9 514 L268.1 515.5 L268.5 516.9 L269 518.2" fill="none" stroke="#fff" stroke-width="0.6" />
<path d="M280.9 499.2 L279.7 499.5 L278.4 499.9 L277.2 500.6 L276.1 501.6 L274.9 502.6 L273.9 503.9 L273 505.3 L272.2 506.8 L271.5 508.4 L271 510 L270.7 511.7 L270.5 513.3 L270.5 514.9 L270.7 516.4 L271 517.7 L271.5 519" fill="none" stroke="#eee" stroke-width="0.6" />
<path d="M277.8 521.5 L278.9 521.8 L280 521.8 L281.2 521.6 L282.3 521.2 L283.5 520.5 L284.6 519.6 L285.7 518.5 L286.7 517.2 L287.5 515.8 L288.2 514.3 L288.7 512.7 L289.1 511.1 L289.3 509.5 L289.3 508 L289.1 506.6 L288.8 505.3 L288.2 504.1 L287.6 503.2 L286.7 502.4 L285.8 501.9 L284.7 501.6 L283.6 501.6 L282.4 501.8 L281.3 502.2 L280.1 502.9 L279 503.8 L277.9 504.9 L276.9 506.2 L276.1 507.6 L275.4 509.1 L274.9 510.7 L274.5 512.3 L274.3 513.9 L274.3 515.4 L274.5 516.8 L274.8 518.1 L275.4 519.3 L276 520.2 L276.9 521 L277.8 521.5Z" fill="#050505" stroke="#fff" stroke-width="0.8" />
<path d="M279.5 515 L282.5 511.5" fill="none" stroke="#ddd" stroke-width="0.6" />
<path d="M283 514.5 L284.5 512.5" fill="none" stroke="#ddd" stroke-width="0.6" />
<path d="M281.5 506.5 L282.5 505.5" fill="none" stroke="#ddd" stroke-width="0.6" />
<path d="M278.5 511 L279.6 509.8" fill="none" stroke="#ddd" stroke-width="0.6" />
<path d="M286.8 501.2 L291 503.2 L294.6 506 L295.8 509.5 L295.9 514.6" fill="none" stroke="#000" stroke-width="3.4" stroke-linecap="round" stroke-linejoin="round"/>
<path d="M286.8 501.2 L291 503.2 L294.6 506" fill="none" stroke="#fff" stroke-width="0.6" stroke-linecap="round" stroke-linejoin="round"/>
<path d="M295.8 537.5 L294.7 536.7 L293.7 535.6 L293 534.3 L292.5 532.8 L292.3 531.1 L292.2 529.3 L292.5 527.4 L292.9 525.5 L293.6 523.6 L294.6 521.7 L295.6 519.9 L296.9 518.3 L298.3 516.9 L299.8 515.7 L301.3 514.8 L302.9 514.1 L304.4 513.7 L305.9 513.6 L307.3 513.9 L308.6 514.4 L330 526.3 L331.1 527.1 L332 528.1 L332.8 529.4 L333.3 530.9 L333.5 532.6 L333.5 534.4 L333.3 536.3 L332.8 538.2 L332.1 540.2 L331.2 542 L330.1 543.8 L328.9 545.4 L327.5 546.8 L326 548 L324.5 549 L322.9 549.6 L321.4 550 L319.9 550.1 L318.5 549.9 L317.2 549.3Z" fill="#fff" stroke="#000" stroke-width="2.2" stroke-linejoin="round"/>
<path d="M317.2 549.3 L318.5 549.9 L319.9 550.1 L321.4 550 L322.9 549.6 L324.5 549 L326 548 L327.5 546.8 L328.9 545.4 L330.1 543.8 L331.2 542 L332.1 540.2 L332.8 538.2 L333.3 536.3 L333.5 534.4 L333.5 532.6 L333.3 530.9 L332.8 529.4 L332 528.1 L331.1 527.1 L330 526.3 L328.7 525.7 L327.3 525.5 L325.8 525.6 L324.3 526 L322.7 526.6 L321.2 527.6 L319.7 528.8 L318.3 530.2 L317.1 531.8 L316 533.6 L315.1 535.4 L314.4 537.4 L313.9 539.3 L313.7 541.2 L313.7 543 L313.9 544.7 L314.4 546.2 L315.2 547.5 L316.1 548.5 L317.2 549.3Z" fill="#fff" stroke="#000" stroke-width="2.2" />
<path d="M319.9 544.4 L320.5 544.7 L321.2 544.9 L321.9 544.9 L322.6 544.8 L323.3 544.6 L324.1 544.2 L324.8 543.8 L325.6 543.2 L326.2 542.6 L326.9 541.9 L327.5 541.1 L328 540.2 L328.4 539.3 L328.8 538.4 L329.1 537.5 L329.2 536.6 L329.3 535.7 L329.3 534.8 L329.2 534 L329 533.3 L328.7 532.6 L328.3 532 L327.8 531.5 L327.3 531.2 L326.7 530.9 L326 530.7 L325.3 530.7 L324.6 530.8 L323.9 531 L323.1 531.4 L322.4 531.8 L321.6 532.4 L321 533 L320.3 533.7 L319.7 534.5 L319.2 535.4 L318.8 536.3 L318.4 537.2 L318.1 538.1 L318 539 L317.9 539.9 L317.9 540.8 L318 541.6 L318.2 542.3 L318.5 543 L318.9 543.6 L319.4 544.1 L319.9 544.4Z" fill="none" stroke="#000" stroke-width="2.1" />
<path d="M339.8 565.9 L341 566.3 L342.3 566.5 L343.7 566.5 L345.1 566.3 L346.5 565.8 L347.9 565.1 L349.2 564.2 L350.5 563.1 L351.7 561.9 L352.8 560.5 L353.7 559 L354.5 557.4 L355.2 555.7 L355.7 554 L356 552.2 L356.1 550.5 L356.1 548.9 L355.8 547.3 L355.4 545.8 L354.8 544.4 L354.1 543.2 L353.2 542.2 L352.2 541.3 L351 540.7 L349.8 540.3 L348.5 540.1 L347.1 540.1 L345.7 540.3 L344.3 540.8 L342.9 541.5 L341.6 542.4 L340.3 543.5 L339.1 544.7 L338 546.1 L337.1 547.6 L336.3 549.2 L335.6 550.9 L335.1 552.6 L334.8 554.4 L334.7 556.1 L334.7 557.7 L335 559.3 L335.4 560.8 L336 562.2 L336.7 563.4 L337.6 564.4 L338.6 565.3 L339.8 565.9Z" fill="#fff" stroke="#000" stroke-width="3" />
<path d="M342.1 560.8 L342.8 561 L343.7 561.1 L344.6 560.9 L345.5 560.6 L346.4 560.1 L347.3 559.4 L348.1 558.6 L348.9 557.6 L349.6 556.6 L350.2 555.4 L350.6 554.2 L350.9 553 L351.1 551.8 L351.2 550.6 L351.1 549.5 L350.9 548.5 L350.5 547.6 L350 546.8 L349.4 546.2 L348.7 545.8 L348 545.6 L347.1 545.5 L346.2 545.7 L345.3 546 L344.4 546.5 L343.5 547.2 L342.7 548 L341.9 549 L341.2 550 L340.6 551.2 L340.2 552.4 L339.9 553.6 L339.7 554.8 L339.6 556 L339.7 557.1 L339.9 558.1 L340.3 559 L340.8 559.8 L341.4 560.4 L342.1 560.8Z" fill="#fff" stroke="#000" stroke-width="1.9" />
<path d="M342.2 560.1 L343 560 L343.8 559.7 L344.6 559.2 L345.4 558.6 L346.2 557.8 L346.9 556.9 L347.6 555.9 L348.2 554.9 L348.6 553.7 L349 552.6 L349.2 551.4 L349.2 550.3 L349.2 549.3 L349 548.3 L348.7 547.5 L348.3 546.8 L347.7 546.3 L347.1 545.9 L346.4 545.7 L345.6 545.7" fill="none" stroke="#000" stroke-width="1.5" />
<path d="M372 555.2 L370.9 555.3 L369.7 555.6 L368.5 556.2 L367.3 556.9 L366.2 557.8 L365.1 558.9 L364 560.1 L363.1 561.4 L362.2 562.8 L361.5 564.3 L360.9 565.9 L360.4 567.5 L360 569.1 L359.8 570.7 L359.8 572.3 L359.9 573.8 L360.1 575.2 L360.5 576.5 L361 577.7 L361.7 578.8 L362.5 579.6 L363.3 580.3 L364.3 580.8 L365.4 581.1 L366.5 581.2 L367.7 581.1 L368.8 580.8 L370 580.4 L371.2 579.7 L372.4 578.8 L373.5 577.8 L374.6 576.6 L375.5 575.3 L376.4 573.9 L377.2 572.4 L377.8 570.9 L378.3 569.2 L378.7 567.6 L378.9 566 L379 564.4 L379 562.9 L378.7 561.5 L378.4 560.1 L377.9 558.9 L377 561.1 L377.3 562 L377.6 563.1 L377.7 564.2 L377.7 565.4 L377.6 566.6 L377.4 567.9 L377.1 569.2 L376.7 570.5 L376.2 571.7 L375.6 572.9 L374.9 574 L374.2 575.1 L373.4 576 L372.5 576.8 L371.6 577.5 L370.7 578.1 L369.8 578.5 L368.9 578.7 L368 578.8 L367.2 578.7 L366.4 578.5 L365.6 578.1 L365 577.6 L364.4 576.9 L363.9 576.1 L363.6 575.2 L363.3 574.2 L363.1 573.1 L363.1 571.9 L363.1 570.7 L363.3 569.4 L363.6 568.1 L364 566.8 L364.5 565.6 L365.1 564.4 L365.7 563.2 L366.5 562.2 L367.3 561.2 L368.1 560.4 L369 559.6 L369.9 559 L370.8 558.6 L371.7 558.3 L372.6 558.2Z" fill="#fff" stroke="#000" stroke-width="2" stroke-linejoin="round"/>
<path d="M360.1 571.6 L360.1 573 L360.3 574.4 L360.6 575.7 L361 576.9 L361.6 577.9 L362.3 578.9 L363 579.6 L363.9 580.2 L364.9 580.6 L365.9 580.8 L367 580.8 L368.1 580.7 L369.2 580.3 L370.4 579.8 L371.5 579.1 L372.6 578.2 L373.6 577.2 L374.6 576.1 L375.5 574.8 L376.3 573.5" fill="none" stroke="#000" stroke-width="3.2" />
<rect x="369.3" y="553.1" width="3.6" height="3.4" fill="#000" transform="rotate(15 371.9 555.7)"/>
<rect x="376.3" y="557.1" width="3.4" height="3.6" fill="#000" transform="rotate(25 377.5 559.3)"/>
<path d="M140.8 612.7 L142.4 613.4 L144 613.9 L145.7 614.1 L147.5 614.1 L149.2 613.8 L150.9 613.3 L152.6 612.6 L154.2 611.6 L155.6 610.5 L156.9 609.2 L158.1 607.7 L159.1 606.1 L159.9 604.4 L160.4 602.6 L160.8 600.8 L160.9 598.9 L160.8 597.1 L160.5 595.3 L160 593.6 L159.2 592 L158.2 590.6 L157.1 589.3 L155.8 588.2 L154.4 587.3 L152.8 586.6 L151.2 586.1 L149.5 585.9 L147.7 585.9 L146 586.2 L144.3 586.7 L142.6 587.4 L141 588.4 L139.6 589.5 L138.3 590.8 L137.1 592.3 L136.1 593.9 L135.3 595.6 L134.8 597.4 L134.4 599.2 L134.3 601.1 L134.4 602.9 L134.7 604.7 L135.2 606.4 L136 608 L137 609.4 L138.1 610.7 L139.4 611.8 L140.8 612.7Z" fill="#000" stroke="#000" stroke-width="1.2" />
<path d="M143.2 611.8 L144.5 612.4 L145.9 612.8 L147.4 613 L148.8 612.9 L150.3 612.7 L151.8 612.2 L153.2 611.6 L154.5 610.8 L155.7 609.8 L156.9 608.6 L157.9 607.3 L158.7 605.9 L159.4 604.4 L159.9 602.9 L160.2 601.3 L160.4 599.7 L160.3 598.1 L160.1 596.6 L159.6 595.2 L159 593.8 L158.2 592.6 L157.3 591.5 L156.2 590.5 L155 589.8 L153.7 589.2 L152.3 588.8 L150.8 588.6 L149.4 588.7 L147.9 588.9 L146.4 589.4 L145 590 L143.7 590.8 L142.5 591.8 L141.3 593 L140.3 594.3 L139.5 595.7 L138.8 597.2 L138.3 598.7 L138 600.3 L137.8 601.9 L137.9 603.5 L138.1 605 L138.6 606.4 L139.2 607.8 L140 609 L140.9 610.1 L142 611.1 L143.2 611.8Z" fill="#fff" stroke="#000" stroke-width="1" />
<path d="M145.6 608.9 L146.6 609.4 L147.7 609.6 L148.9 609.6 L150.1 609.4 L151.3 609 L152.5 608.4 L153.5 607.6 L154.5 606.7 L155.4 605.6 L156.2 604.4 L156.7 603.1 L157.2 601.8 L157.4 600.4 L157.4 599.1 L157.3 597.8 L157 596.6 L156.5 595.5 L155.8 594.5 L155 593.7 L154 593.1 L153 592.6 L151.9 592.4 L150.7 592.4 L149.5 592.6 L148.3 593 L147.1 593.6 L146.1 594.4 L145.1 595.3 L144.2 596.4 L143.4 597.6 L142.9 598.9 L142.4 600.2 L142.2 601.6 L142.2 602.9 L142.3 604.2 L142.6 605.4 L143.1 606.5 L143.8 607.5 L144.6 608.3 L145.6 608.9Z" fill="#fff" stroke="#000" stroke-width="2.8" />
<path d="M147.7 606.9 L148.4 607.1 L149.1 607.3 L149.9 607.3 L150.6 607.1 L151.4 606.8 L152.2 606.4 L152.9 605.8 L153.6 605.1 L154.2 604.4 L154.7 603.6 L155.1 602.7 L155.4 601.8 L155.5 600.8 L155.6 599.9 L155.5 599.1 L155.3 598.2 L155 597.5 L154.6 596.9 L154.1 596.3 L153.5 595.9 L152.8 595.7 L152.1 595.5 L151.3 595.5 L150.6 595.7 L149.8 596 L149 596.4 L148.3 597 L147.6 597.7 L147 598.4 L146.5 599.2 L146.1 600.1 L145.8 601 L145.7 602 L145.6 602.9 L145.7 603.7 L145.9 604.6 L146.2 605.3 L146.6 605.9 L147.1 606.5 L147.7 606.9Z" fill="#1a1a1a" stroke="#000" stroke-width="1.5" />
<path d="M155.2 596.9 L154.8 596.1 L154.2 595.5 L153.5 594.9 L152.7 594.6 L151.9 594.4 L151 594.3 L150 594.5 L149.1 594.8 L148.2 595.2 L147.4 595.8 L146.6 596.6 L145.9 597.4" fill="none" stroke="#fff" stroke-width="0.7" />
<path d="M153.3 597.9 L152.8 597.6 L152.3 597.4 L151.7 597.4 L151.1 597.5 L150.4 597.7 L149.8 598.1 L149.2 598.6 L148.7 599.2 L148.2 599.9 L147.9 600.7 L147.6 601.4 L147.5 602.2" fill="none" stroke="#ddd" stroke-width="0.6" />
<path d="M153.6 610.6 L153.3 610.4 L152.9 610.2 L152.7 609.8 L152.5 609.4 L152.3 608.8 L152.2 608.2 L152.2 607.6 L152.2 606.9 L152.3 606.1 L152.5 605.4 L152.7 604.7 L153 604 L153.3 603.4 L153.6 602.8 L154 602.3 L154.4 601.9 L154.8 601.6 L155.2 601.4 L155.6 601.4 L156 601.4 L169.2 606.2 L169.6 606.5 L170 606.9 L170.3 607.4 L170.5 607.9 L170.6 608.6 L170.6 609.3 L170.5 610 L170.4 610.8 L170.1 611.6 L169.8 612.3 L169.4 613 L169 613.7 L168.5 614.3 L167.9 614.8 L167.3 615.2 L166.8 615.5 L166.2 615.7 L165.6 615.8 L165.1 615.8 L164.6 615.6Z" fill="#fff" stroke="#000" stroke-width="1.9" stroke-linejoin="round"/>
<path d="M162.6 603.8 L162.1 603.7 L161.5 603.8 L160.9 604 L160.2 604.5 L159.7 605.1 L159.1 605.8 L158.6 606.6 L158.2 607.5 L158 608.4 L157.8 609.3 L157.7 610.2 L157.8 611 L157.9 611.8 L158.2 612.4 L158.6 612.8 L159.1 613.1 L164.6 615.6 L164.1 615.2 L163.7 614.7 L163.4 614 L163.2 613.2 L163.2 612.3 L163.3 611.4 L163.6 610.4 L164 609.5 L164.5 608.6 L165.1 607.8 L165.8 607.1 L166.5 606.6 L167.2 606.2 L167.9 606 L168.6 606 L169.2 606.2Z" fill="#0a0a0a" stroke="#000" stroke-width="1.2" />
<path d="M164.6 615.6 L165.2 615.8 L165.9 615.8 L166.6 615.6 L167.3 615.2 L168 614.7 L168.7 614 L169.3 613.2 L169.8 612.3 L170.2 611.4 L170.5 610.4 L170.6 609.5 L170.6 608.6 L170.4 607.8 L170.1 607.1 L169.7 606.6 L169.2 606.2 L168.6 606 L167.9 606 L167.2 606.2 L166.5 606.6 L165.8 607.1 L165.1 607.8 L164.5 608.6 L164 609.5 L163.6 610.4 L163.3 611.4 L163.2 612.3 L163.2 613.2 L163.4 614 L163.7 614.7 L164.1 615.2 L164.6 615.6Z" fill="#0a0a0a" stroke="#000" stroke-width="1.8" />
<path d="M162.6 604.3 L162.2 604.5 L161.7 604.7 L161.2 605.1 L160.8 605.5 L160.4 606 L160 606.6 L159.7 607.2 L159.4 607.9 L159.2 608.5 L159 609.2 L158.9 609.9 L158.8 610.5 L158.8 611.2 L158.9 611.7 L159 612.3 L159.2 612.7" fill="none" stroke="#666" stroke-width="0.5" />
<path d="M164.2 604.8 L163.7 605 L163.2 605.2 L162.7 605.6 L162.3 606 L161.8 606.5 L161.4 607.1 L161.1 607.7 L160.8 608.4 L160.5 609 L160.3 609.7 L160.2 610.4 L160.1 611.1 L160.1 611.7 L160.2 612.3 L160.3 612.8 L160.5 613.3" fill="none" stroke="#666" stroke-width="0.5" />
<path d="M165.7 605.3 L165.2 605.5 L164.7 605.8 L164.2 606.1 L163.7 606.5 L163.3 607 L162.9 607.6 L162.5 608.2 L162.1 608.8 L161.9 609.5 L161.7 610.2 L161.5 610.9 L161.4 611.6 L161.4 612.2 L161.5 612.8 L161.6 613.3 L161.8 613.8" fill="none" stroke="#666" stroke-width="0.5" />
<path d="M183 611.2 L179.6 618.2 L177 624.2 L178.3 628.3 L181.7 630.2 L185.7 630.4 L187.4 634.6 L187.3 641 L185 646.4 L181.7 643.8 L177.8 636.6 L179.6 634.4 L181.5 635.2" fill="none" stroke="#000" stroke-width="3.1" stroke-linecap="round" stroke-linejoin="round"/>
<path d="M191 609.6 L195.2 614 L197.2 618.2 L195.8 622.2 L192.5 626.3 L191.4 631.7 L191.1 638.4 L191.8 644.6" fill="none" stroke="#000" stroke-width="3.1" stroke-linecap="round" stroke-linejoin="round"/>
<path d="M183 611.2 L179.6 618.2 L177 624.2 L178.3 628.3 L181.7 630.2 L185.7 630.4" fill="none" stroke="#fff" stroke-width="0.5" stroke-linecap="round" stroke-linejoin="round" stroke-dasharray="3 2"/>
<path d="M187.3 641 L185 646.4 L181.7 643.8 L177.8 636.6" fill="none" stroke="#fff" stroke-width="0.5" stroke-linecap="round" stroke-linejoin="round"/>
<path d="M197.2 618.2 L195.8 622.2 L192.5 626.3 L191.4 631.7 L191.1 638.4 L191.8 644.6" fill="none" stroke="#fff" stroke-width="0.5" stroke-linecap="round" stroke-linejoin="round" stroke-dasharray="4 2"/>
<path d="M240.4 665.8 L241.4 666.2 L242.6 666.4 L243.8 666.4 L245.1 666.1 L246.3 665.6 L247.6 664.9 L248.8 664 L249.9 662.9 L250.9 661.6 L251.8 660.2 L252.5 658.8 L253 657.3 L253.4 655.7 L253.5 654.2 L253.5 652.8 L253.2 651.4 L252.8 650.2 L252.2 649.1 L251.4 648.3 L250.4 647.6 L249.4 647.2 L248.2 647 L247 647 L245.7 647.3 L244.5 647.8 L243.2 648.5 L242 649.4 L240.9 650.5 L239.9 651.8 L239 653.2 L238.3 654.6 L237.8 656.1 L237.4 657.7 L237.3 659.2 L237.3 660.6 L237.6 662 L238 663.2 L238.6 664.3 L239.4 665.1 L240.4 665.8Z" fill="#fff" stroke="#000" stroke-width="1.9" />
<path d="M253 651 L252.5 650 L251.9 649.2 L251.2 648.5 L250.3 648 L249.3 647.7 L248.3 647.5 L247.2 647.6 L246.1 647.9 L245 648.4 L243.9 649 L242.8 649.8 L241.8 650.8 L240.9 651.9 L240.1 653.1 L239.4 654.3 L238.8 655.7 L238.4 657 L238.1 658.4 L238.1 659.7 L238.1 661 L238.4 662.1 L238.8 663.2 L239.3 664.2 L240 664.9 L240.8 665.5 L241.7 666 L242.7 666.2 L243.7 666.3 L244.8 666.1 L246 665.8" fill="none" stroke="#000" stroke-width="2.5" />
<path d="M243 662.4 L243.7 662.6 L244.5 662.7 L245.3 662.5 L246.2 662 L247 661.4 L247.8 660.6 L248.6 659.7 L249.2 658.6 L249.8 657.5 L250.2 656.4 L250.4 655.3 L250.5 654.2 L250.4 653.3 L250.1 652.5 L249.7 651.8 L249.2 651.4 L248.5 651.2 L247.7 651.1 L246.9 651.3 L246 651.8 L245.2 652.4 L244.4 653.2 L243.6 654.1 L243 655.2 L242.4 656.3 L242 657.4 L241.8 658.5 L241.7 659.6 L241.8 660.5 L242.1 661.3 L242.5 662 L243 662.4Z" fill="#fff" stroke="#000" stroke-width="1.6" />
<g fill="none" stroke="#000" stroke-width="1.75"><path d="M432.25 561.3 H611.7" stroke-dasharray="6.9 3.9"/><path d="M432.5 650.9 H611.2" stroke-dasharray="6.6 4.1"/><path d="M433.1 562.8 V651.7" stroke-dasharray="5.9 5.05"/><path d="M610.9 566.25 V651.7" stroke-dasharray="5.9 5.05"/></g>
<path d="M442.8 630.3 L442.7 629.3 L442.8 628.1 L442.9 626.7 L443.1 625.3 L443.3 623.8 L443.6 622.3 L444 621 L444.4 619.8 L444.8 618.7 L445.3 617.6 L445.9 616.5 L446.4 615.3 L447.1 614.2 L447.8 613.1 L448.5 612 L449.2 611 L449.9 610 L450.7 609 L451.5 607.9 L452.3 606.9 L453.2 605.9 L454.1 604.9 L455 604 L456 603 L456.8 602.2 L457.7 601.4 L458.6 600.7 L459.5 599.9 L460.4 599.1 L461.3 598.4 L462.3 597.6 L463.3 596.9 L464.4 596.2 L465.4 595.5 L466.5 594.7 L467.5 594.1 L468.5 593.4 L469.6 592.8 L470.7 592.1 L471.8 591.5 L472.9 590.8 L474.1 590.2 L475.3 589.6 L476.4 589 L477.6 588.4 L478.8 587.8 L480 587.2 L481.1 586.7 L482.2 586.2 L483.3 585.8 L484.5 585.3 L485.6 584.8 L486.8 584.4 L488 583.9 L489.1 583.5 L490.3 583 L491.5 582.6 L492.6 582.2 L493.8 581.8 L495 581.4 L496.1 581 L497.3 580.6 L498.5 580.2 L499.7 579.9 L501 579.5 L502.2 579.1 L503.4 578.8 L504.6 578.4 L505.7 578.1 L506.8 577.8 L507.9 577.5 L509 577.2 L510 576.9 L511.4 576.5 L512.7 576.1 L513.9 575.8 L515 575.5 L516.1 575.2 L517.3 574.9 L518.6 574.6 L520 574.2 L521 573.9 L522.1 573.6 L523.3 573.3 L524.4 573 L525.6 572.7 L526.9 572.3 L528.1 572 L529.3 571.6 L530.6 571.3 L531.8 571 L533 570.7 L534.2 570.4 L535.4 570.1 L536.6 569.8 L537.9 569.6 L539.1 569.3 L540.3 569.1 L541.5 568.8 L542.8 568.6 L543.9 568.4 L545.1 568.1 L546.3 567.9 L547.4 567.7 L548.5 567.5 L549.9 567.3 L551.3 567 L552.6 566.8 L553.9 566.6 L555.2 566.4 L556.4 566.2 L557.6 566.1 L558.8 565.9 L559.9 565.8 L561.3 565.7 L562.6 565.6 L563.8 565.6 L565 565.5 L566.2 565.6 L567.3 565.7 L568.4 565.8 L569.7 566.1 L570.9 566.4 L572.1 566.9 L573.2 567.4 L574.4 567.9 L575.5 568.5 L576.6 569.1 L577.5 569.8 L578.5 570.5 L579.5 571.3 L580.5 572 L581.6 572.8 L582.7 573.5 L583.7 574.1 L584.8 574.8 L585.9 575.4 L587 576 L588.1 576.7 L589.2 577.3 L590.3 577.9 L591.2 578.5 L592.4 579.3 L593.6 580.1 L594.7 580.9 L595.7 581.7 L596.6 582.4 L597.3 583.2 L598.3 584.7 L598.7 586.1 L598.6 587.5 L598.1 588.5 L597.3 589.6 L596.3 590.6 L595.1 591.6 L594.1 592.2 L593.1 592.8 L591.9 593.4 L590.7 594 L589.5 594.5 L588.4 594.9 L587.2 595.2 L586 595.5 L584.8 595.7 L583.6 595.9 L582.4 596 L581.2 596 L580.1 596 L578.9 595.9 L577.8 595.7 L576.6 595.5 L575.4 595.2 L574.1 594.9 L573 594.6 L571.8 594.3 L570.6 593.9 L569.3 593.5 L568.1 593.1 L566.8 592.7 L565.6 592.3 L564.4 591.9 L563.1 591.5 L561.9 591.1 L560.7 590.7 L559.5 590.3 L558.3 589.9 L557 589.6 L555.8 589.3 L554.5 589.1 L553.3 588.9 L552 588.7 L550.8 588.6 L549.6 588.5 L548.5 588.5 L547 588.5 L545.7 588.6 L544.3 588.8 L542.9 589.1 L541.4 589.5 L540.3 589.8 L539.2 590.1 L538.1 590.4 L536.9 590.8 L535.7 591.3 L534.3 591.8 L532.9 592.4 L531.4 593.2 L530.4 593.7 L529.4 594.2 L528.4 594.8 L527.2 595.5 L526.1 596.1 L524.9 596.8 L523.7 597.6 L522.5 598.3 L521.3 599 L520.2 599.7 L519 600.4 L518 601.1 L516.9 601.7 L516 602.2 L514.7 603 L513.5 603.6 L512.4 604.2 L511.4 604.8 L510.4 605.4 L509.4 605.9 L508.5 606.5 L507.5 607 L506.5 607.6 L505.5 608.2 L504.4 608.9 L503.3 609.5 L502.2 610.2 L501.2 610.9 L500.1 611.6 L499 612.3 L498 613 L496.9 613.7 L495.9 614.3 L495 615 L493.8 615.7 L492.6 616.4 L491.5 617.1 L490.4 617.8 L489.4 618.4 L488.4 619.1 L487.5 619.9 L486.7 620.7 L486 621.7 L485.3 622.8 L484.8 623.9 L484.3 625 L483.9 626.2 L483.5 627.4 L483 628.5 L482.3 629.7 L481.7 631 L481.1 632.3 L480.5 633.5 L479.8 634.7 L479.2 636 L478.7 637.2 L478.2 638.6 L477.6 639.9 L477.1 641.2 L476.5 642.3 L475.8 643.2 L474.7 643.9 L473.6 644.3 L472.3 644.6 L471 644.8 L469.8 645 L468.6 645.2 L467.3 645.4 L466.1 645.6 L464.8 645.7 L463.5 645.7 L462.3 645.7 L461.1 645.7 L459.9 645.6 L458.7 645.4 L457.4 645.2 L456 644.8 L454.9 644.5 L453.6 644.1 L452.3 643.7 L451 643.2 L449.7 642.7 L448.5 642.1 L447.5 641.5 L446.7 640.8 L446 639.6 L445.7 638.3 L445.5 636.8 L445.5 635.3 L445.4 634 L445.2 633 L444.3 631.9 L443.4 631.5Z" fill="#fff" stroke="#000" stroke-width="2.1" stroke-linecap="round" stroke-linejoin="round"/>
<path d="M454.9 644.4 L454.8 643.5 L454.6 642.5 L454.3 641.2 L454 639.7 L453.8 638.2 L453.5 636.7 L453.4 635.2 L453.3 633.7 L453.3 632.5 L453.3 631.2 L453.4 629.9 L453.6 628.6 L453.7 627.3 L453.9 626.1 L454.2 624.8 L454.5 623.6 L454.8 622.5 L455.2 621.2 L455.7 620.1 L456.2 619 L456.7 617.9 L457.4 616.8 L458.1 615.7 L458.9 614.6 L459.7 613.5 L460.4 612.6 L461.2 611.7 L462 610.8 L462.8 609.9 L463.7 609 L464.6 608.1 L465.6 607.2 L466.5 606.3 L467.5 605.4 L468.5 604.6 L469.5 603.7 L470.4 603 L471.3 602.3 L472.3 601.5 L473.3 600.8 L474.2 600.1 L475.2 599.4 L476.3 598.7 L477.3 598.1 L478.3 597.4 L479.4 596.8 L480.4 596.1 L481.5 595.5 L482.5 594.9 L483.5 594.3 L484.5 593.8 L485.4 593.3 L486.4 592.8 L487.4 592.3 L488.5 591.8 L489.6 591.2 L490.8 590.7 L492 590.1 L493.4 589.4 L495 588.7 L495.9 588.3 L496.9 587.9 L497.9 587.4 L499 586.9 L500.1 586.4 L501.3 585.9 L502.5 585.3 L503.7 584.8 L504.9 584.2 L506.2 583.7 L507.4 583.1 L508.7 582.6 L510 582 L511.2 581.5 L512.4 580.9 L513.6 580.4 L514.8 579.9 L515.9 579.4 L517 579 L518.1 578.5 L519.1 578.2 L520 577.8 L521.6 577.2 L523 576.7 L524.3 576.2 L525.5 575.8 L526.7 575.5 L527.8 575.2 L528.9 574.9 L529.9 574.6 L530.9 574.4 L532 574.1 L533.1 573.8 L534.2 573.5 L535.4 573.2 L536.6 572.9 L537.8 572.5 L539 572.2 L540.2 571.9 L541.5 571.6 L542.7 571.3 L543.8 571 L545 570.7 L546.2 570.5 L547.3 570.2 L548.5 570 L549.8 569.7 L551.2 569.4 L552.6 569.1 L553.9 568.9 L555.3 568.6 L556.6 568.4 L557.8 568.2 L559 568.1 L560.2 567.9 L561.3 567.8 L562.8 567.7 L564.1 567.6 L565.3 567.6 L566.5 567.7 L567.6 567.7 L568.7 567.9 L569.9 568.1 L571.2 568.5 L572.5 569 L573.7 569.5 L574.9 570.1 L576 570.7 L577 571.2 L578.5 572.2 L579.6 573.2 L580.4 573.8" fill="none" stroke="#000" stroke-width="1.8" stroke-linecap="round" stroke-linejoin="round"/>
<path d="M486.7 620.7 L487 620 L487.4 619 L487.8 617.9 L488.3 616.7 L488.9 615.4 L489.6 614.2 L490.5 613 L491.2 612.2 L492 611.3 L492.9 610.5 L493.9 609.7 L494.9 608.8 L495.9 608 L497.1 607.1 L498.2 606.3 L499.5 605.4 L500.4 604.8 L501.4 604.1 L502.4 603.4 L503.5 602.7 L504.6 602 L505.8 601.4 L506.9 600.7 L508 600 L509.1 599.4 L510.2 598.7 L511.2 598.2 L512.1 597.6 L513 597.1 L514.5 596.3 L515.7 595.6 L516.7 595 L517.7 594.6 L518.7 594.1 L520 593.5 L521 593 L522 592.6 L523.1 592.1 L524.2 591.6 L525.3 591.2 L526.4 590.7 L527.6 590.2 L528.8 589.7 L530 589.2 L531.1 588.7 L532.3 588.2 L533.6 587.6 L535 587 L536.3 586.4 L537.6 585.9 L538.7 585.3 L539.8 584.9 L540.7 584.5 L541.4 584.2" fill="none" stroke="#000" stroke-width="1.8" stroke-linecap="round" stroke-linejoin="round"/>
<path d="M541.4 584.2 L543.6 585.8 L546.5 586 L548.5 583.5" fill="none" stroke="#000" stroke-width="1.8" stroke-linecap="round" stroke-linejoin="round"/>
<path d="M548.5 583.5 L549.1 582.6 L550.1 581.3 L551.3 579.9 L552.2 579.1 L553.1 578.3 L554.1 577.4 L555.2 576.6 L556.3 575.8 L557.3 575.2 L558.3 574.5 L559.4 573.9 L560.5 573.3 L561.6 572.8 L562.7 572.2 L563.9 571.7 L565.1 571.2 L566.2 570.8 L567.5 570.4 L568.7 570 L569.9 569.8 L571.4 569.7 L573 569.9 L574.6 570.1 L576 570.3 L577 570.4" fill="none" stroke="#000" stroke-width="3" stroke-linecap="round" stroke-linejoin="round"/>
<path d="M560.6 582.8 L561.2 582.2 L562.1 581.3 L563.2 580.3 L564.4 579.3 L565.6 578.5 L566.6 577.9 L567.8 577.4 L569 576.9 L570.2 576.5 L571.5 576 L572.7 575.7 L574 575.3 L575.4 575 L576.8 574.7 L578.2 574.4 L579.3 574.2 L580.1 574.1" fill="none" stroke="#000" stroke-width="2" stroke-linecap="round" stroke-linejoin="round"/>
<path d="M567.7 586.3 L568.4 585.7 L569.2 584.9 L570.3 583.9 L571.5 582.9 L572.7 582.1 L573.8 581.5 L574.9 581 L576.1 580.5 L577.3 580 L578.6 579.6 L579.8 579.2 L581.1 578.8 L582.5 578.5 L584 578.1 L585.3 577.8 L586.4 577.6 L587.2 577.4" fill="none" stroke="#000" stroke-width="2" stroke-linecap="round" stroke-linejoin="round"/>
<path d="M573.4 589.9 L574.1 589.4 L575 588.7 L576.2 587.9 L577.4 587.1 L578.6 586.3 L579.8 585.6 L581 585.1 L582.2 584.5 L583.4 584 L584.6 583.6 L585.8 583.2 L586.9 582.8 L588.3 582.4 L589.7 582 L591 581.7 L592.1 581.4 L592.9 581.2" fill="none" stroke="#000" stroke-width="2" stroke-linecap="round" stroke-linejoin="round"/>
<path d="M573 590.6 L573.9 590.9 L575.2 591.5 L576.7 592 L578.3 592.5 L579.8 592.7 L581.2 592.8 L582.7 592.7 L584.1 592.5 L585.6 592.1 L586.9 591.7 L588.3 591.2 L589.7 590.6 L591.1 589.9 L592.3 589.2 L593.4 588.5 L594.4 587.5 L595.2 586.3 L595.9 585.3 L596.3 584.6" fill="none" stroke="#000" stroke-width="1.6" stroke-linecap="round" stroke-linejoin="round"/>
<path d="M558.5 567 L559.2 567 L560.3 567 L561.6 566.9 L563 566.9 L564.5 566.9 L565.9 567 L567.2 567.1 L568.4 567.2 L569.8 567.6 L571.1 568 L572.3 568.5 L573.4 569 L574.5 569.5 L575.5 570.1 L576.9 570.8 L578.2 571.7 L579.4 572.5 L580.5 573.3 L581.2 573.8" fill="none" stroke="#000" stroke-width="2.2" stroke-linecap="round" stroke-linejoin="round"/>
<path d="M442.8 630.3 L445.2 632.8 L453.7 634.8" fill="none" stroke="#000" stroke-width="1.8" stroke-linecap="round" stroke-linejoin="round"/>
<path d="M465.4 636.7 L466.5 636.8 L467.7 636.5 L468.7 635.9 L469.7 635.1 L470.6 634.1 L471.3 632.8 L471.8 631.5 L472.1 630 L472.2 628.5 L472.1 627.1 L471.8 625.7 L471.2 624.5 L470.5 623.4 L469.6 622.6 L468.6 622 L467.5 621.7 L466.4 621.7 L465.3 622 L464.2 622.5 L463.2 623.3 L462.4 624.4 L461.7 625.6 L461.2 627 L460.8 628.4 L460.7 629.9 L460.9 631.4 L461.2 632.7 L461.7 634 L462.5 635 L463.3 635.9 L464.3 636.4 L465.4 636.7Z" fill="#fff" stroke="#000" stroke-width="2.1" />
<path d="M461.7 625.8 L478.2 636" fill="none" stroke="#000" stroke-width="3.2" stroke-linecap="round" stroke-linejoin="round"/>
<path d="M467.2 629.4 L477.6 635.7" fill="none" stroke="#fff" stroke-width="0.7" stroke-linecap="round" stroke-linejoin="round"/>
<path d="M463.4 650.0 L437.6 676.4" stroke="#000" stroke-width="2.3" stroke-dasharray="2.2 2.25" fill="none"/>
<path d="M425.6 689.6 L437.0 677.6" stroke="#000" stroke-width="3.7" fill="none"/>
<path d="M427.6 687.6 L436.4 678.3" stroke="#bbb" stroke-width="0.6" stroke-dasharray="0.7 1.3" fill="none"/>
<ellipse cx="423.4" cy="691.5" rx="3.5" ry="3.9" transform="rotate(-40 423.4 691.5)" fill="#fff" stroke="#000" stroke-width="1.9"/>
<path d="M422.2 692.6 L424.0 690.6" stroke="#000" stroke-width="0.7" fill="none"/>
<text x="38" y="28" font-size="14.3" textLength="230.8" stroke="#000" stroke-width="0.25">Copyright Peugeot Motocycles 2002</text>
<g stroke="#000" stroke-width="0.3">
<path transform="translate(350.8 158.2) scale(0.01758 -0.01758)" d="M806 0 L525 0 L525 1059 Q371 915 162 846 L162 1101 Q272 1137 401 1237.5 Q530 1338 578 1472 L806 1472 Z" fill="#000" vector-effect="non-scaling-stroke"/><path transform="translate(370.8 158.2) scale(0.01758 -0.01758)" d="M806 0 L525 0 L525 1059 Q371 915 162 846 L162 1101 Q272 1137 401 1237.5 Q530 1338 578 1472 L806 1472 Z" fill="#000" vector-effect="non-scaling-stroke"/>
<path transform="translate(364.2 214.2) scale(0.01758 -0.01758)" d="M806 0 L525 0 L525 1059 Q371 915 162 846 L162 1101 Q272 1137 401 1237.5 Q530 1338 578 1472 L806 1472 Z" fill="#000" vector-effect="non-scaling-stroke"/><text x="384.6" y="214.2" font-size="36" font-weight="bold">4</text>
<path transform="translate(209.6 357.9) scale(0.01758 -0.01758)" d="M806 0 L525 0 L525 1059 Q371 915 162 846 L162 1101 Q272 1137 401 1237.5 Q530 1338 578 1472 L806 1472 Z" fill="#000" vector-effect="non-scaling-stroke"/><text x="226.2" y="357.9" font-size="36" font-weight="bold">2</text>
<text x="525" y="702" font-size="36" font-weight="bold">9</text>
</g>
<g stroke="#000" stroke-width="0.5">
<path transform="translate(272.6 260.7) scale(0.00781 -0.00781)" d="M763 0 L583 0 L583 1147 Q518 1085 412.5 1023 Q307 961 223 930 L223 1104 Q374 1175 487 1276 Q600 1377 647 1472 L763 1472 Z" fill="#000" vector-effect="non-scaling-stroke"/><text x="281.5" y="260.7" font-size="16" >3</text>
<path transform="translate(494.3 332.2) scale(0.00781 -0.00781)" d="M763 0 L583 0 L583 1147 Q518 1085 412.5 1023 Q307 961 223 930 L223 1104 Q374 1175 487 1276 Q600 1377 647 1472 L763 1472 Z" fill="#000" vector-effect="non-scaling-stroke"/><text x="503.2" y="332.2" font-size="16" >3</text>
<path transform="translate(191.3 542.7) scale(0.00781 -0.00781)" d="M763 0 L583 0 L583 1147 Q518 1085 412.5 1023 Q307 961 223 930 L223 1104 Q374 1175 487 1276 Q600 1377 647 1472 L763 1472 Z" fill="#000" vector-effect="non-scaling-stroke"/>
<text x="274.9" y="568.8" font-size="16" >2</text>
<text x="313.2" y="599.7" font-size="16" >3</text>
<text x="337.8" y="613" font-size="16" >4</text>
<text x="361.6" y="627.4" font-size="16" >5</text>
<text x="100.2" y="604.4" font-size="16" >6</text>
<text x="185.5" y="676.7" font-size="16" >7</text>
<text x="242.5" y="696.9" font-size="16" >8</text>
<path transform="translate(420.3 723) scale(0.00781 -0.00781)" d="M763 0 L583 0 L583 1147 Q518 1085 412.5 1023 Q307 961 223 930 L223 1104 Q374 1175 487 1276 Q600 1377 647 1472 L763 1472 Z" fill="#000" vector-effect="non-scaling-stroke"/><text x="428" y="723" font-size="16" >0</text>
</g>
<path d="M391 148.5 L416.6 147.9" stroke="#000" stroke-width="1.4" fill="none"/><path d="M421.6 147.8 L416.7 150.2 L416.5 145.6 Z" fill="#000"/>
<path d="M384.5 225.5 L384.4 247.8" stroke="#000" stroke-width="1.4" fill="none"/><path d="M384.4 252.8 L382.1 247.8 L386.7 247.8 Z" fill="#000"/>
<path d="M254 347.3 L283.3 347.3" stroke="#000" stroke-width="1.4" fill="none"/><path d="M288.3 347.3 L283.3 349.6 L283.3 345 Z" fill="#000"/>
<path d="M532.6 673 L532.6 656" stroke="#000" stroke-width="1.4" fill="none"/><path d="M532.6 651 L534.9 656 L530.3 656 Z" fill="#000"/>
<path d="M294.8 257 L313.8 257" stroke="#000" stroke-width="1.4" fill="none"/><path d="M318.8 257 L313.8 259.3 L313.8 254.7 Z" fill="#000"/>
<path d="M494 326 L474.3 326" stroke="#000" stroke-width="1.4" fill="none"/><path d="M469.3 326 L474.3 323.7 L474.3 328.3 Z" fill="#000"/>
<path d="M196.7 527 L196.7 511.8" stroke="#000" stroke-width="1.4" fill="none"/><path d="M196.7 506.8 L199 511.8 L194.4 511.8 Z" fill="#000"/>
<path d="M279 553 L279 529.4" stroke="#000" stroke-width="1.4" fill="none"/><path d="M279 524.4 L281.3 529.4 L276.7 529.4 Z" fill="#000"/>
<path d="M318.5 584.5 L318.5 557" stroke="#000" stroke-width="1.4" fill="none"/><path d="M318.5 552 L320.8 557 L316.2 557 Z" fill="#000"/>
<path d="M342.8 598 L342.8 572.7" stroke="#000" stroke-width="1.4" fill="none"/><path d="M342.8 567.7 L345.1 572.7 L340.5 572.7 Z" fill="#000"/>
<path d="M366.4 613 L366.4 587.5" stroke="#000" stroke-width="1.4" fill="none"/><path d="M366.4 582.5 L368.7 587.5 L364.1 587.5 Z" fill="#000"/>
<path d="M112.9 599.4 L128.3 599.4" stroke="#000" stroke-width="1.4" fill="none"/><path d="M133.3 599.4 L128.3 601.7 L128.3 597.1 Z" fill="#000"/>
<path d="M189.8 662.3 L189.8 651.2" stroke="#000" stroke-width="1.4" fill="none"/><path d="M189.8 646.2 L192.1 651.2 L187.5 651.2 Z" fill="#000"/>
<path d="M246.5 682.5 L246.5 672" stroke="#000" stroke-width="1.4" fill="none"/><path d="M246.5 667 L248.8 672 L244.2 672 Z" fill="#000"/>
<path d="M429.3 709.2 L429.1 698" stroke="#000" stroke-width="1.4" fill="none"/><path d="M429 693 L431.4 698 L426.8 698 Z" fill="#000"/>
</svg>
<div class="frame"></div>
</body></html>
